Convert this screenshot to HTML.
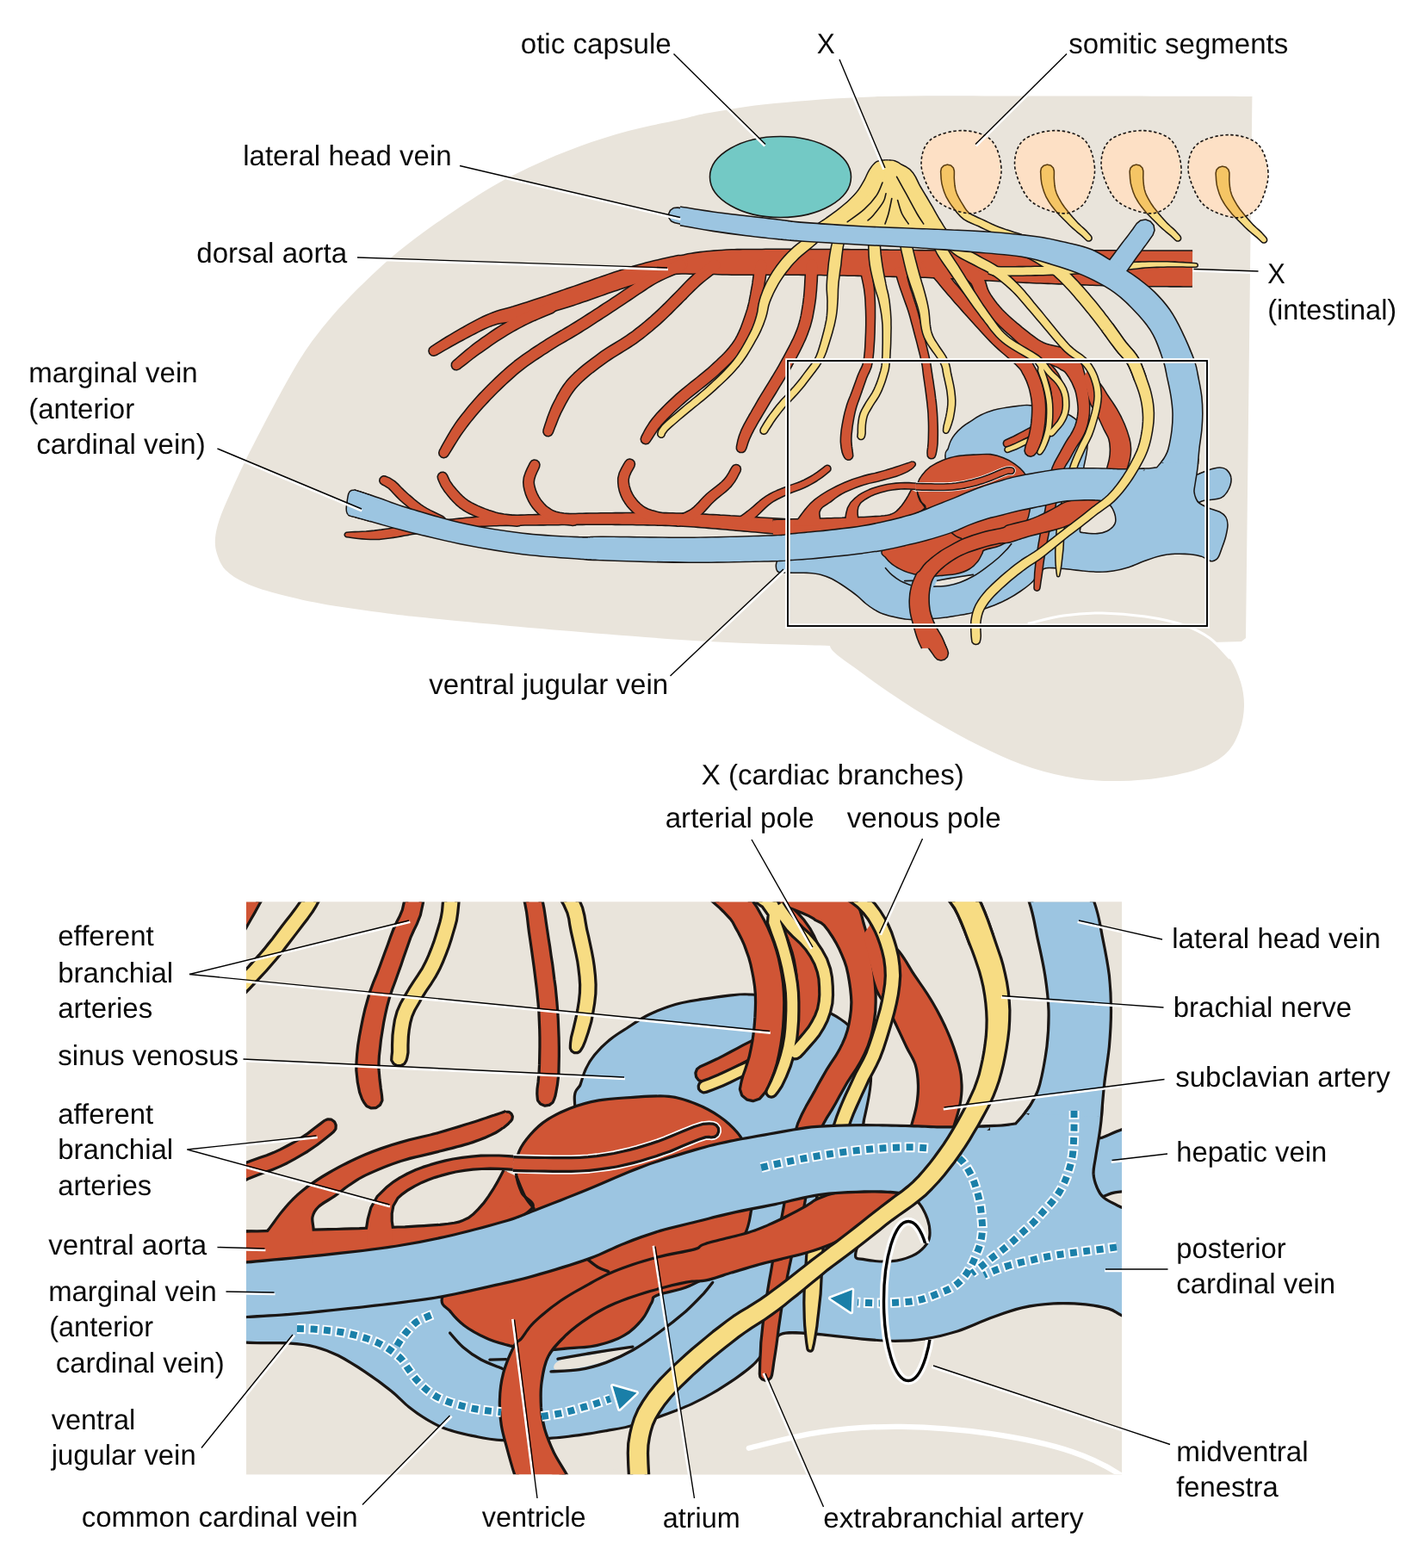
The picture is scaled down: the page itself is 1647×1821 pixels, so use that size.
<!DOCTYPE html>
<html lang="en"><head><meta charset="utf-8"><title>Branchial circulation and vagus nerve</title>
<style>
html,body{margin:0;padding:0;background:#fff}
svg{display:block}
.b{fill:#1a1614;stroke:#1a1614;stroke-linejoin:round}
.e{fill:none;stroke-linejoin:round}
.t{fill:none;stroke-linecap:round;stroke-linejoin:round}
text{font-family:"Liberation Sans",Arial,Helvetica,sans-serif;font-size:33px;fill:#0a0a0a;text-rendering:geometricPrecision}
</style></head><body>
<svg width="1647" height="1821" viewBox="0 0 1647 1821">
<defs>
<clipPath id="cb"><rect x="286" y="1047.4" width="1017" height="664.8"/></clipPath>
<g id="fig">
<path d="M1454.4 112C1412 111.9 1271.7 111.5 1200 111.5C1128.3 111.5 1074 110.6 1024 112C974 113.4 933.3 116.8 900 120C866.7 123.2 842.5 127.8 824 131C805.5 134.2 804.7 135.5 789 139C773.3 142.5 749.3 146.8 730 152C710.7 157.2 691.3 163.3 673 170C654.7 176.7 636.7 184.3 620 192C603.3 199.7 589.7 206.3 573 216C556.3 225.7 536.7 238.7 520 250C503.3 261.3 486.3 273.7 473 284C459.7 294.3 451 302 440 312C429 322 417 333.7 407 344C397 354.3 388.3 364 380 374C371.7 384 364.5 393 357 404C349.5 415 343.3 425.3 335 440C326.7 454.7 315.3 476.2 307 492C298.7 507.8 291.7 521.3 285 535C278.3 548.7 272 562.7 267 574C262 585.3 257.8 594.5 255 603C252.2 611.5 250.5 618.3 250 625C249.5 631.7 250 636.8 252 643C254 649.2 256.5 656.3 262 662C267.5 667.7 275.3 672.5 285 677C294.7 681.5 305.3 685 320 689C334.7 693 353 697.3 373 701C393 704.7 418.8 708.2 440 711C461.2 713.8 465 714.5 500 718C535 721.5 596 727.5 650 732C704 736.5 771.7 742 824 745C876.3 748 940.7 749.2 964 750L1200 752L1442 745L1447 741Z" fill="#e9e4db"/><path d="M1195 724C1217.5 720.2 1220.8 717 1235 715C1249.2 713 1264.2 711.8 1280 712C1295.8 712.2 1314.2 713.7 1330 716C1345.8 718.3 1362.5 721.8 1375 726C1387.5 730.2 1396.2 734.7 1405 741C1413.8 747.3 1422 755.5 1428 764C1434 772.5 1438.2 782.7 1441 792C1443.8 801.3 1445.2 810.7 1445 820C1444.8 829.3 1443.3 839 1440 848C1436.7 857 1432.5 866.7 1425 874C1417.5 881.3 1407.7 887.2 1395 892C1382.3 896.8 1364.8 900.5 1349 903C1333.2 905.5 1316.5 906.8 1300 907C1283.5 907.2 1266.8 906.5 1250 904C1233.2 901.5 1215.7 897.3 1199 892C1182.3 886.7 1166.5 879.7 1150 872C1133.5 864.3 1116.8 855.5 1100 846C1083.2 836.5 1065.8 826 1049 815C1032.2 804 1013.2 790.8 999 780C984.8 769.2 963.8 756.7 964 750C964.2 743.3 977.3 742 1000 740C1022.7 738 1067.5 740.7 1100 738C1132.5 735.3 1172.5 727.8 1195 724Z" fill="#e9e4db"/><path d="M1195 724C1201.7 722.5 1220.8 717 1235 715C1249.2 713 1264.2 711.8 1280 712C1295.8 712.2 1314.2 713.7 1330 716C1345.8 718.3 1362.5 721.8 1375 726C1387.5 730.2 1396.2 734.7 1405 741C1413.8 747.3 1424.2 760.2 1428 764" fill="none" stroke="#fff" stroke-width="3" stroke-linecap="round"/>
<defs><path id="p1" d="M1093.4 199.2L1093.6 202.5L1093.9 207.6L1094.6 212.9L1095.9 217.9L1097.5 223L1099.7 228.2L1101.9 232.1L1104.3 235.9L1106.9 239.5L1109.4 242.7L1112.4 246.7L1115.8 250.6L1120.1 254.2L1124.2 256.6L1128.5 258.6L1132.8 260.4L1136.9 262.1L1140.8 264L1144.8 265.9L1148.8 267.8L1153.1 269.7L1157.5 271.4L1162 273.1L1166.6 274.7L1171.3 276.3L1175.6 277.6L1180.2 279L1184.8 280.4L1188.7 281.5L1191.4 282.3L1193.4 282.3L1195.1 281.4L1196.1 279.8L1196.1 277.8L1195.2 276.1L1193.6 275.1L1190.8 274.3L1186.9 273.2L1182.4 271.8L1177.8 270.4L1173.7 269.1L1169 267.6L1164.5 266L1160.2 264.4L1155.9 262.7L1151.9 261L1148 259.1L1144.1 257.2L1140.1 255.3L1135.8 253.4L1131.7 251.5L1127.9 249.7L1124.9 247.8L1122 244.8L1119.7 241.4L1117.2 237.3L1115.2 234L1113.2 230.5L1111.4 227L1110.1 223.8L1108.9 219.6L1108.2 215.3L1107.8 211.1L1107.5 206.7L1107.6 202.1L1107.6 198.8L1106.6 195.3L1103.9 192.7L1100.3 191.9L1096.8 192.9L1094.2 195.6Z"/><path id="p2" d="M1209.4 199.2L1209.6 202.5L1209.9 207.6L1210.6 212.9L1211.9 217.9L1213.5 223L1215.7 228.2L1217.9 232.1L1220.3 235.9L1222.9 239.5L1225.5 242.8L1228.7 246.7L1232.1 250.2L1235.5 253.7L1239.3 257.5L1243.2 261.4L1247.1 265L1250.8 268.2L1254.2 271L1257 273.3L1260.3 276.4L1262.4 278.5L1263.6 279.3L1265.1 279.3L1266.5 278.6L1267.3 277.4L1267.3 275.9L1266.6 274.5L1264.6 272.2L1261.4 268.7L1258.5 266L1255.2 263.1L1251.9 260L1248.5 256.3L1244.9 252.3L1241.5 248.3L1238.5 244.6L1235.7 241L1233.1 237.2L1231.2 234L1229.2 230.5L1227.4 227L1226.1 223.8L1224.9 219.6L1224.2 215.3L1223.8 211.1L1223.5 206.7L1223.6 202.1L1223.6 198.8L1222.6 195.3L1219.9 192.7L1216.3 191.9L1212.8 192.9L1210.2 195.6Z"/><path id="p3" d="M1312.9 199.2L1313.1 202.5L1313.4 207.6L1314.1 212.9L1315.4 217.9L1317 223L1319.2 228.2L1321.4 232.1L1323.8 235.9L1326.4 239.5L1329 242.8L1332.2 246.7L1335.6 250.2L1339 253.7L1342.8 257.5L1346.7 261.4L1350.6 265L1354.3 268.2L1357.7 271L1360.5 273.3L1363.8 276.4L1365.9 278.5L1367.1 279.3L1368.6 279.3L1370 278.6L1370.8 277.4L1370.8 275.9L1370.1 274.5L1368.1 272.2L1364.9 268.7L1362 266L1358.7 263.1L1355.4 260L1352 256.3L1348.4 252.3L1345 248.3L1342 244.6L1339.2 241L1336.6 237.2L1334.7 234L1332.7 230.5L1330.9 227L1329.6 223.8L1328.4 219.6L1327.7 215.3L1327.3 211.1L1327 206.7L1327.1 202.1L1327.1 198.8L1326.1 195.3L1323.4 192.7L1319.8 191.9L1316.3 192.9L1313.7 195.6Z"/><path id="p4" d="M1412.9 201.2L1413.1 204.5L1413.4 209.6L1414.1 214.9L1415.4 219.9L1417 225L1419.2 230.2L1421.4 234.1L1423.8 237.9L1426.4 241.5L1429 244.8L1432.2 248.7L1435.6 252.2L1439 255.7L1442.8 259.5L1446.7 263.4L1450.6 267L1454.3 270.2L1457.7 273L1460.5 275.3L1463.8 278.4L1465.9 280.5L1467.1 281.3L1468.6 281.3L1470 280.6L1470.8 279.4L1470.8 277.9L1470.1 276.5L1468.1 274.2L1464.9 270.7L1462 268L1458.7 265.1L1455.4 262L1452 258.3L1448.4 254.3L1445 250.3L1442 246.6L1439.2 243L1436.6 239.2L1434.7 236L1432.7 232.5L1430.9 229L1429.6 225.8L1428.4 221.6L1427.7 217.3L1427.3 213.1L1427 208.7L1427.1 204.1L1427.1 200.8L1426.1 197.3L1423.4 194.7L1419.8 193.9L1416.3 194.9L1413.7 197.6Z"/></defs>
<path d="M1093.4 199.2L1093.6 202.5L1093.9 207.6L1094.6 212.9L1095.9 217.9L1097.5 223L1099.7 228.2L1101.9 232.1L1104.3 235.9L1106.9 239.5L1109.4 242.7L1112.4 246.7L1115.8 250.6L1120.1 254.2L1124.2 256.6L1128.5 258.6L1132.8 260.4L1136.9 262.1L1140.8 264L1144.8 265.9L1148.8 267.8L1153.1 269.7L1157.5 271.4L1162 273.1L1166.6 274.7L1171.3 276.3L1175.6 277.6L1180.2 279L1184.8 280.4L1188.7 281.5L1191.4 282.3L1193.4 282.3L1195.1 281.4L1196.1 279.8L1196.1 277.8L1195.2 276.1L1193.6 275.1L1190.8 274.3L1186.9 273.2L1182.4 271.8L1177.8 270.4L1173.7 269.1L1169 267.6L1164.5 266L1160.2 264.4L1155.9 262.7L1151.9 261L1148 259.1L1144.1 257.2L1140.1 255.3L1135.8 253.4L1131.7 251.5L1127.9 249.7L1124.9 247.8L1122 244.8L1119.7 241.4L1117.2 237.3L1115.2 234L1113.2 230.5L1111.4 227L1110.1 223.8L1108.9 219.6L1108.2 215.3L1107.8 211.1L1107.5 206.7L1107.6 202.1L1107.6 198.8L1106.6 195.3L1103.9 192.7L1100.3 191.9L1096.8 192.9L1094.2 195.6Z" class="e" stroke="#1a1614" stroke-width="3.1"/>
<path d="M1209.4 199.2L1209.6 202.5L1209.9 207.6L1210.6 212.9L1211.9 217.9L1213.5 223L1215.7 228.2L1217.9 232.1L1220.3 235.9L1222.9 239.5L1225.5 242.8L1228.7 246.7L1232.1 250.2L1235.5 253.7L1239.3 257.5L1243.2 261.4L1247.1 265L1250.8 268.2L1254.2 271L1257 273.3L1260.3 276.4L1262.4 278.5L1263.6 279.3L1265.1 279.3L1266.5 278.6L1267.3 277.4L1267.3 275.9L1266.6 274.5L1264.6 272.2L1261.4 268.7L1258.5 266L1255.2 263.1L1251.9 260L1248.5 256.3L1244.9 252.3L1241.5 248.3L1238.5 244.6L1235.7 241L1233.1 237.2L1231.2 234L1229.2 230.5L1227.4 227L1226.1 223.8L1224.9 219.6L1224.2 215.3L1223.8 211.1L1223.5 206.7L1223.6 202.1L1223.6 198.8L1222.6 195.3L1219.9 192.7L1216.3 191.9L1212.8 192.9L1210.2 195.6Z" class="e" stroke="#1a1614" stroke-width="3.1"/>
<path d="M1312.9 199.2L1313.1 202.5L1313.4 207.6L1314.1 212.9L1315.4 217.9L1317 223L1319.2 228.2L1321.4 232.1L1323.8 235.9L1326.4 239.5L1329 242.8L1332.2 246.7L1335.6 250.2L1339 253.7L1342.8 257.5L1346.7 261.4L1350.6 265L1354.3 268.2L1357.7 271L1360.5 273.3L1363.8 276.4L1365.9 278.5L1367.1 279.3L1368.6 279.3L1370 278.6L1370.8 277.4L1370.8 275.9L1370.1 274.5L1368.1 272.2L1364.9 268.7L1362 266L1358.7 263.1L1355.4 260L1352 256.3L1348.4 252.3L1345 248.3L1342 244.6L1339.2 241L1336.6 237.2L1334.7 234L1332.7 230.5L1330.9 227L1329.6 223.8L1328.4 219.6L1327.7 215.3L1327.3 211.1L1327 206.7L1327.1 202.1L1327.1 198.8L1326.1 195.3L1323.4 192.7L1319.8 191.9L1316.3 192.9L1313.7 195.6Z" class="e" stroke="#1a1614" stroke-width="3.1"/>
<path d="M1412.9 201.2L1413.1 204.5L1413.4 209.6L1414.1 214.9L1415.4 219.9L1417 225L1419.2 230.2L1421.4 234.1L1423.8 237.9L1426.4 241.5L1429 244.8L1432.2 248.7L1435.6 252.2L1439 255.7L1442.8 259.5L1446.7 263.4L1450.6 267L1454.3 270.2L1457.7 273L1460.5 275.3L1463.8 278.4L1465.9 280.5L1467.1 281.3L1468.6 281.3L1470 280.6L1470.8 279.4L1470.8 277.9L1470.1 276.5L1468.1 274.2L1464.9 270.7L1462 268L1458.7 265.1L1455.4 262L1452 258.3L1448.4 254.3L1445 250.3L1442 246.6L1439.2 243L1436.6 239.2L1434.7 236L1432.7 232.5L1430.9 229L1429.6 225.8L1428.4 221.6L1427.7 217.3L1427.3 213.1L1427 208.7L1427.1 204.1L1427.1 200.8L1426.1 197.3L1423.4 194.7L1419.8 193.9L1416.3 194.9L1413.7 197.6Z" class="e" stroke="#1a1614" stroke-width="3.1"/>
<use href="#p1" fill="#f7dc83"/>
<use href="#p2" fill="#f7dc83"/>
<use href="#p3" fill="#f7dc83"/>
<use href="#p4" fill="#f7dc83"/>
<clipPath id="cs"><path d="M1163 195C1162.2 184.1 1158.4 169.5 1150.8 162.3C1143.2 155.1 1128.9 151.6 1117.2 151.6C1105.5 151.6 1088.7 155.8 1080.8 162.3C1072.9 168.8 1070 180.3 1070 190.4C1070 200.5 1076.3 214.9 1080.8 223C1085.2 231.1 1089.4 234.8 1096.7 238.9C1104 243 1116.9 247.2 1124.7 247.8C1132.5 248.4 1138.3 245.9 1143.4 242.6C1148.5 239.2 1152.2 235.6 1155.5 227.7C1158.8 219.8 1163.8 205.9 1163 195ZM1271.5 195C1270.7 184.1 1266.9 169.5 1259.3 162.3C1251.7 155.1 1237.4 151.6 1225.7 151.6C1214 151.6 1197.2 155.8 1189.3 162.3C1181.4 168.8 1178.5 180.3 1178.5 190.4C1178.5 200.5 1184.8 214.9 1189.3 223C1193.8 231.1 1197.9 234.8 1205.2 238.9C1212.5 243 1225.4 247.2 1233.2 247.8C1241 248.4 1246.8 245.9 1251.9 242.6C1257 239.2 1260.7 235.6 1264 227.7C1267.3 219.8 1272.3 205.9 1271.5 195ZM1372 195C1371.2 184.1 1367.4 169.5 1359.8 162.3C1352.2 155.1 1337.9 151.6 1326.2 151.6C1314.5 151.6 1297.7 155.8 1289.8 162.3C1281.9 168.8 1279 180.3 1279 190.4C1279 200.5 1285.3 214.9 1289.8 223C1294.2 231.1 1298.4 234.8 1305.7 238.9C1313 243 1325.9 247.2 1333.7 247.8C1341.5 248.4 1347.3 245.9 1352.4 242.6C1357.5 239.2 1361.2 235.6 1364.5 227.7C1367.8 219.8 1372.8 205.9 1372 195ZM1473 200C1472.2 189.1 1468.4 174.5 1460.8 167.3C1453.2 160.1 1438.9 156.6 1427.2 156.6C1415.5 156.6 1398.7 160.8 1390.8 167.3C1382.9 173.8 1380 185.3 1380 195.4C1380 205.5 1386.3 219.9 1390.8 228C1395.2 236.1 1399.4 239.8 1406.7 243.9C1414 248 1426.9 252.2 1434.7 252.8C1442.5 253.4 1448.3 250.9 1453.4 247.6C1458.5 244.2 1462.2 240.6 1465.5 232.7C1468.8 224.8 1473.8 210.9 1473 200Z"/></clipPath><path d="M1163 195C1162.2 184.1 1158.4 169.5 1150.8 162.3C1143.2 155.1 1128.9 151.6 1117.2 151.6C1105.5 151.6 1088.7 155.8 1080.8 162.3C1072.9 168.8 1070 180.3 1070 190.4C1070 200.5 1076.3 214.9 1080.8 223C1085.2 231.1 1089.4 234.8 1096.7 238.9C1104 243 1116.9 247.2 1124.7 247.8C1132.5 248.4 1138.3 245.9 1143.4 242.6C1148.5 239.2 1152.2 235.6 1155.5 227.7C1158.8 219.8 1163.8 205.9 1163 195ZM1271.5 195C1270.7 184.1 1266.9 169.5 1259.3 162.3C1251.7 155.1 1237.4 151.6 1225.7 151.6C1214 151.6 1197.2 155.8 1189.3 162.3C1181.4 168.8 1178.5 180.3 1178.5 190.4C1178.5 200.5 1184.8 214.9 1189.3 223C1193.8 231.1 1197.9 234.8 1205.2 238.9C1212.5 243 1225.4 247.2 1233.2 247.8C1241 248.4 1246.8 245.9 1251.9 242.6C1257 239.2 1260.7 235.6 1264 227.7C1267.3 219.8 1272.3 205.9 1271.5 195ZM1372 195C1371.2 184.1 1367.4 169.5 1359.8 162.3C1352.2 155.1 1337.9 151.6 1326.2 151.6C1314.5 151.6 1297.7 155.8 1289.8 162.3C1281.9 168.8 1279 180.3 1279 190.4C1279 200.5 1285.3 214.9 1289.8 223C1294.2 231.1 1298.4 234.8 1305.7 238.9C1313 243 1325.9 247.2 1333.7 247.8C1341.5 248.4 1347.3 245.9 1352.4 242.6C1357.5 239.2 1361.2 235.6 1364.5 227.7C1367.8 219.8 1372.8 205.9 1372 195ZM1473 200C1472.2 189.1 1468.4 174.5 1460.8 167.3C1453.2 160.1 1438.9 156.6 1427.2 156.6C1415.5 156.6 1398.7 160.8 1390.8 167.3C1382.9 173.8 1380 185.3 1380 195.4C1380 205.5 1386.3 219.9 1390.8 228C1395.2 236.1 1399.4 239.8 1406.7 243.9C1414 248 1426.9 252.2 1434.7 252.8C1442.5 253.4 1448.3 250.9 1453.4 247.6C1458.5 244.2 1462.2 240.6 1465.5 232.7C1468.8 224.8 1473.8 210.9 1473 200Z" fill="#fde0c5"/><g clip-path="url(#cs)"><defs><path id="p5" d="M1093.4 199.2L1093.6 202.5L1093.9 207.6L1094.6 212.9L1095.9 217.9L1097.5 223L1099.7 228.2L1101.9 232.1L1104.3 235.9L1106.9 239.5L1109.4 242.7L1112.4 246.7L1115.8 250.6L1120.1 254.2L1124.2 256.6L1128.5 258.6L1132.8 260.4L1136.9 262.1L1140.8 264L1144.8 265.9L1148.8 267.8L1153.1 269.7L1157.5 271.4L1162 273.1L1166.6 274.7L1171.3 276.3L1175.6 277.6L1180.2 279L1184.8 280.4L1188.7 281.5L1191.4 282.3L1193.4 282.3L1195.1 281.4L1196.1 279.8L1196.1 277.8L1195.2 276.1L1193.6 275.1L1190.8 274.3L1186.9 273.2L1182.4 271.8L1177.8 270.4L1173.7 269.1L1169 267.6L1164.5 266L1160.2 264.4L1155.9 262.7L1151.9 261L1148 259.1L1144.1 257.2L1140.1 255.3L1135.8 253.4L1131.7 251.5L1127.9 249.7L1124.9 247.8L1122 244.8L1119.7 241.4L1117.2 237.3L1115.2 234L1113.2 230.5L1111.4 227L1110.1 223.8L1108.9 219.6L1108.2 215.3L1107.8 211.1L1107.5 206.7L1107.6 202.1L1107.6 198.8L1106.6 195.3L1103.9 192.7L1100.3 191.9L1096.8 192.9L1094.2 195.6Z"/><path id="p6" d="M1209.4 199.2L1209.6 202.5L1209.9 207.6L1210.6 212.9L1211.9 217.9L1213.5 223L1215.7 228.2L1217.9 232.1L1220.3 235.9L1222.9 239.5L1225.5 242.8L1228.7 246.7L1232.1 250.2L1235.5 253.7L1239.3 257.5L1243.2 261.4L1247.1 265L1250.8 268.2L1254.2 271L1257 273.3L1260.3 276.4L1262.4 278.5L1263.6 279.3L1265.1 279.3L1266.5 278.6L1267.3 277.4L1267.3 275.9L1266.6 274.5L1264.6 272.2L1261.4 268.7L1258.5 266L1255.2 263.1L1251.9 260L1248.5 256.3L1244.9 252.3L1241.5 248.3L1238.5 244.6L1235.7 241L1233.1 237.2L1231.2 234L1229.2 230.5L1227.4 227L1226.1 223.8L1224.9 219.6L1224.2 215.3L1223.8 211.1L1223.5 206.7L1223.6 202.1L1223.6 198.8L1222.6 195.3L1219.9 192.7L1216.3 191.9L1212.8 192.9L1210.2 195.6Z"/><path id="p7" d="M1312.9 199.2L1313.1 202.5L1313.4 207.6L1314.1 212.9L1315.4 217.9L1317 223L1319.2 228.2L1321.4 232.1L1323.8 235.9L1326.4 239.5L1329 242.8L1332.2 246.7L1335.6 250.2L1339 253.7L1342.8 257.5L1346.7 261.4L1350.6 265L1354.3 268.2L1357.7 271L1360.5 273.3L1363.8 276.4L1365.9 278.5L1367.1 279.3L1368.6 279.3L1370 278.6L1370.8 277.4L1370.8 275.9L1370.1 274.5L1368.1 272.2L1364.9 268.7L1362 266L1358.7 263.1L1355.4 260L1352 256.3L1348.4 252.3L1345 248.3L1342 244.6L1339.2 241L1336.6 237.2L1334.7 234L1332.7 230.5L1330.9 227L1329.6 223.8L1328.4 219.6L1327.7 215.3L1327.3 211.1L1327 206.7L1327.1 202.1L1327.1 198.8L1326.1 195.3L1323.4 192.7L1319.8 191.9L1316.3 192.9L1313.7 195.6Z"/><path id="p8" d="M1412.9 201.2L1413.1 204.5L1413.4 209.6L1414.1 214.9L1415.4 219.9L1417 225L1419.2 230.2L1421.4 234.1L1423.8 237.9L1426.4 241.5L1429 244.8L1432.2 248.7L1435.6 252.2L1439 255.7L1442.8 259.5L1446.7 263.4L1450.6 267L1454.3 270.2L1457.7 273L1460.5 275.3L1463.8 278.4L1465.9 280.5L1467.1 281.3L1468.6 281.3L1470 280.6L1470.8 279.4L1470.8 277.9L1470.1 276.5L1468.1 274.2L1464.9 270.7L1462 268L1458.7 265.1L1455.4 262L1452 258.3L1448.4 254.3L1445 250.3L1442 246.6L1439.2 243L1436.6 239.2L1434.7 236L1432.7 232.5L1430.9 229L1429.6 225.8L1428.4 221.6L1427.7 217.3L1427.3 213.1L1427 208.7L1427.1 204.1L1427.1 200.8L1426.1 197.3L1423.4 194.7L1419.8 193.9L1416.3 194.9L1413.7 197.6Z"/></defs>
<path d="M1093.4 199.2L1093.6 202.5L1093.9 207.6L1094.6 212.9L1095.9 217.9L1097.5 223L1099.7 228.2L1101.9 232.1L1104.3 235.9L1106.9 239.5L1109.4 242.7L1112.4 246.7L1115.8 250.6L1120.1 254.2L1124.2 256.6L1128.5 258.6L1132.8 260.4L1136.9 262.1L1140.8 264L1144.8 265.9L1148.8 267.8L1153.1 269.7L1157.5 271.4L1162 273.1L1166.6 274.7L1171.3 276.3L1175.6 277.6L1180.2 279L1184.8 280.4L1188.7 281.5L1191.4 282.3L1193.4 282.3L1195.1 281.4L1196.1 279.8L1196.1 277.8L1195.2 276.1L1193.6 275.1L1190.8 274.3L1186.9 273.2L1182.4 271.8L1177.8 270.4L1173.7 269.1L1169 267.6L1164.5 266L1160.2 264.4L1155.9 262.7L1151.9 261L1148 259.1L1144.1 257.2L1140.1 255.3L1135.8 253.4L1131.7 251.5L1127.9 249.7L1124.9 247.8L1122 244.8L1119.7 241.4L1117.2 237.3L1115.2 234L1113.2 230.5L1111.4 227L1110.1 223.8L1108.9 219.6L1108.2 215.3L1107.8 211.1L1107.5 206.7L1107.6 202.1L1107.6 198.8L1106.6 195.3L1103.9 192.7L1100.3 191.9L1096.8 192.9L1094.2 195.6Z" class="e" stroke="#5a3d12" stroke-width="3.1"/>
<path d="M1209.4 199.2L1209.6 202.5L1209.9 207.6L1210.6 212.9L1211.9 217.9L1213.5 223L1215.7 228.2L1217.9 232.1L1220.3 235.9L1222.9 239.5L1225.5 242.8L1228.7 246.7L1232.1 250.2L1235.5 253.7L1239.3 257.5L1243.2 261.4L1247.1 265L1250.8 268.2L1254.2 271L1257 273.3L1260.3 276.4L1262.4 278.5L1263.6 279.3L1265.1 279.3L1266.5 278.6L1267.3 277.4L1267.3 275.9L1266.6 274.5L1264.6 272.2L1261.4 268.7L1258.5 266L1255.2 263.1L1251.9 260L1248.5 256.3L1244.9 252.3L1241.5 248.3L1238.5 244.6L1235.7 241L1233.1 237.2L1231.2 234L1229.2 230.5L1227.4 227L1226.1 223.8L1224.9 219.6L1224.2 215.3L1223.8 211.1L1223.5 206.7L1223.6 202.1L1223.6 198.8L1222.6 195.3L1219.9 192.7L1216.3 191.9L1212.8 192.9L1210.2 195.6Z" class="e" stroke="#5a3d12" stroke-width="3.1"/>
<path d="M1312.9 199.2L1313.1 202.5L1313.4 207.6L1314.1 212.9L1315.4 217.9L1317 223L1319.2 228.2L1321.4 232.1L1323.8 235.9L1326.4 239.5L1329 242.8L1332.2 246.7L1335.6 250.2L1339 253.7L1342.8 257.5L1346.7 261.4L1350.6 265L1354.3 268.2L1357.7 271L1360.5 273.3L1363.8 276.4L1365.9 278.5L1367.1 279.3L1368.6 279.3L1370 278.6L1370.8 277.4L1370.8 275.9L1370.1 274.5L1368.1 272.2L1364.9 268.7L1362 266L1358.7 263.1L1355.4 260L1352 256.3L1348.4 252.3L1345 248.3L1342 244.6L1339.2 241L1336.6 237.2L1334.7 234L1332.7 230.5L1330.9 227L1329.6 223.8L1328.4 219.6L1327.7 215.3L1327.3 211.1L1327 206.7L1327.1 202.1L1327.1 198.8L1326.1 195.3L1323.4 192.7L1319.8 191.9L1316.3 192.9L1313.7 195.6Z" class="e" stroke="#5a3d12" stroke-width="3.1"/>
<path d="M1412.9 201.2L1413.1 204.5L1413.4 209.6L1414.1 214.9L1415.4 219.9L1417 225L1419.2 230.2L1421.4 234.1L1423.8 237.9L1426.4 241.5L1429 244.8L1432.2 248.7L1435.6 252.2L1439 255.7L1442.8 259.5L1446.7 263.4L1450.6 267L1454.3 270.2L1457.7 273L1460.5 275.3L1463.8 278.4L1465.9 280.5L1467.1 281.3L1468.6 281.3L1470 280.6L1470.8 279.4L1470.8 277.9L1470.1 276.5L1468.1 274.2L1464.9 270.7L1462 268L1458.7 265.1L1455.4 262L1452 258.3L1448.4 254.3L1445 250.3L1442 246.6L1439.2 243L1436.6 239.2L1434.7 236L1432.7 232.5L1430.9 229L1429.6 225.8L1428.4 221.6L1427.7 217.3L1427.3 213.1L1427 208.7L1427.1 204.1L1427.1 200.8L1426.1 197.3L1423.4 194.7L1419.8 193.9L1416.3 194.9L1413.7 197.6Z" class="e" stroke="#5a3d12" stroke-width="3.1"/>
<use href="#p5" fill="#f5c565"/>
<use href="#p6" fill="#f5c565"/>
<use href="#p7" fill="#f5c565"/>
<use href="#p8" fill="#f5c565"/></g><path d="M1163 195C1162.2 184.1 1158.4 169.5 1150.8 162.3C1143.2 155.1 1128.9 151.6 1117.2 151.6C1105.5 151.6 1088.7 155.8 1080.8 162.3C1072.9 168.8 1070 180.3 1070 190.4C1070 200.5 1076.3 214.9 1080.8 223C1085.2 231.1 1089.4 234.8 1096.7 238.9C1104 243 1116.9 247.2 1124.7 247.8C1132.5 248.4 1138.3 245.9 1143.4 242.6C1148.5 239.2 1152.2 235.6 1155.5 227.7C1158.8 219.8 1163.8 205.9 1163 195ZM1271.5 195C1270.7 184.1 1266.9 169.5 1259.3 162.3C1251.7 155.1 1237.4 151.6 1225.7 151.6C1214 151.6 1197.2 155.8 1189.3 162.3C1181.4 168.8 1178.5 180.3 1178.5 190.4C1178.5 200.5 1184.8 214.9 1189.3 223C1193.8 231.1 1197.9 234.8 1205.2 238.9C1212.5 243 1225.4 247.2 1233.2 247.8C1241 248.4 1246.8 245.9 1251.9 242.6C1257 239.2 1260.7 235.6 1264 227.7C1267.3 219.8 1272.3 205.9 1271.5 195ZM1372 195C1371.2 184.1 1367.4 169.5 1359.8 162.3C1352.2 155.1 1337.9 151.6 1326.2 151.6C1314.5 151.6 1297.7 155.8 1289.8 162.3C1281.9 168.8 1279 180.3 1279 190.4C1279 200.5 1285.3 214.9 1289.8 223C1294.2 231.1 1298.4 234.8 1305.7 238.9C1313 243 1325.9 247.2 1333.7 247.8C1341.5 248.4 1347.3 245.9 1352.4 242.6C1357.5 239.2 1361.2 235.6 1364.5 227.7C1367.8 219.8 1372.8 205.9 1372 195ZM1473 200C1472.2 189.1 1468.4 174.5 1460.8 167.3C1453.2 160.1 1438.9 156.6 1427.2 156.6C1415.5 156.6 1398.7 160.8 1390.8 167.3C1382.9 173.8 1380 185.3 1380 195.4C1380 205.5 1386.3 219.9 1390.8 228C1395.2 236.1 1399.4 239.8 1406.7 243.9C1414 248 1426.9 252.2 1434.7 252.8C1442.5 253.4 1448.3 250.9 1453.4 247.6C1458.5 244.2 1462.2 240.6 1465.5 232.7C1468.8 224.8 1473.8 210.9 1473 200Z" fill="none" stroke="#1a1614" stroke-width="1.6" stroke-dasharray="3.4 2.6"/>
<ellipse cx="906.5" cy="205.5" rx="82" ry="47" fill="#73c9c5" stroke="#1a1614" stroke-width="1.6"/>
<defs><path id="p50" d="M1383.1 554.9C1384.6 549.3 1388.4 552.8 1392 551.4C1395.5 550 1400.2 547.7 1404.3 546.4C1408.4 545.1 1413.1 543.8 1416.4 543.7C1419.7 543.6 1421.9 544.2 1424 546C1426.1 547.9 1428.6 551.4 1429.1 554.7C1429.7 558 1428.8 562.2 1427.4 565.7C1426 569.2 1423.2 573.4 1420.8 575.5C1418.4 577.7 1416.6 578 1413 578.8C1409.3 579.6 1402.3 579.8 1398.8 580.5C1395.3 581.1 1394.6 582.1 1392 582.8C1389.4 583.4 1384.6 589.3 1383.1 584.7C1381.6 580 1381.6 560.4 1383.1 554.9Z"/></defs>
<use href="#p50" class="b" stroke-width="3.1"/>
<use href="#p50" fill="#9cc5e1"/>
<defs><path id="p51" d="M903.5 651C903.2 652.1 901.9 655.2 902.1 657.3C902.2 659.4 902.2 662.4 904.4 663.5C906.7 664.7 911.5 664 915.3 664.2C919 664.4 922.9 664.4 927 664.5C931.1 664.6 935.4 664.3 939.8 664.7C944.3 665 949.3 665.5 953.7 666.7C958.2 667.9 961.9 669.3 966.6 671.6C971.2 674 976.5 677.3 981.4 680.6C986.4 683.9 992.2 688.2 996.3 691.5C1000.4 694.8 1002.8 697.8 1006.1 700.4C1009.4 703.1 1012.8 705.4 1016.1 707.4C1019.4 709.3 1021.9 710.8 1026 712.3C1030.1 713.8 1035.6 715.2 1040.9 716.3C1046.1 717.4 1050.7 718.6 1057.7 718.8C1064.7 719.1 1075.6 718.3 1082.7 717.8C1089.9 717.4 1095.2 716.6 1100.6 715.9C1106.1 715.2 1110.5 714.4 1115.5 713.5C1120.4 712.6 1123.8 712.4 1130.3 710.5C1136.9 708.6 1148.4 704.5 1155 702C1161.6 699.4 1164.9 697.8 1169.9 695.1C1174.8 692.5 1180.3 689.1 1184.7 686.1C1189.2 683.1 1193.7 679.7 1196.5 677.2C1199.4 674.7 1199.9 673.5 1201.8 671.2C1203.7 668.9 1205.8 665.6 1208 663.5C1210.3 661.5 1210.8 659.6 1215.4 659C1220.1 658.3 1228.8 659.3 1235.8 659.8C1242.7 660.4 1250.5 661.6 1257.3 662.2C1264 662.8 1270.4 663.4 1276.3 663.4C1282.3 663.4 1287.3 663.1 1293.1 662.2C1298.9 661.3 1305 659.9 1311 658C1316.9 656.1 1322.9 653 1328.9 650.8C1334.9 648.6 1340.8 646.3 1346.8 644.9C1352.8 643.5 1358.7 642.8 1364.7 642.5C1370.7 642.2 1377.5 642.5 1382.6 643C1387.8 643.5 1392.3 644.4 1395.7 645.4C1399.1 646.5 1400.9 648.2 1402.9 649.1C1405 650 1406.2 651.4 1408 651C1409.9 650.7 1412.4 649.5 1414.2 647C1415.9 644.5 1417.1 640 1418.6 636C1420.1 632 1421.9 627.2 1423 622.8C1424.1 618.4 1425.2 613.2 1425.2 609.6C1425.2 605.9 1424.5 603.2 1423 600.8C1421.5 598.4 1419.3 596.8 1416.4 595.2C1413.5 593.7 1408.3 592.6 1405.4 591.5C1402.5 590.4 1401 589.7 1398.8 588.5C1396.6 587.4 1393.9 586.2 1392.2 584.7C1390.5 583.2 1389.5 581.7 1388.5 579.4C1387.5 577.1 1386.4 573.9 1386.2 570.8C1386.1 567.8 1387 564.4 1387.5 560.9C1388 557.5 1388.8 553.4 1389.3 550.1C1389.8 546.7 1390.2 543.9 1390.5 541.1C1390.8 538.3 1390.9 534.5 1391 533.2L1352.4 533.2C1351.7 534.2 1349.3 537.4 1347.9 539.1C1346.5 540.8 1344.6 542.8 1344 543.6L1344 543.6C1342.7 543.7 1339.5 544.3 1336.6 544.5C1333.7 544.8 1330.1 544.7 1326.5 545C1322.9 545.3 1316.9 546 1315 546.2L1305.4 554.9C1297.4 556.1 1273.4 559.7 1257.4 562.1C1241.5 564.5 1223.2 566.1 1209.5 569.3C1195.8 572.5 1193 575.7 1175.4 581.3C1157.8 586.9 1126.5 596.5 1104 602.9C1081.4 609.4 1061.5 615 1040.2 619.8C1018.8 624.6 996.8 629 975.9 631.8C955 634.6 927.1 634.6 915 636.6C902.9 638.6 905.4 642.6 903.5 643.8ZM1253.6 616.4C1253.6 619.6 1256.1 618.8 1259.6 619.5C1263.1 620.2 1270 620.8 1274.5 620.4C1278.9 620.1 1283.1 618.8 1286.2 617.4C1289.4 616 1291.7 614 1293.4 612.1C1295.1 610.1 1296.2 608.3 1296.5 605.6C1296.8 602.9 1296.4 599.1 1295.2 595.7C1294 592.4 1292 588.1 1289.3 585.6C1286.6 583.2 1281.9 580.3 1279 580.8C1276.1 581.3 1275 585.2 1271.8 588.5C1268.6 591.8 1262.9 595.9 1259.8 600.5C1256.8 605.2 1253.6 613.2 1253.6 616.4Z"/><path id="p52" d="M1098.7 529.9C1098.3 523.5 1100.9 524.1 1101.9 521.2C1102.9 518.3 1103.6 515.3 1104.9 512.6C1106.2 509.8 1107.6 507.5 1109.7 504.9C1111.9 502.2 1114.9 499.2 1117.9 496.7C1120.9 494.2 1124.1 492.3 1127.7 490C1131.3 487.6 1135 484.9 1139.5 482.7C1143.9 480.6 1149.4 478.4 1154.3 477C1159.3 475.5 1164.2 474.9 1169.2 474.1C1174.2 473.3 1179.6 472.5 1184.1 472C1188.5 471.6 1190.2 471.1 1196.1 471.5C1201.9 471.9 1211.2 472.5 1219.1 474.6C1227 476.6 1237.1 479.9 1243.5 483.7C1249.9 487.6 1254.3 492.2 1257.4 497.7C1260.6 503.1 1262.1 509.3 1262.2 516.4C1262.4 523.5 1260 533.2 1258.4 540.4C1256.8 547.7 1260.8 552.5 1252.6 559.7C1244.5 566.9 1224.7 577.3 1209.5 583.7C1194.3 590.1 1175.9 597.3 1161.5 598.1C1147.1 598.9 1132.7 594.9 1123.2 588.5C1113.6 582.1 1108 569.4 1104 559.7C1099.9 549.9 1099 536.3 1098.7 529.9Z"/></defs>
<use href="#p51" class="b" stroke-width="3.1" fill-rule="evenodd"/>
<use href="#p52" class="b" stroke-width="3.1"/>
<use href="#p51" fill="#9cc5e1" fill-rule="evenodd"/>
<use href="#p52" fill="#9cc5e1"/>
<path d="M1089.6 675.1C1092.6 673.7 1098.8 673.3 1105.4 672.2C1112 671.1 1127.7 667.8 1129.4 668.3C1131.1 668.8 1120.3 673.5 1115.5 675.3C1110.7 677.1 1105.3 678.3 1100.6 679.1C1095.9 679.9 1089 680.8 1087.2 680.1C1085.3 679.4 1086.5 676.4 1089.6 675.1Z" fill="#e9e4db"/><defs></defs>
<path d="M1028.5 659.7C1029.7 661 1033 665.2 1035.9 667.7C1038.7 670.1 1042.2 672.6 1045.8 674.6C1049.4 676.6 1055.7 678.7 1057.7 679.6" class="t" stroke="#1a1614" stroke-width="1.6"/>
<path d="M1050.7 674.6L1059.7 674.4" class="t" stroke="#1a1614" stroke-width="1.6"/>
<path d="M1084.8 681.2C1087.4 681 1095.5 681 1100.6 680.2C1105.7 679.4 1110.5 678 1115.5 676.2C1120.4 674.4 1125.4 672.1 1130.3 669.3C1135.3 666.5 1140.2 663 1145.1 659.3C1150.1 655.7 1155.9 651.1 1160 647.5C1164.1 643.8 1167.4 640.2 1169.9 637.6C1172.3 634.9 1174 632.5 1174.8 631.5" class="t" stroke="#1a1614" stroke-width="1.6"/>
<path d="M1088.6 674.2C1091.4 673.7 1098.5 672.4 1105.4 671.2C1112.4 670.1 1126.2 668 1130.3 667.4" class="t" stroke="#1a1614" stroke-width="1.6"/>
<defs><path id="p24" d="M403 623L405.4 623.3L408.4 623.8L412 624.2L416.1 624.7L420.6 625.1L425.3 625.4L430.3 625.7L435.4 625.8L440.4 625.7L444.3 625.3L448.4 624.8L452.5 624.2L456.9 623.6L461.2 622.9L465.7 622.1L470.1 621.3L474.5 620.6L478.7 619.8L482.9 619.1L486.9 618.5L490.7 617.9L495.1 617.3L499.3 616.7L503.3 616.1L507.2 615.5L511.1 615L514.8 614.5L518.6 614.1L522.5 613.6L526.4 613.2L530.5 612.7L534.5 612.4L538.5 612L542.3 611.7L546.2 611.4L550.2 611.1L554.2 610.9L558.5 610.6L563.1 610.4L567.9 610.2L573.2 610L576.7 609.9L580.4 609.8L584.2 609.7L588.2 609.6L592.3 609.6L596.5 609.5L600.8 609.4L605.1 609.4L609.5 609.3L613.9 609.3L618.4 609.2L622.8 609.2L627.2 609.1L631.6 609.1L635.9 609L640.1 609L644.3 609L648.4 608.9L652.5 608.8L656.5 608.8L660.6 608.7L664.6 608.7L668.6 608.6L672.7 608.6L676.7 608.6L680.9 608.5L685 608.5L689.3 608.5L693.6 608.5L697.9 608.5L702.4 608.5L707 608.5L710.8 608.5L714.6 608.6L718.6 608.6L722.6 608.7L726.7 608.7L730.8 608.8L735 608.8L739.2 608.9L743.4 609L747.7 609L751.9 609.1L756.2 609.2L760.4 609.3L764.6 609.4L768.8 609.5L772.9 609.6L777 609.8L781 609.9L784.9 610.1L788.8 610.2L793.2 610.5L797.6 610.7L801.9 611L806.2 611.3L810.5 611.6L814.7 611.9L818.9 612.2L823 612.6L827.1 612.9L831.2 613.3L835.3 613.6L839.3 614L843.4 614.3L847.4 614.7L851.4 615L855.4 615.4L859.5 615.7L863.8 616.1L868.3 616.5L872.9 616.9L877.6 617.3L882.3 617.7L887 618.2L891.7 618.6L896.3 619L900.7 619.4L905 619.8L909 620.2L912.8 620.6L916.2 620.9L919.3 621.2L922.1 621.5L924.3 621.7L925.7 604.3L923.4 604.2L920.7 604L917.6 603.8L914.1 603.6L910.4 603.4L906.3 603.1L902 602.8L897.6 602.6L893 602.3L888.3 602L883.6 601.7L878.8 601.4L874.1 601.1L869.4 600.8L864.9 600.5L860.5 600.3L856.5 600L852.5 599.8L848.5 599.6L844.5 599.3L840.4 599.1L836.4 598.9L832.3 598.6L828.1 598.4L824 598.2L819.8 597.9L815.6 597.7L811.3 597.5L807 597.3L802.6 597.2L798.2 597L793.8 596.9L789.2 596.8L785.3 596.7L781.4 596.6L777.3 596.5L773.2 596.4L769.1 596.4L764.8 596.4L760.6 596.3L756.4 596.3L752.1 596.3L747.8 596.3L743.5 596.3L739.3 596.3L735.1 596.3L730.9 596.3L726.7 596.3L722.6 596.4L718.6 596.4L714.6 596.4L710.8 596.5L707 596.5L702.4 596.5L697.9 596.6L693.5 596.7L689.1 596.7L684.9 596.8L680.7 596.9L676.6 597L672.5 597.1L668.4 597.2L664.4 597.3L660.3 597.4L656.3 597.5L652.2 597.7L648.2 597.8L644.1 597.9L639.9 598L635.7 598.1L631.4 598.2L627 598.3L622.6 598.4L618.2 598.5L613.7 598.6L609.3 598.8L604.9 598.9L600.5 599L596.3 599.1L592 599.2L587.9 599.4L583.9 599.5L580.1 599.7L576.3 599.8L572.8 600L567.5 600.3L562.6 600.5L558 600.8L553.6 601.1L549.5 601.4L545.4 601.7L541.5 602.1L537.6 602.5L533.6 602.9L529.5 603.3L525.4 603.7L521.4 604.1L517.5 604.5L513.7 604.9L509.8 605.4L505.9 605.8L502 606.3L497.9 606.9L493.7 607.4L489.3 608.1L485.4 608.7L481.3 609.4L477 610.1L472.7 610.9L468.4 611.7L464 612.5L459.6 613.3L455.3 614L451.1 614.7L447 615.3L443.2 615.9L439.6 616.3L434.9 616.9L430.1 617.4L425.3 617.8L420.7 618L416.3 618.2L412.2 618.4L408.6 618.5L405.5 618.7L403 619L402 619.3L401.3 620L401 621L401.3 622L402 622.7Z"/><path id="p25" d="M444.2 562.1L447.4 563.7L452.2 566.8L454.6 569.2L457.8 572.7L461.5 576.6L465.6 580.7L468.7 583.4L471.9 586.1L475.3 589L478.8 591.8L482.5 594.6L486.3 597.2L490.4 599.7L495 602.2L499.5 604.5L503.7 606.5L507.3 608.2L509.8 609.5L512.3 610L514.8 609.2L516.5 607.2L517 604.7L516.2 602.2L514.2 600.5L511.7 599.2L508.1 597.5L504 595.5L499.6 593.3L495.4 591L491.7 588.8L488.3 586.5L485 583.9L481.6 581.3L478.4 578.5L475.2 575.8L472.4 573.3L468.5 569.7L464.8 566L461.4 562.4L457.8 559.2L451.9 555.6L447.8 553.9L445.5 553.5L443.4 554.4L441.9 556.2L441.5 558.5L442.4 560.6Z"/><path id="p26" d="M509.4 556L510.7 559.2L513 564.2L516.7 570L519 572.9L521.3 575.8L524 579L527 582.2L530.3 585.5L534 588.7L538 591.6L541.9 593.9L546 596.1L550.4 598.1L555 600.1L559.5 601.9L564 603.5L568.4 605L572.5 606.3L578 607.7L583.6 608.7L588.9 609.3L593.7 609.8L597.6 610.2L600.4 610.5L603.2 610L605.4 608.3L606.5 605.6L606 602.8L604.3 600.6L601.6 599.5L598.7 599.2L594.7 598.9L590.2 598.4L585.3 597.8L580.3 596.9L575.5 595.7L571.8 594.5L567.7 593.2L563.4 591.6L559.2 589.9L554.9 588.1L550.9 586.2L547.2 584.3L544 582.4L540.7 580.1L537.6 577.5L534.7 574.7L532 571.8L529.5 569L527.2 566.2L525.3 564L521.9 559.1L520 555L518.6 552L517 550L514.6 549L512 549.4L510 551L509 553.4Z"/><path id="p27" d="M616.2 537.9L615 540.4L613.1 544.2L611 548.9L609.2 554.3L608.5 559.9L608.9 564.6L609.8 569.1L611.1 573.6L612.9 578.1L614.9 582.3L617.2 586.2L619.8 589.8L622.8 593.2L626 596.4L629.6 599.3L633.4 602L637.6 604.2L642.5 606L647.9 607.3L653.3 608.2L658.3 608.8L662.4 609.3L665.2 609.7L668.1 609.3L670.5 607.5L671.7 604.8L671.3 601.9L669.5 599.5L666.8 598.3L663.8 597.9L659.7 597.4L655 596.8L650.2 596L645.8 595L642.4 593.8L639.4 592.1L636.5 590.1L633.7 587.9L631.2 585.3L628.8 582.6L626.8 579.8L624.9 576.8L623.2 573.4L621.7 569.9L620.6 566.3L619.8 562.9L619.5 560.1L619.9 556.7L621.1 552.7L622.8 548.7L624.6 544.9L625.8 542.1L626.2 539.5L625.2 536.9L623.1 535.2L620.5 534.8L617.9 535.8Z"/><path id="p28" d="M726.9 536.5L725.2 539.3L722.7 543.7L720 549.3L718.5 555.3L718.5 560.3L719 565.2L720.1 570.2L721.8 575.1L723.9 579.7L726.3 583.5L728.9 587.2L732 590.7L735.3 594.1L739 597.2L743.1 600L747.9 602.3L753.2 604.2L758.6 605.7L763.6 606.9L767.7 607.8L770.6 608.6L773.5 608.5L776.1 607L777.6 604.4L777.5 601.5L776 598.9L773.4 597.4L770.4 596.7L766.2 595.7L761.5 594.6L756.7 593.2L752.3 591.7L748.9 590L746 588L743.1 585.6L740.4 582.9L738 580L735.8 577.1L734.1 574.3L732.3 570.7L731 567.1L730 563.3L729.5 559.6L729.5 556.7L730.3 552.9L732.2 548.6L734.5 544.6L736.1 541.5L736.7 538.9L736 536.3L734 534.4L731.4 533.8L728.8 534.5Z"/><path id="p29" d="M850.8 542.7L849.2 545.6L847 549.5L844.4 553.8L841.2 557.7L838.8 560.1L835.7 562.7L832.3 565.4L828.7 568.2L825 571.1L821.4 574.1L818.1 577.3L815 580.6L812 583.9L809.1 586.8L806.4 589.4L803.8 591.5L800.3 593.7L796.3 595.7L792.2 597.4L788.6 598.8L785.9 599.9L783.6 601.7L782.5 604.3L782.9 607.1L784.7 609.4L787.3 610.5L790.1 610.1L792.6 609L796.4 607.6L800.8 605.7L805.6 603.3L810.2 600.5L813.7 597.6L816.9 594.4L819.9 591.1L822.8 587.9L825.7 584.7L828.6 581.9L831.7 579.1L835.1 576.3L838.7 573.4L842.3 570.5L845.6 567.5L848.8 564.3L852.5 559.4L855.5 554.4L857.7 550.1L859.2 547.3L859.7 544.9L859.1 542.5L857.3 540.8L854.9 540.3L852.5 540.9Z"/><path id="p30" d="M959 541.8L956.9 543.4L953.6 545.9L949.9 548.8L945 552.1L941.9 553.9L938.2 555.9L934.4 557.9L930.5 559.7L926.7 561.2L922.7 562.6L918.4 564.1L913.6 566L910.2 567.3L906.5 568.8L902.6 570.3L898.6 572.1L894.6 574.2L890.6 576.5L886.7 579.2L882.8 582.3L879.1 585.5L875.5 588.7L872 591.6L868.9 594.1L865.1 596.9L861.2 599.7L857.6 602.2L854.4 604.3L852.2 605.9L850.5 607.8L850 610.4L850.9 612.8L852.8 614.5L855.4 615L857.8 614.1L860.1 612.6L863.2 610.5L867 607.9L871 605L875.1 601.9L878.5 598.9L881.9 595.7L885.3 592.3L888.7 589.1L892.1 586.1L895.4 583.5L898.7 581.3L902.3 579.3L905.9 577.5L909.5 575.8L913.1 574.2L916.4 572.6L920.9 570.8L925.1 569.3L929.2 567.8L933.3 566.1L937.5 564.1L941.5 561.9L945.2 559.8L948.6 557.8L953.8 554.2L957.7 551.2L961 548.6L963.1 546.8L964.1 545.5L964.2 543.8L963.6 542.3L962.2 541.3L960.5 541.1Z"/></defs>
<path d="M925.7 604.3L923.4 604.2L920.7 604L917.6 603.8L914.1 603.6L910.4 603.4L906.3 603.1L902 602.8L897.6 602.6L893 602.3L888.3 602L883.6 601.7L878.8 601.4L874.1 601.1L869.4 600.8L864.9 600.5L860.5 600.3L856.5 600L852.5 599.8L848.5 599.6L844.5 599.3L840.4 599.1L836.4 598.9L832.3 598.6L828.1 598.4L824 598.2L819.8 597.9L815.6 597.7L811.3 597.5L807 597.3L802.6 597.2L798.2 597L793.8 596.9L789.2 596.8L785.3 596.7L781.4 596.6L777.3 596.5L773.2 596.4L769.1 596.4L764.8 596.4L760.6 596.3L756.4 596.3L752.1 596.3L747.8 596.3L743.5 596.3L739.3 596.3L735.1 596.3L730.9 596.3L726.7 596.3L722.6 596.4L718.6 596.4L714.6 596.4L710.8 596.5L707 596.5L702.4 596.5L697.9 596.6L693.5 596.7L689.1 596.7L684.9 596.8L680.7 596.9L676.6 597L672.5 597.1L668.4 597.2L664.4 597.3L660.3 597.4L656.3 597.5L652.2 597.7L648.2 597.8L644.1 597.9L639.9 598L635.7 598.1L631.4 598.2L627 598.3L622.6 598.4L618.2 598.5L613.7 598.6L609.3 598.8L604.9 598.9L600.5 599L596.3 599.1L592 599.2L587.9 599.4L583.9 599.5L580.1 599.7L576.3 599.8L572.8 600L567.5 600.3L562.6 600.5L558 600.8L553.6 601.1L549.5 601.4L545.4 601.7L541.5 602.1L537.6 602.5L533.6 602.9L529.5 603.3L525.4 603.7L521.4 604.1L517.5 604.5L513.7 604.9L509.8 605.4L505.9 605.8L502 606.3L497.9 606.9L493.7 607.4L489.3 608.1L485.4 608.7L481.3 609.4L477 610.1L472.7 610.9L468.4 611.7L464 612.5L459.6 613.3L455.3 614L451.1 614.7L447 615.3L443.2 615.9L439.6 616.3L434.9 616.9L430.1 617.4L425.3 617.8L420.7 618L416.3 618.2L412.2 618.4L408.6 618.5L405.5 618.7L403 619L402 619.3L401.3 620L401 621L401.3 622L402 622.7L403 623L405.4 623.3L408.4 623.8L412 624.2L416.1 624.7L420.6 625.1L425.3 625.4L430.3 625.7L435.4 625.8L440.4 625.7L444.3 625.3L448.4 624.8L452.5 624.2L456.9 623.6L461.2 622.9L465.7 622.1L470.1 621.3L474.5 620.6L478.7 619.8L482.9 619.1L486.9 618.5L490.7 617.9L495.1 617.3L499.3 616.7L503.3 616.1L507.2 615.5L511.1 615L514.8 614.5L518.6 614.1L522.5 613.6L526.4 613.2L530.5 612.7L534.5 612.4L538.5 612L542.3 611.7L546.2 611.4L550.2 611.1L554.2 610.9L558.5 610.6L563.1 610.4L567.9 610.2L573.2 610L576.7 609.9L580.4 609.8L584.2 609.7L588.2 609.6L592.3 609.6L596.5 609.5L600.8 609.4L605.1 609.4L609.5 609.3L613.9 609.3L618.4 609.2L622.8 609.2L627.2 609.1L631.6 609.1L635.9 609L640.1 609L644.3 609L648.4 608.9L652.5 608.8L656.5 608.8L660.6 608.7L664.6 608.7L668.6 608.6L672.7 608.6L676.7 608.6L680.9 608.5L685 608.5L689.3 608.5L693.6 608.5L697.9 608.5L702.4 608.5L707 608.5L710.8 608.5L714.6 608.6L718.6 608.6L722.6 608.7L726.7 608.7L730.8 608.8L735 608.8L739.2 608.9L743.4 609L747.7 609L751.9 609.1L756.2 609.2L760.4 609.3L764.6 609.4L768.8 609.5L772.9 609.6L777 609.8L781 609.9L784.9 610.1L788.8 610.2L793.2 610.5L797.6 610.7L801.9 611L806.2 611.3L810.5 611.6L814.7 611.9L818.9 612.2L823 612.6L827.1 612.9L831.2 613.3L835.3 613.6L839.3 614L843.4 614.3L847.4 614.7L851.4 615L855.4 615.4L859.5 615.7L863.8 616.1L868.3 616.5L872.9 616.9L877.6 617.3L882.3 617.7L887 618.2L891.7 618.6L896.3 619L900.7 619.4L905 619.8L909 620.2L912.8 620.6L916.2 620.9L919.3 621.2L922.1 621.5L924.3 621.7" class="e" stroke="#1a1614" stroke-width="3.1"/>
<path d="M444.2 562.1L447.4 563.7L452.2 566.8L454.6 569.2L457.8 572.7L461.5 576.6L465.6 580.7L468.7 583.4L471.9 586.1L475.3 589L478.8 591.8L482.5 594.6L486.3 597.2L490.4 599.7L495 602.2L499.5 604.5L503.7 606.5L507.3 608.2L509.8 609.5L512.3 610L514.8 609.2L516.5 607.2L517 604.7L516.2 602.2L514.2 600.5L511.7 599.2L508.1 597.5L504 595.5L499.6 593.3L495.4 591L491.7 588.8L488.3 586.5L485 583.9L481.6 581.3L478.4 578.5L475.2 575.8L472.4 573.3L468.5 569.7L464.8 566L461.4 562.4L457.8 559.2L451.9 555.6L447.8 553.9L445.5 553.5L443.4 554.4L441.9 556.2L441.5 558.5L442.4 560.6Z" class="e" stroke="#1a1614" stroke-width="3.1"/>
<path d="M509.4 556L510.7 559.2L513 564.2L516.7 570L519 572.9L521.3 575.8L524 579L527 582.2L530.3 585.5L534 588.7L538 591.6L541.9 593.9L546 596.1L550.4 598.1L555 600.1L559.5 601.9L564 603.5L568.4 605L572.5 606.3L578 607.7L583.6 608.7L588.9 609.3L593.7 609.8L597.6 610.2L600.4 610.5L603.2 610L605.4 608.3L606.5 605.6L606 602.8L604.3 600.6L601.6 599.5L598.7 599.2L594.7 598.9L590.2 598.4L585.3 597.8L580.3 596.9L575.5 595.7L571.8 594.5L567.7 593.2L563.4 591.6L559.2 589.9L554.9 588.1L550.9 586.2L547.2 584.3L544 582.4L540.7 580.1L537.6 577.5L534.7 574.7L532 571.8L529.5 569L527.2 566.2L525.3 564L521.9 559.1L520 555L518.6 552L517 550L514.6 549L512 549.4L510 551L509 553.4Z" class="e" stroke="#1a1614" stroke-width="3.1"/>
<path d="M616.2 537.9L615 540.4L613.1 544.2L611 548.9L609.2 554.3L608.5 559.9L608.9 564.6L609.8 569.1L611.1 573.6L612.9 578.1L614.9 582.3L617.2 586.2L619.8 589.8L622.8 593.2L626 596.4L629.6 599.3L633.4 602L637.6 604.2L642.5 606L647.9 607.3L653.3 608.2L658.3 608.8L662.4 609.3L665.2 609.7L668.1 609.3L670.5 607.5L671.7 604.8L671.3 601.9L669.5 599.5L666.8 598.3L663.8 597.9L659.7 597.4L655 596.8L650.2 596L645.8 595L642.4 593.8L639.4 592.1L636.5 590.1L633.7 587.9L631.2 585.3L628.8 582.6L626.8 579.8L624.9 576.8L623.2 573.4L621.7 569.9L620.6 566.3L619.8 562.9L619.5 560.1L619.9 556.7L621.1 552.7L622.8 548.7L624.6 544.9L625.8 542.1L626.2 539.5L625.2 536.9L623.1 535.2L620.5 534.8L617.9 535.8Z" class="e" stroke="#1a1614" stroke-width="3.1"/>
<path d="M726.9 536.5L725.2 539.3L722.7 543.7L720 549.3L718.5 555.3L718.5 560.3L719 565.2L720.1 570.2L721.8 575.1L723.9 579.7L726.3 583.5L728.9 587.2L732 590.7L735.3 594.1L739 597.2L743.1 600L747.9 602.3L753.2 604.2L758.6 605.7L763.6 606.9L767.7 607.8L770.6 608.6L773.5 608.5L776.1 607L777.6 604.4L777.5 601.5L776 598.9L773.4 597.4L770.4 596.7L766.2 595.7L761.5 594.6L756.7 593.2L752.3 591.7L748.9 590L746 588L743.1 585.6L740.4 582.9L738 580L735.8 577.1L734.1 574.3L732.3 570.7L731 567.1L730 563.3L729.5 559.6L729.5 556.7L730.3 552.9L732.2 548.6L734.5 544.6L736.1 541.5L736.7 538.9L736 536.3L734 534.4L731.4 533.8L728.8 534.5Z" class="e" stroke="#1a1614" stroke-width="3.1"/>
<path d="M850.8 542.7L849.2 545.6L847 549.5L844.4 553.8L841.2 557.7L838.8 560.1L835.7 562.7L832.3 565.4L828.7 568.2L825 571.1L821.4 574.1L818.1 577.3L815 580.6L812 583.9L809.1 586.8L806.4 589.4L803.8 591.5L800.3 593.7L796.3 595.7L792.2 597.4L788.6 598.8L785.9 599.9L783.6 601.7L782.5 604.3L782.9 607.1L784.7 609.4L787.3 610.5L790.1 610.1L792.6 609L796.4 607.6L800.8 605.7L805.6 603.3L810.2 600.5L813.7 597.6L816.9 594.4L819.9 591.1L822.8 587.9L825.7 584.7L828.6 581.9L831.7 579.1L835.1 576.3L838.7 573.4L842.3 570.5L845.6 567.5L848.8 564.3L852.5 559.4L855.5 554.4L857.7 550.1L859.2 547.3L859.7 544.9L859.1 542.5L857.3 540.8L854.9 540.3L852.5 540.9Z" class="e" stroke="#1a1614" stroke-width="3.1"/>
<path d="M959 541.8L956.9 543.4L953.6 545.9L949.9 548.8L945 552.1L941.9 553.9L938.2 555.9L934.4 557.9L930.5 559.7L926.7 561.2L922.7 562.6L918.4 564.1L913.6 566L910.2 567.3L906.5 568.8L902.6 570.3L898.6 572.1L894.6 574.2L890.6 576.5L886.7 579.2L882.8 582.3L879.1 585.5L875.5 588.7L872 591.6L868.9 594.1L865.1 596.9L861.2 599.7L857.6 602.2L854.4 604.3L852.2 605.9L850.5 607.8L850 610.4L850.9 612.8L852.8 614.5L855.4 615L857.8 614.1L860.1 612.6L863.2 610.5L867 607.9L871 605L875.1 601.9L878.5 598.9L881.9 595.7L885.3 592.3L888.7 589.1L892.1 586.1L895.4 583.5L898.7 581.3L902.3 579.3L905.9 577.5L909.5 575.8L913.1 574.2L916.4 572.6L920.9 570.8L925.1 569.3L929.2 567.8L933.3 566.1L937.5 564.1L941.5 561.9L945.2 559.8L948.6 557.8L953.8 554.2L957.7 551.2L961 548.6L963.1 546.8L964.1 545.5L964.2 543.8L963.6 542.3L962.2 541.3L960.5 541.1Z" class="e" stroke="#1a1614" stroke-width="3.1"/>
<use href="#p24" fill="#d05535"/>
<use href="#p25" fill="#d05535"/>
<use href="#p26" fill="#d05535"/>
<use href="#p27" fill="#d05535"/>
<use href="#p28" fill="#d05535"/>
<use href="#p29" fill="#d05535"/>
<use href="#p30" fill="#d05535"/>
<defs><path id="p57" d="M898 621.8L900.2 621.8L903.2 621.7L907.9 621.5L915.2 621.3L918.2 621.3L921.6 621.2L925.4 621.1L929.5 621L933.8 620.9L938.3 620.8L943 620.7L947.7 620.5L952.4 620.4L957 620.3L961.5 620.2L965.9 620L970 619.9L974.3 619.8L978.6 619.6L983 619.5L987.4 619.3L991.8 619.2L996 619.1L1000.2 618.9L1004.2 618.7L1008.1 618.6L1011.7 618.4L1015.1 618.2L1018.3 618L1024.5 617.5L1029.6 617L1034.1 616.3L1038.3 615.4L1042.9 613.8L1048.9 610.2L1053.7 605.9L1057.4 601.6L1060.9 597L1063.9 592.1L1066.5 587.5L1068.9 582.8L1070.9 578.3L1072.1 575.2L1059.1 569.1L1057.6 572L1055.5 576L1053.2 579.9L1050.7 583.7L1048 587.5L1045 590.9L1042 593.9L1039.2 596.1L1035.5 597.8L1033.6 598.5L1031 599L1027.6 599.5L1023 600L1017 600.4L1014 600.6L1010.8 600.8L1007.2 601L1003.5 601.2L999.5 601.3L995.4 601.5L991.2 601.6L986.9 601.8L982.5 601.9L978.1 602.1L973.7 602.2L969.4 602.3L965.3 602.5L961 602.6L956.5 602.7L951.9 602.8L947.2 603L942.5 603.1L937.9 603.2L933.4 603.3L929.1 603.4L925 603.5L921.2 603.6L917.8 603.7L914.8 603.8L907.4 604L902.7 604.1L899.7 604.2L897.5 604.3Z"/><path id="p58" d="M921.7 610.6C922.8 609.3 925.4 605.9 927.9 602.6C930.5 599.3 933.7 594.3 936.9 590.7C940 587 942.7 584.1 946.8 580.8C950.9 577.5 955.8 574.1 961.6 570.8C967.4 567.5 974.8 563.7 981.4 560.9C988 558.1 994.6 555.9 1001.2 554C1007.8 552 1014.4 550.8 1021 549C1027.6 547.2 1035.4 544.7 1040.9 543C1046.3 541.3 1050.4 539.8 1053.6 538.8C1056.8 537.7 1058.8 537 1059.8 536.6L1060.8 541.9C1059.6 542.8 1056.9 545.4 1053.6 547.2C1050.3 548.9 1046.3 550.7 1040.9 552.5C1035.4 554.3 1027.6 556.2 1021 557.9C1014.4 559.7 1007.8 560.7 1001.2 562.9C994.6 565 986.4 568.5 981.4 570.8C976.5 573.1 974.5 574.8 971.5 576.8C968.6 578.8 966.4 580.8 963.6 582.8C960.8 584.7 956.8 586.7 954.7 588.7C952.6 590.7 951.7 592.5 951.2 594.7C950.7 596.8 951.5 598.9 951.7 601.6C951.9 604.3 952.3 609.1 952.4 610.6Z"/><path id="p59" d="M1057.6 544.7L1059.7 542.9L1061.7 541L1062.4 540.1L1062.6 538.9L1062.1 537.8L1061.2 537.1L1060 537L1058.9 537.4L1056.7 539L1054.4 540.5Z"/><path id="p60" d="M1051.2 600.5C1053.6 597.9 1062.7 588.9 1065.6 584.7C1068.5 580.4 1068 576.7 1068.5 575.1L1077.6 576.5C1078.8 578.1 1083.6 583.3 1084.8 586.1C1086 588.9 1084.8 592.1 1084.8 593.3Z"/><path id="p61" d="M996.5 611.5L996.2 607.4L996.1 602.1L995.4 597.3L995.4 592.9L996.2 588.5L998.9 583.8L1001.3 581.7L1004.6 579.3L1008.4 577.1L1012.4 575L1015.8 573.6L1019.6 572.2L1023.6 571L1027.6 569.9L1031.5 569L1036.3 568.2L1041.2 567.6L1046.1 567.3L1050.8 567.1L1055.6 567.2L1060.6 567.5L1065.1 567.8L1068.3 568.1L1068.7 562.3L1065.6 562.1L1061 561.7L1055.8 561.4L1050.7 561.4L1045.8 561.5L1040.7 561.9L1035.5 562.5L1030.4 563.3L1026.2 564.2L1022 565.3L1017.8 566.5L1013.7 567.8L1009.8 569.3L1005.4 571.3L1001.1 573.6L997.2 576.1L993.7 578.9L988.6 584L985.2 590L983.5 596.2L982.6 601.9L982.3 607.4L982.1 611.7Z"/></defs>
<path d="M898 621.8L900.2 621.8L903.2 621.7L907.9 621.5L915.2 621.3L918.2 621.3L921.6 621.2L925.4 621.1L929.5 621L933.8 620.9L938.3 620.8L943 620.7L947.7 620.5L952.4 620.4L957 620.3L961.5 620.2L965.9 620L970 619.9L974.3 619.8L978.6 619.6L983 619.5L987.4 619.3L991.8 619.2L996 619.1L1000.2 618.9L1004.2 618.7L1008.1 618.6L1011.7 618.4L1015.1 618.2L1018.3 618L1024.5 617.5L1029.6 617L1034.1 616.3L1038.3 615.4L1042.9 613.8L1048.9 610.2L1053.7 605.9L1057.4 601.6L1060.9 597L1063.9 592.1L1066.5 587.5L1068.9 582.8L1070.9 578.3L1072.1 575.2M897.5 604.3L899.7 604.2L902.7 604.1L907.4 604L914.8 603.8L917.8 603.7L921.2 603.6L925 603.5L929.1 603.4L933.4 603.3L937.9 603.2L942.5 603.1L947.2 603L951.9 602.8L956.5 602.7L961 602.6L965.3 602.5L969.4 602.3L973.7 602.2L978.1 602.1L982.5 601.9L986.9 601.8L991.2 601.6L995.4 601.5L999.5 601.3L1003.5 601.2L1007.2 601L1010.8 600.8L1014 600.6L1017 600.4L1023 600L1027.6 599.5L1031 599L1033.6 598.5L1035.5 597.8L1039.2 596.1L1042 593.9L1045 590.9L1048 587.5L1050.7 583.7L1053.2 579.9L1055.5 576L1057.6 572L1059.1 569.1" class="e" stroke="#1a1614" stroke-width="3.1"/>
<path d="M921.7 610.6C922.8 609.3 925.4 605.9 927.9 602.6C930.5 599.3 933.7 594.3 936.9 590.7C940 587 942.7 584.1 946.8 580.8C950.9 577.5 955.8 574.1 961.6 570.8C967.4 567.5 974.8 563.7 981.4 560.9C988 558.1 994.6 555.9 1001.2 554C1007.8 552 1014.4 550.8 1021 549C1027.6 547.2 1035.4 544.7 1040.9 543C1046.3 541.3 1050.4 539.8 1053.6 538.8C1056.8 537.7 1058.8 537 1059.8 536.6M952.4 610.6C952.3 609.1 951.9 604.3 951.7 601.6C951.5 598.9 950.7 596.8 951.2 594.7C951.7 592.5 952.6 590.7 954.7 588.7C956.8 586.7 960.8 584.7 963.6 582.8C966.4 580.8 968.6 578.8 971.5 576.8C974.5 574.8 976.5 573.1 981.4 570.8C986.4 568.5 994.6 565 1001.2 562.9C1007.8 560.7 1014.4 559.7 1021 557.9C1027.6 556.2 1035.4 554.3 1040.9 552.5C1046.3 550.7 1050.3 548.9 1053.6 547.2C1056.9 545.4 1059.6 542.8 1060.8 541.9" class="e" stroke="#1a1614" stroke-width="3.1"/>
<path d="M1057.6 544.7L1059.7 542.9L1061.7 541L1062.4 540.1L1062.6 538.9L1062.1 537.8L1061.2 537.1L1060 537L1058.9 537.4L1056.7 539L1054.4 540.5" class="e" stroke="#1a1614" stroke-width="3.1"/>
<path d="M996.5 611.5L996.2 607.4L996.1 602.1L995.4 597.3L995.4 592.9L996.2 588.5L998.9 583.8L1001.3 581.7L1004.6 579.3L1008.4 577.1L1012.4 575L1015.8 573.6L1019.6 572.2L1023.6 571L1027.6 569.9L1031.5 569L1036.3 568.2L1041.2 567.6L1046.1 567.3L1050.8 567.1L1055.6 567.2L1060.6 567.5L1065.1 567.8L1068.3 568.1M982.1 611.7L982.3 607.4L982.6 601.9L983.5 596.2L985.2 590L988.6 584L993.7 578.9L997.2 576.1L1001.1 573.6L1005.4 571.3L1009.8 569.3L1013.7 567.8L1017.8 566.5L1022 565.3L1026.2 564.2L1030.4 563.3L1035.5 562.5L1040.7 561.9L1045.8 561.5L1050.7 561.4L1055.8 561.4L1061 561.7L1065.6 562.1L1068.7 562.3" class="e" stroke="#1a1614" stroke-width="3.1"/>
<use href="#p57" fill="#d05535"/>
<use href="#p58" fill="#d05535"/>
<use href="#p59" fill="#d05535"/>
<use href="#p60" fill="#d05535"/>
<use href="#p61" fill="#d05535"/>
<defs><path id="p62" d="M1067 560.6C1068 557.4 1069.5 554.9 1071.8 552C1074.2 549 1077 545.7 1080.9 542.8C1084.9 540 1090.2 537.2 1095.3 535.2C1100.5 533.1 1105.8 531.6 1111.6 530.6C1117.5 529.5 1124.1 529.3 1130.6 528.9C1137 528.5 1144.6 527.8 1150.4 528.4C1156.2 529 1160.6 530.6 1165.2 532.5C1169.8 534.3 1174.3 536.7 1178.1 539.4C1181.9 542 1185.5 545.3 1188 548.3C1190.5 551.3 1191.8 553.8 1193.2 557.3C1194.5 560.8 1195.5 565.3 1196.1 569.3C1196.6 573.3 1196.6 577.7 1196.5 581.3C1196.5 584.9 1196.3 587.1 1195.6 590.9C1194.8 594.8 1194.6 599.3 1192.1 604.3C1189.6 609.4 1185.8 616.5 1180.7 621.2C1175.6 625.9 1167.8 629.9 1161.5 632.8C1155.3 635.6 1146.9 636.4 1143.3 638C1139.7 639.6 1141.5 640.1 1140.2 642.4C1138.8 644.6 1137.6 648.4 1135.1 651.4C1132.7 654.4 1129.4 657.9 1125.3 660.3C1121.2 662.8 1115.4 664.7 1110.4 665.8C1105.5 667 1100.3 666.9 1095.6 667.4C1090.9 667.8 1087.2 668.4 1082.4 668.3C1077.5 668.2 1070.2 667.1 1066.6 666.7C1062.9 666.3 1063.6 666.5 1060.7 665.7C1057.7 664.9 1052.7 663.6 1048.8 661.7C1044.8 659.9 1040.1 657.3 1036.8 654.8C1033.5 652.3 1030.9 649.3 1029 646.8C1027 644.4 1023.7 644 1025 639.9C1026.3 635.8 1031.7 628.2 1036.8 622.2C1042 616.2 1049.6 609.3 1056 603.9C1062.4 598.5 1073 593.8 1075.2 590C1077.4 586.2 1070.7 584.2 1069.2 581.1C1067.7 577.9 1066.6 574.6 1066.2 571.2C1065.9 567.8 1066.1 563.8 1067 560.6Z"/></defs>
<use href="#p62" class="b" stroke-width="3.1"/>
<use href="#p62" fill="#d05535"/>
<path d="M1065.6 572.5C1066.4 574.4 1068.8 580.8 1070.4 583.7C1072 586.6 1074.4 589 1075.2 590.1" class="t" stroke="#1a1614" stroke-width="1.6"/>
<path d="M1105.6 619C1106.5 619.6 1109.3 622.1 1111.2 623.1C1113 624.2 1115.8 625 1116.8 625.4" class="t" stroke="#1a1614" stroke-width="1.6"/>
<defs><path id="p65" d="M1063.6 568.2L1066.7 568.3L1071.1 568.4L1076.1 568.5L1081.3 568.6L1086 568.7L1091.2 568.7L1096.1 568.7L1101.1 568.5L1106.1 568.2L1111.1 567.6L1116.2 566.9L1121.2 566.1L1126.2 565L1130.3 564L1134.5 562.9L1138.7 561.6L1142.7 560.4L1146.4 559.1L1150.7 557.6L1154.6 555.9L1158.2 554.4L1161.4 553.1L1166.9 550.9L1170.8 549.6L1172.9 549.5L1174 549.7L1175.6 549.5L1176.8 548.6L1177.4 547.1L1177.3 545.6L1176.3 544.3L1174.9 543.7L1172.9 543.5L1169.5 543.8L1164.8 545.3L1159.2 547.5L1155.9 548.9L1152.3 550.4L1148.5 552L1144.4 553.5L1140.8 554.7L1136.9 555.9L1132.9 557.1L1128.8 558.2L1124.9 559.1L1120 560.2L1115.2 561L1110.4 561.7L1105.6 562.2L1100.8 562.5L1096.1 562.7L1091.2 562.7L1086 562.7L1081.4 562.6L1076.3 562.5L1071.2 562.4L1066.8 562.3L1063.8 562.2Z"/></defs>
<path d="M1063.6 568.2L1066.7 568.3L1071.1 568.4L1076.1 568.5L1081.3 568.6L1086 568.7L1091.2 568.7L1096.1 568.7L1101.1 568.5L1106.1 568.2L1111.1 567.6L1116.2 566.9L1121.2 566.1L1126.2 565L1130.3 564L1134.5 562.9L1138.7 561.6L1142.7 560.4L1146.4 559.1L1150.7 557.6L1154.6 555.9L1158.2 554.4L1161.4 553.1L1166.9 550.9L1170.8 549.6L1172.9 549.5L1174 549.7L1175.6 549.5L1176.8 548.6L1177.4 547.1L1177.3 545.6L1176.3 544.3L1174.9 543.7L1172.9 543.5L1169.5 543.8L1164.8 545.3L1159.2 547.5L1155.9 548.9L1152.3 550.4L1148.5 552L1144.4 553.5L1140.8 554.7L1136.9 555.9L1132.9 557.1L1128.8 558.2L1124.9 559.1L1120 560.2L1115.2 561L1110.4 561.7L1105.6 562.2L1100.8 562.5L1096.1 562.7L1091.2 562.7L1086 562.7L1081.4 562.6L1076.3 562.5L1071.2 562.4L1066.8 562.3L1063.8 562.2" class="e" stroke="#fff" stroke-width="4.7"/>
<path d="M1063.6 568.2L1066.7 568.3L1071.1 568.4L1076.1 568.5L1081.3 568.6L1086 568.7L1091.2 568.7L1096.1 568.7L1101.1 568.5L1106.1 568.2L1111.1 567.6L1116.2 566.9L1121.2 566.1L1126.2 565L1130.3 564L1134.5 562.9L1138.7 561.6L1142.7 560.4L1146.4 559.1L1150.7 557.6L1154.6 555.9L1158.2 554.4L1161.4 553.1L1166.9 550.9L1170.8 549.6L1172.9 549.5L1174 549.7L1175.6 549.5L1176.8 548.6L1177.4 547.1L1177.3 545.6L1176.3 544.3L1174.9 543.7L1172.9 543.5L1169.5 543.8L1164.8 545.3L1159.2 547.5L1155.9 548.9L1152.3 550.4L1148.5 552L1144.4 553.5L1140.8 554.7L1136.9 555.9L1132.9 557.1L1128.8 558.2L1124.9 559.1L1120 560.2L1115.2 561L1110.4 561.7L1105.6 562.2L1100.8 562.5L1096.1 562.7L1091.2 562.7L1086 562.7L1081.4 562.6L1076.3 562.5L1071.2 562.4L1066.8 562.3L1063.8 562.2" class="e" stroke="#1a1614" stroke-width="3.1"/>
<use href="#p65" fill="#d05535"/>
<defs><path id="p22" d="M1203 494L1200.4 495.4L1196.6 497.4L1192.3 499.6L1188.8 501.5L1184.8 503.6L1180.9 505.7L1177.6 507.4L1172 510L1168.2 511.7L1166.8 512.8L1166.1 514.6L1166.4 516.4L1167.5 517.9L1169.3 518.5L1171.1 518.3L1175 516.6L1180.7 513.9L1184.3 512.1L1188.2 510L1192.1 507.9L1195.7 506L1199.9 503.7L1203.7 501.7L1206.4 500.4Z"/></defs>
<path d="M1203 494L1200.4 495.4L1196.6 497.4L1192.3 499.6L1188.8 501.5L1184.8 503.6L1180.9 505.7L1177.6 507.4L1172 510L1168.2 511.7L1166.8 512.8L1166.1 514.6L1166.4 516.4L1167.5 517.9L1169.3 518.5L1171.1 518.3L1175 516.6L1180.7 513.9L1184.3 512.1L1188.2 510L1192.1 507.9L1195.7 506L1199.9 503.7L1203.7 501.7L1206.4 500.4" class="e" stroke="#1a1614" stroke-width="3.1"/>
<use href="#p22" fill="#d05535"/>
<defs><path id="p23" d="M1198.9 506.9L1195.2 508.5L1190 510.7L1186.1 512.6L1181.9 514.6L1178.2 516.3L1173 518.4L1169.3 519.8L1168.2 520.6L1167.7 521.8L1167.8 523.1L1168.6 524.1L1169.7 524.7L1171 524.5L1174.8 523.1L1180.2 521L1184.1 519.2L1188.3 517.1L1192.1 515.3L1197.2 513.1L1200.9 511.5Z"/></defs>
<path d="M1198.9 506.9L1195.2 508.5L1190 510.7L1186.1 512.6L1181.9 514.6L1178.2 516.3L1173 518.4L1169.3 519.8L1168.2 520.6L1167.7 521.8L1167.8 523.1L1168.6 524.1L1169.7 524.7L1171 524.5L1174.8 523.1L1180.2 521L1184.1 519.2L1188.3 517.1L1192.1 515.3L1197.2 513.1L1200.9 511.5" class="e" stroke="#1a1614" stroke-width="3.1"/>
<use href="#p23" fill="#f7dc83"/>
<defs><path id="p9" d="M760.9 317.9L763.3 318.1L766.4 318.1L770 318.1L774 317.9L778.3 317.7L782.8 317.6L787.4 317.4L792.1 317.3L796.7 317.3L801.1 317.4L804.6 317.4L808.1 317.3L811.4 317.4L814.7 317.4L818.2 317.5L821.7 317.6L825.5 317.7L829.6 317.8L834 318L838.9 318.2L844.3 318.3L850.2 318.5L853.2 318.5L856.4 318.4L859.6 318.4L863 318.4L866.5 318.4L870.1 318.4L873.7 318.4L877.5 318.4L881.3 318.4L885.2 318.4L889.2 318.4L893.3 318.4L897.4 318.4L901.5 318.4L905.8 318.4L910 318.4L914.4 318.5L918.7 318.5L923.1 318.5L927.5 318.5L932 318.6L936.4 318.6L940.9 318.7L945.4 318.7L949.9 318.7L953.5 318.8L957.2 318.9L961 318.9L964.7 319L968.6 319.1L972.4 319.1L976.3 319.2L980.3 319.3L984.3 319.4L988.3 319.5L992.3 319.5L996.3 319.6L1000.4 319.7L1004.5 319.8L1008.6 319.9L1012.8 320L1016.9 320.1L1021 320.2L1025.2 320.3L1029.4 320.4L1033.5 320.5L1037.7 320.6L1041.8 320.7L1046 320.8L1050.1 320.9L1054.3 321L1058.4 321.1L1062.5 321.2L1066.6 321.3L1070.7 321.4L1074.7 321.5L1078.7 321.7L1082.8 321.9L1086.9 322.1L1091 322.3L1095.1 322.5L1099.2 322.7L1103.3 322.9L1107.5 323.1L1111.7 323.3L1115.8 323.6L1120 323.8L1124.1 324L1128.3 324.2L1132.4 324.4L1136.6 324.6L1140.7 324.9L1144.8 325.1L1148.9 325.3L1153 325.5L1157.1 325.7L1161.1 325.9L1165.1 326.2L1169.1 326.4L1173 326.6L1176.9 326.8L1180.8 327L1184.7 327.2L1188.5 327.4L1192.2 327.6L1195.9 327.8L1199.6 328L1204.1 328.2L1208.5 328.3L1212.8 328.5L1217.2 328.6L1221.4 328.8L1225.6 328.9L1229.8 329.1L1234 329.2L1238 329.4L1242.1 329.5L1246.1 329.7L1250.1 329.8L1254.1 330L1258 330.1L1261.9 330.3L1265.8 330.4L1269.6 330.5L1273.4 330.7L1277.2 330.8L1281 330.9L1284.8 331L1288.5 331.2L1292.3 331.3L1296 331.4L1299.7 331.5L1304.2 331.6L1308.8 331.6L1313.5 331.7L1318.2 331.7L1323 331.8L1327.7 331.8L1332.5 331.9L1337.2 331.9L1341.8 332L1346.4 332L1350.9 332L1355.2 332L1359.4 332.1L1363.5 332.1L1367.3 332.1L1370.9 332.1L1374.3 332.2L1377.4 332.2L1380.2 332.2L1382.7 332.2L1384.9 332.2L1385.1 291.8L1382.9 291.8L1380.4 291.8L1377.5 291.8L1374.4 291.8L1371 291.8L1367.4 291.8L1363.6 291.8L1359.6 291.8L1355.4 291.8L1351 291.8L1346.6 291.7L1342 291.7L1337.4 291.7L1332.7 291.7L1328 291.7L1323.3 291.7L1318.5 291.6L1313.9 291.6L1309.2 291.6L1304.7 291.5L1300.3 291.5L1296.6 291.5L1292.9 291.5L1289.2 291.5L1285.4 291.5L1281.7 291.5L1277.9 291.5L1274.2 291.5L1270.4 291.5L1266.5 291.5L1262.7 291.5L1258.8 291.4L1254.9 291.4L1250.9 291.4L1246.9 291.4L1242.9 291.3L1238.9 291.3L1234.8 291.3L1230.7 291.3L1226.5 291.2L1222.3 291.2L1218 291.2L1213.7 291.1L1209.3 291.1L1204.9 291L1200.4 291L1196.8 291L1193.1 291.1L1189.3 291.1L1185.5 291.1L1181.7 291.1L1177.8 291.1L1173.9 291.2L1170 291.2L1166 291.2L1162 291.2L1157.9 291.2L1153.9 291.2L1149.8 291.2L1145.7 291.2L1141.6 291.3L1137.4 291.3L1133.3 291.3L1129.1 291.3L1124.9 291.3L1120.8 291.3L1116.6 291.3L1112.4 291.3L1108.3 291.3L1104.1 291.3L1099.9 291.4L1095.8 291.4L1091.7 291.4L1087.5 291.4L1083.4 291.4L1079.4 291.5L1075.3 291.5L1071.3 291.4L1067.2 291.4L1063.1 291.3L1059 291.3L1054.9 291.2L1050.7 291.2L1046.6 291.1L1042.4 291.1L1038.2 291L1034.1 291L1029.9 290.9L1025.7 290.9L1021.6 290.8L1017.4 290.8L1013.3 290.7L1009.1 290.7L1005 290.6L1000.9 290.6L996.8 290.5L992.7 290.5L988.7 290.5L984.7 290.4L980.7 290.4L976.7 290.4L972.8 290.4L968.9 290.3L965.1 290.3L961.3 290.3L957.5 290.3L953.8 290.3L950.1 290.3L945.6 290.2L941.1 290.2L936.6 290.2L932.1 290.2L927.7 290.1L923.2 290.1L918.8 290.1L914.5 290.1L910.1 290.1L905.8 290.1L901.6 290.1L897.4 290.1L893.3 290.1L889.2 290.1L885.2 290.2L881.2 290.2L877.4 290.2L873.6 290.2L869.9 290.3L866.3 290.3L862.8 290.3L859.4 290.4L856.1 290.4L852.9 290.5L849.8 290.5L843.9 290.8L838.4 291.2L833.5 291.5L828.9 291.9L824.7 292.2L820.8 292.6L817 293L813.4 293.4L809.8 293.9L806.3 294.4L802.7 295L798.9 295.6L794.2 296.7L789.4 297.9L784.6 299.2L779.9 300.6L775.5 302L771.3 303.4L767.5 304.7L764.1 306L761.3 307.1L759.1 308.1Z"/><path id="p10" d="M506.3 411.8L508.7 410.5L511.8 408.7L515.5 406.5L519.6 404.2L524 401.6L528.6 399.1L533 396.6L537.4 394.3L540.8 392.5L544.3 390.6L547.9 388.7L551.6 386.8L555.2 384.9L558.9 383.1L562.5 381.3L566.2 379.7L569.7 378.2L573.2 376.9L576.9 375.8L580.5 375L584.1 374.4L587.7 373.9L591.5 373.4L595.6 372.8L599.9 372.2L604.7 371.3L609.8 370.2L613.2 369.3L616.8 368.3L620.5 367.3L624.3 366.3L628.3 365.2L632.3 364L636.3 362.8L640.5 361.6L644.6 360.4L648.7 359.2L652.9 357.9L657 356.7L661.1 355.5L665.1 354.3L669.1 352.9L673.1 351.5L677.2 350.1L681.4 348.7L685.5 347.2L689.7 345.8L693.8 344.3L697.9 342.9L701.8 341.5L705.7 340.1L709.5 338.8L713.1 337.5L716.6 336.4L719.9 335.3L724.6 333.7L729 332.2L733.1 330.9L737 329.7L740.6 328.5L744.3 327.4L747.9 326.3L751.6 325.3L755.5 324.2L759.7 323L764.2 321.8L768.9 320.6L773.6 319.4L778.2 318.2L782.5 317.2L786.3 316.2L789.6 315.4L792.1 314.8L796.2 312.5L798.6 308.6L798.8 303.9L796.5 299.8L792.6 297.4L787.9 297.2L785.4 297.8L782.2 298.5L778.3 299.3L773.9 300.3L769.3 301.3L764.4 302.5L759.6 303.6L754.9 304.7L750.5 305.8L746.5 306.9L742.6 308L738.9 309L735.1 310.1L731.3 311.2L727.3 312.4L723.1 313.7L718.6 315.2L713.7 316.7L710.3 317.9L706.8 319.1L703.1 320.4L699.3 321.7L695.3 323.1L691.3 324.5L687.3 325.9L683.2 327.4L679.1 328.8L675 330.3L670.9 331.7L666.8 333.1L662.8 334.4L658.9 335.7L655.1 337.1L651.1 338.5L647.1 339.9L643 341.3L639 342.7L634.9 344.1L630.9 345.4L626.9 346.7L623 348L619.2 349.3L615.5 350.5L611.9 351.7L608.4 352.8L605.2 353.8L600.6 355.3L596.4 356.6L592.4 357.7L588.6 358.7L584.8 359.7L580.9 360.8L577 362L573 363.4L568.8 365.1L565 366.7L561.1 368.5L557.3 370.3L553.4 372.3L549.7 374.3L545.9 376.3L542.3 378.3L538.7 380.4L535.2 382.3L531.8 384.3L527.5 386.8L523 389.5L518.5 392.2L514.1 394.9L510 397.5L506.4 399.8L503.4 401.7L501.1 403.2L499.3 405.1L498.7 407.6L499.4 410.1L501.3 411.9L503.8 412.5Z"/><path id="p11" d="M533.2 427.9L535.3 426.3L538 424.2L541.3 421.7L544.9 418.9L548.7 415.9L552.5 413L556.3 410.3L559.7 407.9L563.2 405.4L566.8 402.9L570.5 400.3L574.2 397.8L577.9 395.3L581.6 392.9L585.2 390.7L588.7 388.5L592.1 386.5L595.5 384.5L598.9 382.6L602.3 380.7L605.7 378.9L609.1 377.1L612.6 375.4L616.4 373.6L620.5 371.7L624.8 369.9L629.1 368.1L633.2 366.3L636.9 364.8L640 363.5L642.3 362.5L644.8 360.6L646 357.7L645.5 354.7L643.6 352.2L640.7 351L637.7 351.5L635.4 352.5L632.3 353.7L628.6 355.3L624.4 357L620.1 358.9L615.6 360.8L611.3 362.7L607.4 364.6L603.7 366.4L600.1 368.3L596.6 370.2L593 372.1L589.5 374.1L586 376.2L582.4 378.3L578.8 380.5L575.1 382.9L571.4 385.4L567.6 388L563.8 390.7L560 393.3L556.4 396L552.8 398.6L549.5 401.1L545.7 404.1L541.8 407.3L538 410.4L534.5 413.4L531.4 416.1L528.8 418.4L526.8 420.1L525.3 422.2L525.1 424.8L526.1 427.2L528.2 428.7L530.8 428.9Z"/><path id="p12" d="M519.8 528.5L521.1 526.4L522.8 523.7L524.7 520.6L526.8 517.1L529.1 513.4L531.6 509.5L534.1 505.6L536.7 501.9L539.3 498.4L541.6 495.2L544 492.1L546.5 488.9L549.1 485.7L551.7 482.5L554.5 479.2L557.3 476L560.2 472.7L563.3 469.4L566.4 466.1L569 463.3L571.8 460.4L574.7 457.5L577.7 454.5L580.7 451.6L583.8 448.6L586.9 445.7L590 442.8L593.1 440L596.2 437.3L599.2 434.6L602.2 432.1L605.4 429.5L608.6 427L611.9 424.6L615.1 422.3L618.4 420L621.6 417.8L624.9 415.6L628.2 413.5L631.4 411.3L634.8 409.2L638.1 407L641.6 404.7L645.2 402.5L648.8 400.3L652.4 398.2L656.1 396.1L659.7 393.9L663.4 391.8L667.1 389.6L670.8 387.4L674.5 385.1L678.2 382.8L682 380.4L685.8 377.9L689.6 375.5L693.3 373L697.1 370.6L700.7 368.2L704.3 365.9L707.7 363.7L711 361.5L714.9 359L718.5 356.5L722 354.2L725.4 351.9L728.7 349.7L731.9 347.6L735.1 345.4L738.3 343.3L742 340.8L745.6 338.4L749.1 336.1L752.5 333.8L755.9 331.6L759.4 329.5L763 327.5L766.6 325.6L770.6 323.7L774.9 321.7L779.2 319.8L783.3 318L787.1 316.4L790.3 315L792.7 313.9L795.3 311.8L796.5 308.6L795.9 305.3L793.8 302.7L790.6 301.5L787.3 302.1L785 303.2L781.9 304.6L778.1 306.3L773.9 308.2L769.5 310.2L765.1 312.3L760.9 314.4L757 316.5L753 318.9L749.2 321.2L745.7 323.6L742.2 326L738.7 328.4L735.3 330.9L731.7 333.3L728.4 335.5L725.2 337.6L722 339.8L718.7 342L715.4 344.2L711.9 346.5L708.3 349L704.4 351.5L701.1 353.6L697.7 355.9L694.2 358.2L690.5 360.6L686.8 363L683 365.4L679.3 367.8L675.5 370.2L671.8 372.6L668.1 374.9L664.5 377.1L660.9 379.3L657.3 381.4L653.7 383.6L650 385.7L646.3 387.9L642.7 390L639 392.3L635.2 394.6L631.5 397L628.2 399.1L624.9 401.3L621.6 403.4L618.2 405.6L614.9 407.9L611.5 410.2L608.2 412.5L604.8 415L601.4 417.5L598 420.1L594.6 422.9L591.5 425.5L588.3 428.2L585.1 431.1L581.9 434L578.7 436.9L575.5 439.9L572.3 443L569.2 446L566.2 449L563.3 452L560.4 455L557.6 457.9L554.5 461.3L551.4 464.8L548.4 468.2L545.5 471.6L542.7 475L540 478.4L537.3 481.7L534.8 485L532.3 488.3L529.9 491.6L527.3 495.5L524.7 499.6L522.2 503.7L519.9 507.8L517.6 511.7L515.6 515.3L513.8 518.6L512.4 521.3L511.2 523.3L510.5 525.8L511.1 528.3L512.9 530.2L515.4 530.9L517.9 530.3Z"/><path id="p13" d="M641.3 502.7L642.3 500.2L643.6 496.8L645.2 492.8L646.9 488.5L648.7 484L650.7 479.6L652.8 475.5L654.6 472.1L656.4 468.5L658.4 464.9L660.4 461.5L662.6 458L664.9 454.6L667.4 451.3L670.3 448L672.7 445.4L675.5 442.7L678.4 440L681.6 437.3L684.8 434.6L688.2 431.9L691.7 429.3L695.2 426.6L698.7 424L702.1 421.5L705.6 419L709.1 416.6L712.8 414.3L716.5 411.9L720.3 409.6L724.1 407.2L727.8 404.9L731.5 402.6L735.1 400.3L738.5 397.9L742.4 395L746.2 392.2L749.8 389.4L753.2 386.6L756.6 383.9L759.8 381.1L763.1 378.3L766.3 375.5L769.5 372.6L772.6 369.7L775.7 366.7L778.7 363.8L781.6 360.8L784.5 357.9L787.4 355.1L790.2 352.3L793.5 349L796.8 345.8L799.9 342.5L803 339.4L806.1 336.3L809.2 333.4L812.2 330.6L815.4 327.8L819 324.9L822.6 322L826.1 319.3L829.3 316.8L832 314.7L834.1 313.1L836.1 310.4L836.4 307L835.1 303.9L832.4 301.9L829 301.6L825.9 302.9L824 304.5L821.3 306.7L818.1 309.2L814.6 312.1L810.9 315.2L807.2 318.3L803.8 321.4L800.6 324.4L797.4 327.6L794.3 330.8L791.2 334L788.1 337.3L784.9 340.5L781.8 343.7L778.9 346.6L776 349.5L773.2 352.4L770.3 355.2L767.3 358.1L764.4 360.9L761.4 363.7L758.3 366.5L755.2 369.3L752 372L748.9 374.6L745.7 377.3L742.3 380L738.9 382.6L735.3 385.4L731.5 388.1L728.4 390.3L725 392.5L721.5 394.8L717.8 397L714 399.4L710.2 401.7L706.3 404.1L702.5 406.6L698.7 409.1L695.1 411.7L691.5 414.4L688 417L684.4 419.7L680.8 422.5L677.3 425.3L673.8 428.2L670.5 431.1L667.3 434L664.2 437L661.3 440L658.1 443.8L655.2 447.7L652.6 451.6L650.3 455.5L648.1 459.3L646.2 463.1L644.3 466.8L642.4 470.5L640.4 475L638.5 479.8L636.7 484.6L635.2 489.2L633.8 493.3L632.7 496.8L631.9 499.3L631.7 501.8L632.8 504.2L634.9 505.7L637.4 505.9L639.8 504.8Z"/><path id="p14" d="M754.3 512.5L756 510L758.2 506.4L760.8 502.4L763.8 498L767.5 493.6L769.6 491.2L772.1 488.5L774.7 485.8L777.5 482.9L780.5 480L783.6 477L786.9 473.9L790.4 470.7L794 467.5L796.8 465L799.9 462.4L803.1 459.8L806.6 457L810.1 454.2L813.7 451.4L817.3 448.5L820.8 445.7L824.4 442.8L827.8 440L831 437.2L834.1 434.4L837.4 431.3L840.7 428.3L843.8 425.3L846.9 422.3L849.9 419.3L852.7 416.3L855.5 413.2L858.1 410L860.6 406.7L863 403.3L865.5 399.3L867.7 395.2L869.7 391L871.5 386.8L873.2 382.6L874.7 378.5L876.1 374.5L877.4 370.6L878.7 366.9L880.2 362.1L881.5 357.5L882.7 353L883.6 348.6L884.5 344.4L885.3 340.2L886.1 336.1L887.1 331L888 325.7L888.8 320.5L889.4 315.7L890 311.8L890.4 308.9L890 305.5L888 302.9L884.9 301.6L881.5 302L878.9 304L877.6 307.1L877.2 310L876.7 314L876.1 318.7L875.4 323.8L874.7 329L873.9 333.9L873.1 337.9L872.4 342L871.6 346.1L870.8 350.3L869.8 354.5L868.7 358.7L867.3 363.1L866.1 366.8L864.8 370.6L863.4 374.5L862 378.3L860.5 382.2L858.8 386L857 389.7L855.1 393.3L853 396.7L850.9 399.7L848.7 402.5L846.4 405.4L843.9 408.2L841.3 411L838.5 413.8L835.5 416.6L832.5 419.5L829.3 422.5L825.9 425.6L823.1 428.2L820 430.8L816.7 433.5L813.3 436.3L809.8 439.1L806.2 442L802.6 444.8L799.1 447.6L795.6 450.4L792.2 453.2L789 455.9L786 458.5L782.3 461.9L778.8 465.2L775.4 468.4L772.2 471.6L769.2 474.7L766.3 477.7L763.5 480.6L761 483.5L758.5 486.4L754.8 491.5L751.6 496.5L749 501.1L747.1 504.8L745.7 507.5L745 509.9L745.6 512.5L747.5 514.3L749.9 515L752.5 514.4Z"/><path id="p15" d="M865.8 521.3L866.8 518.4L868 514.5L869.7 509.9L872.3 504.3L873.6 501.8L875.1 498.8L876.9 495.7L878.8 492.3L880.8 488.8L883 485.1L885.3 481.3L887.7 477.2L890.2 473L892 470L893.9 466.8L895.9 463.5L898 460.1L900.2 456.6L902.4 453L904.6 449.3L906.8 445.7L909.1 442L911.2 438.4L913.3 434.8L915.3 431.3L917.2 427.9L919.4 424.1L921.5 420.2L923.6 416.5L925.6 412.7L927.6 409L929.5 405.3L931.3 401.6L933 397.9L934.7 394.3L936.2 390.7L937.6 387.1L939.3 382.3L940.8 377.7L942 373.3L943.1 368.9L943.9 364.5L944.7 360.1L945.5 355.6L946.2 350.8L946.8 346.6L947.2 341.9L947.7 337.1L948 332.1L948.4 327.2L948.6 322.4L948.9 318.1L949.1 314.2L949.3 310.9L949.5 308.4L948.8 305.1L946.6 302.6L943.4 301.5L940.1 302.2L937.6 304.4L936.5 307.6L936.4 310.2L936.2 313.5L936.1 317.4L935.9 321.8L935.6 326.4L935.4 331.3L935.1 336.1L934.7 340.8L934.3 345.2L933.8 349.2L933.2 353.8L932.5 358.1L931.8 362.3L931.1 366.3L930.2 370.3L929.1 374.4L927.9 378.5L926.4 382.9L925.1 386.2L923.7 389.5L922.2 392.9L920.5 396.3L918.8 399.8L916.9 403.4L915 407L913 410.7L911 414.5L908.9 418.3L906.8 422.1L904.9 425.4L903 428.8L900.9 432.2L898.8 435.8L896.6 439.4L894.4 443L892.1 446.7L889.9 450.3L887.8 453.8L885.6 457.3L883.6 460.6L881.6 463.9L879.8 467L877.4 471.2L875 475.3L872.8 479.2L870.6 482.9L868.6 486.6L866.7 490L864.9 493.3L863.3 496.5L861.7 499.7L859.3 506L857.7 511.5L856.8 515.8L856.2 518.7L856.2 521.3L857.4 523.5L859.7 524.8L862.3 524.8L864.5 523.6Z"/><path id="p16" d="M999.1 311.1L999.7 313.7L1000.6 317.3L1001.5 321.4L1002.5 326L1003.5 330.8L1004.4 335.7L1005 340.5L1005.4 344.2L1005.7 348L1005.9 352L1006.1 356.1L1006.3 360.3L1006.4 364.5L1006.5 368.8L1006.5 373.1L1006.5 377.4L1006.4 381.5L1006.3 385.7L1006.1 390.2L1005.9 394.7L1005.7 399.1L1005.5 403.5L1005.2 407.6L1004.8 411.5L1004.4 415.1L1004 418L1002.7 423.7L1001.2 427.3L999.4 430.8L997.5 435.1L996 439.1L994.6 443.1L993.1 447.1L991.7 450.9L990.4 454.5L988.4 459.8L986.4 464.6L984.6 469.5L983.2 474.4L981.9 479.1L980.8 483.9L979.8 488.9L978.8 494.2L978 499.2L977.5 503.9L977.2 508.4L977.1 513L977.8 519.6L978.9 525.1L980.2 528.6L981.2 530.5L982.6 532.4L984.7 533.4L987.1 533.2L989 531.8L990 529.7L989.8 527.3L989.6 525.8L989.2 523.1L988.6 518.2L988.1 512.4L988.1 508.8L988.3 504.8L988.8 500.5L989.3 495.8L990.1 490.8L990.9 485.9L991.8 481.4L992.8 477L994 472.5L995.5 467.9L997.3 463.1L999.2 457.7L1000.5 454.1L1001.8 450.2L1003.2 446.2L1004.6 442.2L1005.9 438.5L1007.6 434.7L1009.4 431L1011.3 426.2L1012.7 419.7L1013.2 416.1L1013.6 412.4L1014 408.4L1014.3 404.1L1014.6 399.6L1014.9 395.1L1015.1 390.5L1015.3 386L1015.4 381.7L1015.5 377.6L1015.6 373.2L1015.7 368.8L1015.7 364.4L1015.7 360.1L1015.7 355.8L1015.6 351.6L1015.4 347.5L1015.2 343.5L1015 339.5L1014.6 334.4L1013.9 329.2L1013.2 324.1L1012.5 319.3L1011.8 315.1L1011.2 311.5L1010.9 308.9Z"/><path id="p17" d="M1039.2 311.4L1039.9 313.9L1040.9 317.3L1042.2 321.6L1043.6 326.4L1045.2 331.4L1046.5 335.3L1048 339.4L1049.5 343.7L1051.1 348.2L1052.7 352.6L1054.3 357L1055.7 361.3L1057 365.5L1058.2 369.8L1059.3 374L1060.5 378.3L1061.6 382.6L1062.7 386.8L1063.8 391.1L1065 395.4L1066.1 399.7L1067.2 404.1L1068.3 408.4L1069.3 412.5L1070.2 416.3L1071 419.6L1071.9 424.4L1072.4 428.1L1072.8 431.7L1073.3 435.8L1074 440.5L1074.7 445.4L1075.4 450.4L1076.1 455.5L1076.6 459.5L1077.1 463.5L1077.6 467.5L1078 471.5L1078.4 475.4L1078.8 480.3L1079 485.2L1079.2 490L1079.3 494.8L1079.3 499.9L1079.2 505.2L1079.1 510.1L1078.9 514.1L1078.4 519.7L1077.9 523.4L1077.8 526.1L1077.9 527.4L1078.1 529.5L1079.4 531.2L1081.4 532L1083.5 531.7L1085.2 530.4L1086 528.4L1086.4 527.2L1086.9 524.8L1087.6 520.9L1088.3 514.8L1088.4 510.4L1088.5 505.3L1088.5 499.9L1088.4 494.7L1088.2 489.7L1088 484.7L1087.7 479.7L1087.3 474.7L1086.9 470.6L1086.5 466.5L1085.9 462.4L1085.4 458.3L1084.9 454.3L1084.1 449.2L1083.4 444.1L1082.6 439.2L1081.9 434.5L1081.3 430.6L1080.8 427L1080.2 423L1079.2 418L1078.4 414.4L1077.5 410.5L1076.5 406.4L1075.5 402L1074.4 397.6L1073.3 393.2L1072.2 388.9L1071.1 384.7L1070.1 380.4L1069 376.1L1067.9 371.8L1066.7 367.4L1065.6 363.1L1064.3 358.7L1063 354.2L1061.5 349.7L1060 345.1L1058.6 340.6L1057.1 336.3L1055.9 332.2L1054.8 328.6L1053.6 323.7L1052.6 319L1051.9 314.8L1051.3 311.3L1050.8 308.6Z"/><path id="p18" d="M1070.6 304.4L1072.3 306.4L1074.4 309L1076.9 312.1L1079.8 315.6L1082.9 319.3L1086.1 323.2L1089.4 327.1L1092.6 331L1095.7 334.7L1098.7 338.2L1101.4 341.4L1104.2 344.6L1106.9 347.8L1109.6 350.9L1112.4 354L1115.1 357.1L1117.8 360.1L1120.5 363.2L1123.3 366.2L1126 369.2L1128.7 372.3L1131.4 375.3L1134.1 378.3L1136.9 381.3L1139.6 384.3L1142.3 387.3L1145.1 390.3L1147.9 393.2L1150.7 396.1L1153.5 398.9L1156.8 402.1L1160.3 405.3L1163.8 408.4L1167.4 411.4L1170.8 414.4L1174 417.1L1176.9 419.7L1179.5 422L1181.4 423.9L1185.2 427.9L1186.6 429.8L1188.2 432.9L1190 436.1L1191.7 439.5L1193.3 443.1L1194.6 446.7L1195.8 450.2L1196.8 453.9L1197.6 457.7L1198.3 461.3L1199 465.9L1199.4 470.4L1199.5 475.1L1199.4 479L1199.2 483.3L1198.9 487.5L1198.5 491.5L1197.8 496.5L1196.9 501.2L1196 505.4L1194.8 509.4L1193.6 513.2L1192.5 516.2L1191.7 519L1191.4 520.4L1190.8 523.5L1191.8 526.6L1194.3 528.7L1197.4 529.4L1200.5 528.3L1202.6 525.9L1203.8 524.4L1205.4 521.4L1206.8 518.1L1208.4 513.9L1209.9 509.1L1211 504.1L1212 498.8L1212.8 493.3L1213.3 488.8L1213.6 484.2L1213.8 479.5L1213.9 475L1213.7 469.5L1213.3 464.3L1212.5 459L1211.7 454.8L1210.8 450.5L1209.6 446.2L1208.2 441.9L1206.6 437.7L1204.8 433.5L1202.8 429.5L1200.8 425.9L1198.8 422.3L1196.2 418.6L1191.7 413.8L1189.2 411.4L1186.4 408.9L1183.3 406.3L1180 403.5L1176.6 400.7L1173.1 397.7L1169.7 394.7L1166.4 391.8L1163.3 388.9L1160.6 386.2L1157.8 383.5L1155.1 380.7L1152.4 377.9L1149.7 375L1147 372.1L1144.2 369.1L1141.5 366.1L1138.7 363.2L1136 360.2L1133.3 357.2L1130.6 354.2L1127.9 351.2L1125.2 348.1L1122.5 345.1L1119.8 342L1117.1 338.9L1114.4 335.8L1111.7 332.6L1108.9 329.4L1106.1 326L1103.1 322.3L1099.9 318.5L1096.7 314.5L1093.5 310.6L1090.5 306.9L1087.7 303.4L1085.2 300.3L1083.1 297.6L1081.4 295.6Z"/><path id="p19" d="M1211.4 429L1213.1 431.9L1215.4 435.8L1217.4 440L1218.6 443.3L1219.9 447.2L1220.9 451.2L1221.6 455.2L1222.2 459.4L1222.6 463.9L1222.6 468.3L1222.5 472.5L1222.2 476.5L1221.6 480.6L1220.8 484.5L1220.1 487.4L1218.1 493.1L1216.5 497.1L1223.6 502.1L1227.2 498.5L1231.5 492.5L1233.2 488.2L1234.7 483.7L1235.9 478.8L1236.8 473.7L1237 468.5L1236.9 463.2L1236.5 457.8L1235.7 452.6L1234.3 447.5L1232.6 442.8L1230.6 438.3L1228.4 434.2L1225 429.4L1221.5 425.5L1219 423.1Z"/><path id="p20" d="M1115 318.3L1118 320.4L1122 323.4L1125.9 326.6L1128.6 329.3L1130 331.9L1131.3 335.6L1133.1 340.7L1135.8 346.2L1138.3 350.1L1140.8 353.9L1143.6 357.7L1146.6 361.7L1149.8 365.6L1153.2 369.4L1155.9 372.4L1158.8 375.3L1161.7 378.2L1164.7 381.1L1167.8 384L1170.9 386.8L1174.1 389.6L1177.1 392.3L1180 395L1182.9 397.8L1185.9 400.7L1189 403.6L1192.3 406.4L1195.7 409.2L1199.3 411.9L1203.3 414.5L1207.7 417.1L1212.3 419.3L1216.9 421.2L1221.4 423L1225.5 424.7L1228.9 426.2L1231.5 427.7L1232.5 428.5L1235.6 430L1237.5 431.5L1239.7 434.3L1242.3 438.2L1244.2 441.4L1245.9 444.6L1247.4 448L1248.9 451.6L1250.1 455.2L1251 459.2L1251.7 463.2L1252.3 467.4L1252.7 471.4L1252.9 475L1252.7 479.3L1252.2 483.4L1251.5 487.3L1250.7 490.8L1249.4 494.8L1247.9 498.3L1246.1 501.9L1244 505.5L1241.5 509.2L1238.9 513.3L1236.6 517.3L1234.4 521.2L1232.1 525.5L1230 529.2L1227.6 533.4L1225.2 538L1223 543L1221.5 548L1220.4 553L1219.6 558.1L1218.7 563.5L1218.1 567.6L1217.5 571.9L1216.9 576.4L1216.4 580.7L1215.9 584.9L1215.3 588.6L1214.4 593.5L1213.5 597.9L1212.5 602.2L1211.5 606.8L1210.6 611.6L1209.7 616.4L1208.8 621.2L1208 626L1207.1 630.9L1206.3 635.8L1205.5 640.7L1204.7 645.6L1204.1 650.6L1203.5 655.5L1203 660.4L1202.5 665.1L1202.3 670L1202 675L1201.9 679.4L1201.8 682.5L1202 683.9L1202.9 684.9L1204.2 685.4L1205.6 685.1L1206.6 684.3L1207.1 683L1207.6 680L1208.2 675.6L1209 670.6L1209.7 665.8L1210.3 661.2L1210.9 656.4L1211.6 651.6L1212.3 646.8L1213.1 642L1214 637.1L1214.9 632.3L1215.8 627.5L1216.8 622.7L1217.8 618L1218.9 613.3L1219.9 608.7L1221.1 604.4L1222.3 600.1L1223.5 595.5L1224.7 590.4L1225.5 586.4L1226.2 582.2L1226.9 577.8L1227.6 573.4L1228.3 569.2L1229.1 565.4L1230.2 560.2L1231.2 555.4L1232.4 551.1L1233.8 547.1L1235.6 543.1L1237.8 539.1L1240.3 535.2L1242.5 531.4L1244.9 527L1247 523.2L1249.1 519.5L1251.5 515.8L1254.1 511.9L1256.6 507.7L1258.8 503.4L1260.7 499L1262.3 494L1263.3 489.7L1264.1 485.1L1264.7 480.2L1264.9 475.1L1264.9 470.7L1264.6 466.2L1264.2 461.6L1263.6 457L1262.8 452.6L1262.3 448.2L1261.5 443.8L1260.6 439.5L1259.4 435.2L1258.2 431.2L1257 426.5L1255.4 421.1L1252 414.8L1246.5 409.1L1241.4 406.6L1236.8 405.1L1232.2 404L1227.6 402.9L1223.1 401.9L1218.9 400.9L1215.2 399.9L1211.9 398.7L1208.8 397.1L1205.7 395.2L1202.6 393.1L1199.5 390.8L1196.4 388.5L1193.3 386L1190.1 383.4L1186.9 380.9L1183.8 378.3L1180.6 375.7L1177.6 373.1L1174.5 370.4L1171.6 367.8L1168.7 365.1L1166.1 362.5L1163.6 360L1160.5 356.5L1157.5 352.9L1154.8 349.4L1152.3 345.9L1150 342.5L1148.2 339.6L1146.3 335.4L1145.1 331.2L1143.6 326.2L1140.8 320.7L1136.5 315.6L1131.8 311.4L1127.7 308L1125 305.7Z"/><path id="p21" d="M1258.9 437.1C1259.4 439.5 1260.9 446.3 1262.2 451.5C1263.6 456.7 1265.1 463.8 1267 468.3C1269 472.9 1272.2 476.1 1273.8 478.9C1275.4 481.7 1275 481.4 1276.6 484.9C1278.3 488.4 1281.6 495.7 1283.6 499.8C1285.6 503.9 1287.4 506.1 1288.5 509.7C1289.6 513.2 1290 517.3 1290.1 521.2C1290.2 525.1 1289.9 528.8 1289.1 533.2C1288.3 537.6 1285.9 545.2 1285.3 547.7L1307.3 547.7C1308 545.2 1310.7 537.6 1311.6 533.2C1312.6 528.8 1312.9 525.1 1312.8 521.2C1312.7 517.3 1312.4 514.4 1311.2 509.7C1309.9 504.9 1307.9 498.6 1305.4 492.8C1303 487.1 1299.6 480.5 1296.4 475.1C1293.3 469.6 1289.6 464.8 1286.5 460.2C1283.4 455.5 1282 452.1 1278.1 447.2C1274.2 442.3 1265.7 433.6 1263.2 430.8Z"/></defs>
<path d="M760.9 317.9L763.3 318.1L766.4 318.1L770 318.1L774 317.9L778.3 317.7L782.8 317.6L787.4 317.4L792.1 317.3L796.7 317.3L801.1 317.4L804.6 317.4L808.1 317.3L811.4 317.4L814.7 317.4L818.2 317.5L821.7 317.6L825.5 317.7L829.6 317.8L834 318L838.9 318.2L844.3 318.3L850.2 318.5L853.2 318.5L856.4 318.4L859.6 318.4L863 318.4L866.5 318.4L870.1 318.4L873.7 318.4L877.5 318.4L881.3 318.4L885.2 318.4L889.2 318.4L893.3 318.4L897.4 318.4L901.5 318.4L905.8 318.4L910 318.4L914.4 318.5L918.7 318.5L923.1 318.5L927.5 318.5L932 318.6L936.4 318.6L940.9 318.7L945.4 318.7L949.9 318.7L953.5 318.8L957.2 318.9L961 318.9L964.7 319L968.6 319.1L972.4 319.1L976.3 319.2L980.3 319.3L984.3 319.4L988.3 319.5L992.3 319.5L996.3 319.6L1000.4 319.7L1004.5 319.8L1008.6 319.9L1012.8 320L1016.9 320.1L1021 320.2L1025.2 320.3L1029.4 320.4L1033.5 320.5L1037.7 320.6L1041.8 320.7L1046 320.8L1050.1 320.9L1054.3 321L1058.4 321.1L1062.5 321.2L1066.6 321.3L1070.7 321.4L1074.7 321.5L1078.7 321.7L1082.8 321.9L1086.9 322.1L1091 322.3L1095.1 322.5L1099.2 322.7L1103.3 322.9L1107.5 323.1L1111.7 323.3L1115.8 323.6L1120 323.8L1124.1 324L1128.3 324.2L1132.4 324.4L1136.6 324.6L1140.7 324.9L1144.8 325.1L1148.9 325.3L1153 325.5L1157.1 325.7L1161.1 325.9L1165.1 326.2L1169.1 326.4L1173 326.6L1176.9 326.8L1180.8 327L1184.7 327.2L1188.5 327.4L1192.2 327.6L1195.9 327.8L1199.6 328L1204.1 328.2L1208.5 328.3L1212.8 328.5L1217.2 328.6L1221.4 328.8L1225.6 328.9L1229.8 329.1L1234 329.2L1238 329.4L1242.1 329.5L1246.1 329.7L1250.1 329.8L1254.1 330L1258 330.1L1261.9 330.3L1265.8 330.4L1269.6 330.5L1273.4 330.7L1277.2 330.8L1281 330.9L1284.8 331L1288.5 331.2L1292.3 331.3L1296 331.4L1299.7 331.5L1304.2 331.6L1308.8 331.6L1313.5 331.7L1318.2 331.7L1323 331.8L1327.7 331.8L1332.5 331.9L1337.2 331.9L1341.8 332L1346.4 332L1350.9 332L1355.2 332L1359.4 332.1L1363.5 332.1L1367.3 332.1L1370.9 332.1L1374.3 332.2L1377.4 332.2L1380.2 332.2L1382.7 332.2L1384.9 332.2M759.1 308.1L761.3 307.1L764.1 306L767.5 304.7L771.3 303.4L775.5 302L779.9 300.6L784.6 299.2L789.4 297.9L794.2 296.7L798.9 295.6L802.7 295L806.3 294.4L809.8 293.9L813.4 293.4L817 293L820.8 292.6L824.7 292.2L828.9 291.9L833.5 291.5L838.4 291.2L843.9 290.8L849.8 290.5L852.9 290.5L856.1 290.4L859.4 290.4L862.8 290.3L866.3 290.3L869.9 290.3L873.6 290.2L877.4 290.2L881.2 290.2L885.2 290.2L889.2 290.1L893.3 290.1L897.4 290.1L901.6 290.1L905.8 290.1L910.1 290.1L914.5 290.1L918.8 290.1L923.2 290.1L927.7 290.1L932.1 290.2L936.6 290.2L941.1 290.2L945.6 290.2L950.1 290.3L953.8 290.3L957.5 290.3L961.3 290.3L965.1 290.3L968.9 290.3L972.8 290.4L976.7 290.4L980.7 290.4L984.7 290.4L988.7 290.5L992.7 290.5L996.8 290.5L1000.9 290.6L1005 290.6L1009.1 290.7L1013.3 290.7L1017.4 290.8L1021.6 290.8L1025.7 290.9L1029.9 290.9L1034.1 291L1038.2 291L1042.4 291.1L1046.6 291.1L1050.7 291.2L1054.9 291.2L1059 291.3L1063.1 291.3L1067.2 291.4L1071.3 291.4L1075.3 291.5L1079.4 291.5L1083.4 291.4L1087.5 291.4L1091.7 291.4L1095.8 291.4L1099.9 291.4L1104.1 291.3L1108.3 291.3L1112.4 291.3L1116.6 291.3L1120.8 291.3L1124.9 291.3L1129.1 291.3L1133.3 291.3L1137.4 291.3L1141.6 291.3L1145.7 291.2L1149.8 291.2L1153.9 291.2L1157.9 291.2L1162 291.2L1166 291.2L1170 291.2L1173.9 291.2L1177.8 291.1L1181.7 291.1L1185.5 291.1L1189.3 291.1L1193.1 291.1L1196.8 291L1200.4 291L1204.9 291L1209.3 291.1L1213.7 291.1L1218 291.2L1222.3 291.2L1226.5 291.2L1230.7 291.3L1234.8 291.3L1238.9 291.3L1242.9 291.3L1246.9 291.4L1250.9 291.4L1254.9 291.4L1258.8 291.4L1262.7 291.5L1266.5 291.5L1270.4 291.5L1274.2 291.5L1277.9 291.5L1281.7 291.5L1285.4 291.5L1289.2 291.5L1292.9 291.5L1296.6 291.5L1300.3 291.5L1304.7 291.5L1309.2 291.6L1313.9 291.6L1318.5 291.6L1323.3 291.7L1328 291.7L1332.7 291.7L1337.4 291.7L1342 291.7L1346.6 291.7L1351 291.8L1355.4 291.8L1359.6 291.8L1363.6 291.8L1367.4 291.8L1371 291.8L1374.4 291.8L1377.5 291.8L1380.4 291.8L1382.9 291.8L1385.1 291.8" class="e" stroke="#1a1614" stroke-width="3.1"/>
<path d="M506.3 411.8L508.7 410.5L511.8 408.7L515.5 406.5L519.6 404.2L524 401.6L528.6 399.1L533 396.6L537.4 394.3L540.8 392.5L544.3 390.6L547.9 388.7L551.6 386.8L555.2 384.9L558.9 383.1L562.5 381.3L566.2 379.7L569.7 378.2L573.2 376.9L576.9 375.8L580.5 375L584.1 374.4L587.7 373.9L591.5 373.4L595.6 372.8L599.9 372.2L604.7 371.3L609.8 370.2L613.2 369.3L616.8 368.3L620.5 367.3L624.3 366.3L628.3 365.2L632.3 364L636.3 362.8L640.5 361.6L644.6 360.4L648.7 359.2L652.9 357.9L657 356.7L661.1 355.5L665.1 354.3L669.1 352.9L673.1 351.5L677.2 350.1L681.4 348.7L685.5 347.2L689.7 345.8L693.8 344.3L697.9 342.9L701.8 341.5L705.7 340.1L709.5 338.8L713.1 337.5L716.6 336.4L719.9 335.3L724.6 333.7L729 332.2L733.1 330.9L737 329.7L740.6 328.5L744.3 327.4L747.9 326.3L751.6 325.3L755.5 324.2L759.7 323L764.2 321.8L768.9 320.6L773.6 319.4L778.2 318.2L782.5 317.2L786.3 316.2L789.6 315.4L792.1 314.8L796.2 312.5L798.6 308.6L798.8 303.9L796.5 299.8L792.6 297.4L787.9 297.2L785.4 297.8L782.2 298.5L778.3 299.3L773.9 300.3L769.3 301.3L764.4 302.5L759.6 303.6L754.9 304.7L750.5 305.8L746.5 306.9L742.6 308L738.9 309L735.1 310.1L731.3 311.2L727.3 312.4L723.1 313.7L718.6 315.2L713.7 316.7L710.3 317.9L706.8 319.1L703.1 320.4L699.3 321.7L695.3 323.1L691.3 324.5L687.3 325.9L683.2 327.4L679.1 328.8L675 330.3L670.9 331.7L666.8 333.1L662.8 334.4L658.9 335.7L655.1 337.1L651.1 338.5L647.1 339.9L643 341.3L639 342.7L634.9 344.1L630.9 345.4L626.9 346.7L623 348L619.2 349.3L615.5 350.5L611.9 351.7L608.4 352.8L605.2 353.8L600.6 355.3L596.4 356.6L592.4 357.7L588.6 358.7L584.8 359.7L580.9 360.8L577 362L573 363.4L568.8 365.1L565 366.7L561.1 368.5L557.3 370.3L553.4 372.3L549.7 374.3L545.9 376.3L542.3 378.3L538.7 380.4L535.2 382.3L531.8 384.3L527.5 386.8L523 389.5L518.5 392.2L514.1 394.9L510 397.5L506.4 399.8L503.4 401.7L501.1 403.2L499.3 405.1L498.7 407.6L499.4 410.1L501.3 411.9L503.8 412.5Z" class="e" stroke="#1a1614" stroke-width="3.1"/>
<path d="M533.2 427.9L535.3 426.3L538 424.2L541.3 421.7L544.9 418.9L548.7 415.9L552.5 413L556.3 410.3L559.7 407.9L563.2 405.4L566.8 402.9L570.5 400.3L574.2 397.8L577.9 395.3L581.6 392.9L585.2 390.7L588.7 388.5L592.1 386.5L595.5 384.5L598.9 382.6L602.3 380.7L605.7 378.9L609.1 377.1L612.6 375.4L616.4 373.6L620.5 371.7L624.8 369.9L629.1 368.1L633.2 366.3L636.9 364.8L640 363.5L642.3 362.5L644.8 360.6L646 357.7L645.5 354.7L643.6 352.2L640.7 351L637.7 351.5L635.4 352.5L632.3 353.7L628.6 355.3L624.4 357L620.1 358.9L615.6 360.8L611.3 362.7L607.4 364.6L603.7 366.4L600.1 368.3L596.6 370.2L593 372.1L589.5 374.1L586 376.2L582.4 378.3L578.8 380.5L575.1 382.9L571.4 385.4L567.6 388L563.8 390.7L560 393.3L556.4 396L552.8 398.6L549.5 401.1L545.7 404.1L541.8 407.3L538 410.4L534.5 413.4L531.4 416.1L528.8 418.4L526.8 420.1L525.3 422.2L525.1 424.8L526.1 427.2L528.2 428.7L530.8 428.9Z" class="e" stroke="#1a1614" stroke-width="3.1"/>
<path d="M519.8 528.5L521.1 526.4L522.8 523.7L524.7 520.6L526.8 517.1L529.1 513.4L531.6 509.5L534.1 505.6L536.7 501.9L539.3 498.4L541.6 495.2L544 492.1L546.5 488.9L549.1 485.7L551.7 482.5L554.5 479.2L557.3 476L560.2 472.7L563.3 469.4L566.4 466.1L569 463.3L571.8 460.4L574.7 457.5L577.7 454.5L580.7 451.6L583.8 448.6L586.9 445.7L590 442.8L593.1 440L596.2 437.3L599.2 434.6L602.2 432.1L605.4 429.5L608.6 427L611.9 424.6L615.1 422.3L618.4 420L621.6 417.8L624.9 415.6L628.2 413.5L631.4 411.3L634.8 409.2L638.1 407L641.6 404.7L645.2 402.5L648.8 400.3L652.4 398.2L656.1 396.1L659.7 393.9L663.4 391.8L667.1 389.6L670.8 387.4L674.5 385.1L678.2 382.8L682 380.4L685.8 377.9L689.6 375.5L693.3 373L697.1 370.6L700.7 368.2L704.3 365.9L707.7 363.7L711 361.5L714.9 359L718.5 356.5L722 354.2L725.4 351.9L728.7 349.7L731.9 347.6L735.1 345.4L738.3 343.3L742 340.8L745.6 338.4L749.1 336.1L752.5 333.8L755.9 331.6L759.4 329.5L763 327.5L766.6 325.6L770.6 323.7L774.9 321.7L779.2 319.8L783.3 318L787.1 316.4L790.3 315L792.7 313.9L795.3 311.8L796.5 308.6L795.9 305.3L793.8 302.7L790.6 301.5L787.3 302.1L785 303.2L781.9 304.6L778.1 306.3L773.9 308.2L769.5 310.2L765.1 312.3L760.9 314.4L757 316.5L753 318.9L749.2 321.2L745.7 323.6L742.2 326L738.7 328.4L735.3 330.9L731.7 333.3L728.4 335.5L725.2 337.6L722 339.8L718.7 342L715.4 344.2L711.9 346.5L708.3 349L704.4 351.5L701.1 353.6L697.7 355.9L694.2 358.2L690.5 360.6L686.8 363L683 365.4L679.3 367.8L675.5 370.2L671.8 372.6L668.1 374.9L664.5 377.1L660.9 379.3L657.3 381.4L653.7 383.6L650 385.7L646.3 387.9L642.7 390L639 392.3L635.2 394.6L631.5 397L628.2 399.1L624.9 401.3L621.6 403.4L618.2 405.6L614.9 407.9L611.5 410.2L608.2 412.5L604.8 415L601.4 417.5L598 420.1L594.6 422.9L591.5 425.5L588.3 428.2L585.1 431.1L581.9 434L578.7 436.9L575.5 439.9L572.3 443L569.2 446L566.2 449L563.3 452L560.4 455L557.6 457.9L554.5 461.3L551.4 464.8L548.4 468.2L545.5 471.6L542.7 475L540 478.4L537.3 481.7L534.8 485L532.3 488.3L529.9 491.6L527.3 495.5L524.7 499.6L522.2 503.7L519.9 507.8L517.6 511.7L515.6 515.3L513.8 518.6L512.4 521.3L511.2 523.3L510.5 525.8L511.1 528.3L512.9 530.2L515.4 530.9L517.9 530.3Z" class="e" stroke="#1a1614" stroke-width="3.1"/>
<path d="M641.3 502.7L642.3 500.2L643.6 496.8L645.2 492.8L646.9 488.5L648.7 484L650.7 479.6L652.8 475.5L654.6 472.1L656.4 468.5L658.4 464.9L660.4 461.5L662.6 458L664.9 454.6L667.4 451.3L670.3 448L672.7 445.4L675.5 442.7L678.4 440L681.6 437.3L684.8 434.6L688.2 431.9L691.7 429.3L695.2 426.6L698.7 424L702.1 421.5L705.6 419L709.1 416.6L712.8 414.3L716.5 411.9L720.3 409.6L724.1 407.2L727.8 404.9L731.5 402.6L735.1 400.3L738.5 397.9L742.4 395L746.2 392.2L749.8 389.4L753.2 386.6L756.6 383.9L759.8 381.1L763.1 378.3L766.3 375.5L769.5 372.6L772.6 369.7L775.7 366.7L778.7 363.8L781.6 360.8L784.5 357.9L787.4 355.1L790.2 352.3L793.5 349L796.8 345.8L799.9 342.5L803 339.4L806.1 336.3L809.2 333.4L812.2 330.6L815.4 327.8L819 324.9L822.6 322L826.1 319.3L829.3 316.8L832 314.7L834.1 313.1L836.1 310.4L836.4 307L835.1 303.9L832.4 301.9L829 301.6L825.9 302.9L824 304.5L821.3 306.7L818.1 309.2L814.6 312.1L810.9 315.2L807.2 318.3L803.8 321.4L800.6 324.4L797.4 327.6L794.3 330.8L791.2 334L788.1 337.3L784.9 340.5L781.8 343.7L778.9 346.6L776 349.5L773.2 352.4L770.3 355.2L767.3 358.1L764.4 360.9L761.4 363.7L758.3 366.5L755.2 369.3L752 372L748.9 374.6L745.7 377.3L742.3 380L738.9 382.6L735.3 385.4L731.5 388.1L728.4 390.3L725 392.5L721.5 394.8L717.8 397L714 399.4L710.2 401.7L706.3 404.1L702.5 406.6L698.7 409.1L695.1 411.7L691.5 414.4L688 417L684.4 419.7L680.8 422.5L677.3 425.3L673.8 428.2L670.5 431.1L667.3 434L664.2 437L661.3 440L658.1 443.8L655.2 447.7L652.6 451.6L650.3 455.5L648.1 459.3L646.2 463.1L644.3 466.8L642.4 470.5L640.4 475L638.5 479.8L636.7 484.6L635.2 489.2L633.8 493.3L632.7 496.8L631.9 499.3L631.7 501.8L632.8 504.2L634.9 505.7L637.4 505.9L639.8 504.8Z" class="e" stroke="#1a1614" stroke-width="3.1"/>
<path d="M754.3 512.5L756 510L758.2 506.4L760.8 502.4L763.8 498L767.5 493.6L769.6 491.2L772.1 488.5L774.7 485.8L777.5 482.9L780.5 480L783.6 477L786.9 473.9L790.4 470.7L794 467.5L796.8 465L799.9 462.4L803.1 459.8L806.6 457L810.1 454.2L813.7 451.4L817.3 448.5L820.8 445.7L824.4 442.8L827.8 440L831 437.2L834.1 434.4L837.4 431.3L840.7 428.3L843.8 425.3L846.9 422.3L849.9 419.3L852.7 416.3L855.5 413.2L858.1 410L860.6 406.7L863 403.3L865.5 399.3L867.7 395.2L869.7 391L871.5 386.8L873.2 382.6L874.7 378.5L876.1 374.5L877.4 370.6L878.7 366.9L880.2 362.1L881.5 357.5L882.7 353L883.6 348.6L884.5 344.4L885.3 340.2L886.1 336.1L887.1 331L888 325.7L888.8 320.5L889.4 315.7L890 311.8L890.4 308.9L890 305.5L888 302.9L884.9 301.6L881.5 302L878.9 304L877.6 307.1L877.2 310L876.7 314L876.1 318.7L875.4 323.8L874.7 329L873.9 333.9L873.1 337.9L872.4 342L871.6 346.1L870.8 350.3L869.8 354.5L868.7 358.7L867.3 363.1L866.1 366.8L864.8 370.6L863.4 374.5L862 378.3L860.5 382.2L858.8 386L857 389.7L855.1 393.3L853 396.7L850.9 399.7L848.7 402.5L846.4 405.4L843.9 408.2L841.3 411L838.5 413.8L835.5 416.6L832.5 419.5L829.3 422.5L825.9 425.6L823.1 428.2L820 430.8L816.7 433.5L813.3 436.3L809.8 439.1L806.2 442L802.6 444.8L799.1 447.6L795.6 450.4L792.2 453.2L789 455.9L786 458.5L782.3 461.9L778.8 465.2L775.4 468.4L772.2 471.6L769.2 474.7L766.3 477.7L763.5 480.6L761 483.5L758.5 486.4L754.8 491.5L751.6 496.5L749 501.1L747.1 504.8L745.7 507.5L745 509.9L745.6 512.5L747.5 514.3L749.9 515L752.5 514.4Z" class="e" stroke="#1a1614" stroke-width="3.1"/>
<path d="M865.8 521.3L866.8 518.4L868 514.5L869.7 509.9L872.3 504.3L873.6 501.8L875.1 498.8L876.9 495.7L878.8 492.3L880.8 488.8L883 485.1L885.3 481.3L887.7 477.2L890.2 473L892 470L893.9 466.8L895.9 463.5L898 460.1L900.2 456.6L902.4 453L904.6 449.3L906.8 445.7L909.1 442L911.2 438.4L913.3 434.8L915.3 431.3L917.2 427.9L919.4 424.1L921.5 420.2L923.6 416.5L925.6 412.7L927.6 409L929.5 405.3L931.3 401.6L933 397.9L934.7 394.3L936.2 390.7L937.6 387.1L939.3 382.3L940.8 377.7L942 373.3L943.1 368.9L943.9 364.5L944.7 360.1L945.5 355.6L946.2 350.8L946.8 346.6L947.2 341.9L947.7 337.1L948 332.1L948.4 327.2L948.6 322.4L948.9 318.1L949.1 314.2L949.3 310.9L949.5 308.4L948.8 305.1L946.6 302.6L943.4 301.5L940.1 302.2L937.6 304.4L936.5 307.6L936.4 310.2L936.2 313.5L936.1 317.4L935.9 321.8L935.6 326.4L935.4 331.3L935.1 336.1L934.7 340.8L934.3 345.2L933.8 349.2L933.2 353.8L932.5 358.1L931.8 362.3L931.1 366.3L930.2 370.3L929.1 374.4L927.9 378.5L926.4 382.9L925.1 386.2L923.7 389.5L922.2 392.9L920.5 396.3L918.8 399.8L916.9 403.4L915 407L913 410.7L911 414.5L908.9 418.3L906.8 422.1L904.9 425.4L903 428.8L900.9 432.2L898.8 435.8L896.6 439.4L894.4 443L892.1 446.7L889.9 450.3L887.8 453.8L885.6 457.3L883.6 460.6L881.6 463.9L879.8 467L877.4 471.2L875 475.3L872.8 479.2L870.6 482.9L868.6 486.6L866.7 490L864.9 493.3L863.3 496.5L861.7 499.7L859.3 506L857.7 511.5L856.8 515.8L856.2 518.7L856.2 521.3L857.4 523.5L859.7 524.8L862.3 524.8L864.5 523.6Z" class="e" stroke="#1a1614" stroke-width="3.1"/>
<path d="M999.1 311.1L999.7 313.7L1000.6 317.3L1001.5 321.4L1002.5 326L1003.5 330.8L1004.4 335.7L1005 340.5L1005.4 344.2L1005.7 348L1005.9 352L1006.1 356.1L1006.3 360.3L1006.4 364.5L1006.5 368.8L1006.5 373.1L1006.5 377.4L1006.4 381.5L1006.3 385.7L1006.1 390.2L1005.9 394.7L1005.7 399.1L1005.5 403.5L1005.2 407.6L1004.8 411.5L1004.4 415.1L1004 418L1002.7 423.7L1001.2 427.3L999.4 430.8L997.5 435.1L996 439.1L994.6 443.1L993.1 447.1L991.7 450.9L990.4 454.5L988.4 459.8L986.4 464.6L984.6 469.5L983.2 474.4L981.9 479.1L980.8 483.9L979.8 488.9L978.8 494.2L978 499.2L977.5 503.9L977.2 508.4L977.1 513L977.8 519.6L978.9 525.1L980.2 528.6L981.2 530.5L982.6 532.4L984.7 533.4L987.1 533.2L989 531.8L990 529.7L989.8 527.3L989.6 525.8L989.2 523.1L988.6 518.2L988.1 512.4L988.1 508.8L988.3 504.8L988.8 500.5L989.3 495.8L990.1 490.8L990.9 485.9L991.8 481.4L992.8 477L994 472.5L995.5 467.9L997.3 463.1L999.2 457.7L1000.5 454.1L1001.8 450.2L1003.2 446.2L1004.6 442.2L1005.9 438.5L1007.6 434.7L1009.4 431L1011.3 426.2L1012.7 419.7L1013.2 416.1L1013.6 412.4L1014 408.4L1014.3 404.1L1014.6 399.6L1014.9 395.1L1015.1 390.5L1015.3 386L1015.4 381.7L1015.5 377.6L1015.6 373.2L1015.7 368.8L1015.7 364.4L1015.7 360.1L1015.7 355.8L1015.6 351.6L1015.4 347.5L1015.2 343.5L1015 339.5L1014.6 334.4L1013.9 329.2L1013.2 324.1L1012.5 319.3L1011.8 315.1L1011.2 311.5L1010.9 308.9" class="e" stroke="#1a1614" stroke-width="3.1"/>
<path d="M1039.2 311.4L1039.9 313.9L1040.9 317.3L1042.2 321.6L1043.6 326.4L1045.2 331.4L1046.5 335.3L1048 339.4L1049.5 343.7L1051.1 348.2L1052.7 352.6L1054.3 357L1055.7 361.3L1057 365.5L1058.2 369.8L1059.3 374L1060.5 378.3L1061.6 382.6L1062.7 386.8L1063.8 391.1L1065 395.4L1066.1 399.7L1067.2 404.1L1068.3 408.4L1069.3 412.5L1070.2 416.3L1071 419.6L1071.9 424.4L1072.4 428.1L1072.8 431.7L1073.3 435.8L1074 440.5L1074.7 445.4L1075.4 450.4L1076.1 455.5L1076.6 459.5L1077.1 463.5L1077.6 467.5L1078 471.5L1078.4 475.4L1078.8 480.3L1079 485.2L1079.2 490L1079.3 494.8L1079.3 499.9L1079.2 505.2L1079.1 510.1L1078.9 514.1L1078.4 519.7L1077.9 523.4L1077.8 526.1L1077.9 527.4L1078.1 529.5L1079.4 531.2L1081.4 532L1083.5 531.7L1085.2 530.4L1086 528.4L1086.4 527.2L1086.9 524.8L1087.6 520.9L1088.3 514.8L1088.4 510.4L1088.5 505.3L1088.5 499.9L1088.4 494.7L1088.2 489.7L1088 484.7L1087.7 479.7L1087.3 474.7L1086.9 470.6L1086.5 466.5L1085.9 462.4L1085.4 458.3L1084.9 454.3L1084.1 449.2L1083.4 444.1L1082.6 439.2L1081.9 434.5L1081.3 430.6L1080.8 427L1080.2 423L1079.2 418L1078.4 414.4L1077.5 410.5L1076.5 406.4L1075.5 402L1074.4 397.6L1073.3 393.2L1072.2 388.9L1071.1 384.7L1070.1 380.4L1069 376.1L1067.9 371.8L1066.7 367.4L1065.6 363.1L1064.3 358.7L1063 354.2L1061.5 349.7L1060 345.1L1058.6 340.6L1057.1 336.3L1055.9 332.2L1054.8 328.6L1053.6 323.7L1052.6 319L1051.9 314.8L1051.3 311.3L1050.8 308.6" class="e" stroke="#1a1614" stroke-width="3.1"/>
<path d="M1070.6 304.4L1072.3 306.4L1074.4 309L1076.9 312.1L1079.8 315.6L1082.9 319.3L1086.1 323.2L1089.4 327.1L1092.6 331L1095.7 334.7L1098.7 338.2L1101.4 341.4L1104.2 344.6L1106.9 347.8L1109.6 350.9L1112.4 354L1115.1 357.1L1117.8 360.1L1120.5 363.2L1123.3 366.2L1126 369.2L1128.7 372.3L1131.4 375.3L1134.1 378.3L1136.9 381.3L1139.6 384.3L1142.3 387.3L1145.1 390.3L1147.9 393.2L1150.7 396.1L1153.5 398.9L1156.8 402.1L1160.3 405.3L1163.8 408.4L1167.4 411.4L1170.8 414.4L1174 417.1L1176.9 419.7L1179.5 422L1181.4 423.9L1185.2 427.9L1186.6 429.8L1188.2 432.9L1190 436.1L1191.7 439.5L1193.3 443.1L1194.6 446.7L1195.8 450.2L1196.8 453.9L1197.6 457.7L1198.3 461.3L1199 465.9L1199.4 470.4L1199.5 475.1L1199.4 479L1199.2 483.3L1198.9 487.5L1198.5 491.5L1197.8 496.5L1196.9 501.2L1196 505.4L1194.8 509.4L1193.6 513.2L1192.5 516.2L1191.7 519L1191.4 520.4L1190.8 523.5L1191.8 526.6L1194.3 528.7L1197.4 529.4L1200.5 528.3L1202.6 525.9L1203.8 524.4L1205.4 521.4L1206.8 518.1L1208.4 513.9L1209.9 509.1L1211 504.1L1212 498.8L1212.8 493.3L1213.3 488.8L1213.6 484.2L1213.8 479.5L1213.9 475L1213.7 469.5L1213.3 464.3L1212.5 459L1211.7 454.8L1210.8 450.5L1209.6 446.2L1208.2 441.9L1206.6 437.7L1204.8 433.5L1202.8 429.5L1200.8 425.9L1198.8 422.3L1196.2 418.6L1191.7 413.8L1189.2 411.4L1186.4 408.9L1183.3 406.3L1180 403.5L1176.6 400.7L1173.1 397.7L1169.7 394.7L1166.4 391.8L1163.3 388.9L1160.6 386.2L1157.8 383.5L1155.1 380.7L1152.4 377.9L1149.7 375L1147 372.1L1144.2 369.1L1141.5 366.1L1138.7 363.2L1136 360.2L1133.3 357.2L1130.6 354.2L1127.9 351.2L1125.2 348.1L1122.5 345.1L1119.8 342L1117.1 338.9L1114.4 335.8L1111.7 332.6L1108.9 329.4L1106.1 326L1103.1 322.3L1099.9 318.5L1096.7 314.5L1093.5 310.6L1090.5 306.9L1087.7 303.4L1085.2 300.3L1083.1 297.6L1081.4 295.6" class="e" stroke="#1a1614" stroke-width="3.1"/>
<path d="M1211.4 429L1213.1 431.9L1215.4 435.8L1217.4 440L1218.6 443.3L1219.9 447.2L1220.9 451.2L1221.6 455.2L1222.2 459.4L1222.6 463.9L1222.6 468.3L1222.5 472.5L1222.2 476.5L1221.6 480.6L1220.8 484.5L1220.1 487.4L1218.1 493.1L1216.5 497.1M1219 423.1L1221.5 425.5L1225 429.4L1228.4 434.2L1230.6 438.3L1232.6 442.8L1234.3 447.5L1235.7 452.6L1236.5 457.8L1236.9 463.2L1237 468.5L1236.8 473.7L1235.9 478.8L1234.7 483.7L1233.2 488.2L1231.5 492.5L1227.2 498.5L1223.6 502.1" class="e" stroke="#1a1614" stroke-width="3.1"/>
<path d="M1115 318.3L1118 320.4L1122 323.4L1125.9 326.6L1128.6 329.3L1130 331.9L1131.3 335.6L1133.1 340.7L1135.8 346.2L1138.3 350.1L1140.8 353.9L1143.6 357.7L1146.6 361.7L1149.8 365.6L1153.2 369.4L1155.9 372.4L1158.8 375.3L1161.7 378.2L1164.7 381.1L1167.8 384L1170.9 386.8L1174.1 389.6L1177.1 392.3L1180 395L1182.9 397.8L1185.9 400.7L1189 403.6L1192.3 406.4L1195.7 409.2L1199.3 411.9L1203.3 414.5L1207.7 417.1L1212.3 419.3L1216.9 421.2L1221.4 423L1225.5 424.7L1228.9 426.2L1231.5 427.7L1232.5 428.5L1235.6 430L1237.5 431.5L1239.7 434.3L1242.3 438.2L1244.2 441.4L1245.9 444.6L1247.4 448L1248.9 451.6L1250.1 455.2L1251 459.2L1251.7 463.2L1252.3 467.4L1252.7 471.4L1252.9 475L1252.7 479.3L1252.2 483.4L1251.5 487.3L1250.7 490.8L1249.4 494.8L1247.9 498.3L1246.1 501.9L1244 505.5L1241.5 509.2L1238.9 513.3L1236.6 517.3L1234.4 521.2L1232.1 525.5L1230 529.2L1227.6 533.4L1225.2 538L1223 543L1221.5 548L1220.4 553L1219.6 558.1L1218.7 563.5L1218.1 567.6L1217.5 571.9L1216.9 576.4L1216.4 580.7L1215.9 584.9L1215.3 588.6L1214.4 593.5L1213.5 597.9L1212.5 602.2L1211.5 606.8L1210.6 611.6L1209.7 616.4L1208.8 621.2L1208 626L1207.1 630.9L1206.3 635.8L1205.5 640.7L1204.7 645.6L1204.1 650.6L1203.5 655.5L1203 660.4L1202.5 665.1L1202.3 670L1202 675L1201.9 679.4L1201.8 682.5L1202 683.9L1202.9 684.9L1204.2 685.4L1205.6 685.1L1206.6 684.3L1207.1 683L1207.6 680L1208.2 675.6L1209 670.6L1209.7 665.8L1210.3 661.2L1210.9 656.4L1211.6 651.6L1212.3 646.8L1213.1 642L1214 637.1L1214.9 632.3L1215.8 627.5L1216.8 622.7L1217.8 618L1218.9 613.3L1219.9 608.7L1221.1 604.4L1222.3 600.1L1223.5 595.5L1224.7 590.4L1225.5 586.4L1226.2 582.2L1226.9 577.8L1227.6 573.4L1228.3 569.2L1229.1 565.4L1230.2 560.2L1231.2 555.4L1232.4 551.1L1233.8 547.1L1235.6 543.1L1237.8 539.1L1240.3 535.2L1242.5 531.4L1244.9 527L1247 523.2L1249.1 519.5L1251.5 515.8L1254.1 511.9L1256.6 507.7L1258.8 503.4L1260.7 499L1262.3 494L1263.3 489.7L1264.1 485.1L1264.7 480.2L1264.9 475.1L1264.9 470.7L1264.6 466.2L1264.2 461.6L1263.6 457L1262.8 452.6L1262.3 448.2L1261.5 443.8L1260.6 439.5L1259.4 435.2L1258.2 431.2L1257 426.5L1255.4 421.1L1252 414.8L1246.5 409.1L1241.4 406.6L1236.8 405.1L1232.2 404L1227.6 402.9L1223.1 401.9L1218.9 400.9L1215.2 399.9L1211.9 398.7L1208.8 397.1L1205.7 395.2L1202.6 393.1L1199.5 390.8L1196.4 388.5L1193.3 386L1190.1 383.4L1186.9 380.9L1183.8 378.3L1180.6 375.7L1177.6 373.1L1174.5 370.4L1171.6 367.8L1168.7 365.1L1166.1 362.5L1163.6 360L1160.5 356.5L1157.5 352.9L1154.8 349.4L1152.3 345.9L1150 342.5L1148.2 339.6L1146.3 335.4L1145.1 331.2L1143.6 326.2L1140.8 320.7L1136.5 315.6L1131.8 311.4L1127.7 308L1125 305.7" class="e" stroke="#1a1614" stroke-width="3.1"/>
<path d="M1258.9 437.1C1259.4 439.5 1260.9 446.3 1262.2 451.5C1263.6 456.7 1265.1 463.8 1267 468.3C1269 472.9 1272.2 476.1 1273.8 478.9C1275.4 481.7 1275 481.4 1276.6 484.9C1278.3 488.4 1281.6 495.7 1283.6 499.8C1285.6 503.9 1287.4 506.1 1288.5 509.7C1289.6 513.2 1290 517.3 1290.1 521.2C1290.2 525.1 1289.9 528.8 1289.1 533.2C1288.3 537.6 1285.9 545.2 1285.3 547.7M1263.2 430.8C1265.7 433.6 1274.2 442.3 1278.1 447.2C1282 452.1 1283.4 455.5 1286.5 460.2C1289.6 464.8 1293.3 469.6 1296.4 475.1C1299.6 480.5 1303 487.1 1305.4 492.8C1307.9 498.6 1309.9 504.9 1311.2 509.7C1312.4 514.4 1312.7 517.3 1312.8 521.2C1312.9 525.1 1312.6 528.8 1311.6 533.2C1310.7 537.6 1308 545.2 1307.3 547.7" class="e" stroke="#1a1614" stroke-width="3.1"/>
<use href="#p9" fill="#d05535"/>
<use href="#p10" fill="#d05535"/>
<use href="#p11" fill="#d05535"/>
<use href="#p12" fill="#d05535"/>
<use href="#p13" fill="#d05535"/>
<use href="#p14" fill="#d05535"/>
<use href="#p15" fill="#d05535"/>
<use href="#p16" fill="#d05535"/>
<use href="#p17" fill="#d05535"/>
<use href="#p18" fill="#d05535"/>
<use href="#p19" fill="#d05535"/>
<use href="#p20" fill="#d05535"/>
<use href="#p21" fill="#d05535"/>
<defs><path id="p34" d="M1029 186.6C1027.2 186.9 1021.4 186.8 1018.3 188.6C1015.2 190.4 1012.8 194.1 1010.5 197.5C1008.2 200.9 1007 205.1 1004.7 209.2C1002.5 213.2 999.9 217.9 997 221.8C994.1 225.7 990.9 228.9 987.2 232.5C983.5 236.1 979.1 239.6 974.6 243.2C970.1 246.8 964.4 250.8 960 253.9C955.6 257 951.7 259.1 948 262C944.3 264.9 939.7 269.5 938 271L1093 273C1091.5 270.8 1086.6 264.2 1084 260C1081.4 255.8 1079.8 251.9 1077.6 248C1075.4 244.1 1072.9 240.5 1070.8 236.4C1068.7 232.3 1067 227.8 1065 223.7C1063 219.6 1061 215.7 1059 212C1057 208.3 1055.2 204.6 1053.3 201.4C1051.4 198.2 1049.9 194.9 1047.5 192.6C1045.1 190.3 1042.1 188.5 1039 187.5C1035.9 186.5 1030.7 186.8 1029 186.6Z"/><path id="p35" d="M1027.2 187.5L1024.3 189.6L1019.9 193L1015.2 197.7L1012.8 200.9L1010.5 204.2L1008.2 207.7L1006 211.2L1003.6 214.6L1001.3 217.8L998.7 220.9L996 224L993.2 227.1L990.4 230.2L987.5 233.1L984.7 236L981.4 239.2L978 242.3L974.7 245.3L971.3 248.2L968 251L964.7 253.6L961.4 256.1L958.1 258.6L954.8 261.2L951.5 263.8L947.6 267L943.8 270.2L940.1 273.4L936.3 276.6L933.1 279.2L929.6 281.8L926 284.5L922.4 287.5L918.9 290.7L915.5 294L912.3 297.4L909.1 301L906.1 304.7L903.2 308.4L900.5 312.3L897.8 316.2L895.4 320.3L893.1 324.3L890.9 328.3L889 332.4L887.2 336.4L885.7 340.5L884.2 344.4L883 348.5L881.8 353.4L881.1 357.9L880.5 362.2L879.4 366.7L878.3 370.5L877 374.5L875.5 378.6L873.7 383L871.2 388L869.6 391.1L867.8 394.5L865.9 398L863.9 401.6L861.7 405.2L859.4 408.9L857.1 412.6L854.6 416.1L852 419.6L849.5 422.6L846.8 425.6L844 428.6L841 431.7L838 434.7L834.9 437.7L831.7 440.7L828.6 443.6L825.5 446.4L822.5 449.2L819.2 452.2L815.8 455.1L812.4 458L808.9 460.9L805.5 463.6L802.2 466.4L798.9 469L795.7 471.6L792.6 474.2L788.8 477.4L785 480.7L781.3 483.8L777.8 486.8L774.6 489.6L771.7 492.2L769.2 494.7L765.5 500L764.6 503.2L764.6 505L765.6 506.5L767.2 507.4L769 507.4L770.5 506.4L771.4 504.8L771.7 503.5L774.8 499.3L776.7 497.5L779.4 495.1L782.5 492.4L786 489.4L789.7 486.2L793.5 483L797.4 479.8L800.4 477.3L803.5 474.7L806.8 472.1L810.2 469.4L813.6 466.6L817.1 463.7L820.6 460.8L824.1 457.8L827.5 454.8L830.6 452L833.7 449.1L836.9 446.2L840.1 443.2L843.3 440.2L846.4 437.1L849.5 434L852.5 430.8L855.3 427.6L858 424.4L860.9 420.8L863.6 417.1L866.2 413.3L868.6 409.5L870.9 405.7L873.1 402L875.1 398.5L877 395.1L878.8 392L881.5 386.8L883.7 382L885.6 377.6L887.1 373.5L888.6 369.3L890 364.3L891 359.7L891.8 355.6L893 351.5L894.3 348.1L895.8 344.5L897.4 340.9L899.2 337.3L901.1 333.7L903.1 330L905.4 326.3L907.7 322.7L910.2 319.1L912.8 315.6L915.5 312.2L918.2 308.8L921.1 305.5L924.1 302.4L927.1 299.3L930.2 296.5L933.5 293.7L936.9 291L940.3 288.2L943.7 285.4L947.6 282L951.3 278.7L954.8 275.4L958.5 272.2L961.6 269.7L964.7 267.2L968 264.6L971.4 261.9L974.8 259L978.2 256.1L981.6 253.2L985.1 250.1L988.6 246.8L992.1 243.4L995 240.5L998 237.4L1001 234.2L1003.9 230.9L1006.8 227.6L1009.5 224.2L1012.2 220.6L1014.6 216.9L1016.9 213.2L1019 209.7L1021 206.7L1022.8 204.3L1026.6 200.1L1030.2 196.8L1032.8 194.5Z"/><path id="p36" d="M1026.7 189.5L1025.3 193.2L1023.3 198.5L1021.1 204.4L1019.8 208.3L1018.6 212.4L1017.4 216.4L1016 220.1L1014.4 223.5L1012.4 226.7L1009.9 229.9L1007.2 233.1L1004.3 236.4L1001.5 239.4L998.2 243L994.9 246.2L991.5 249.5L988 253L985.1 256L982 259.2L978.9 262.4L976 265.7L973.4 268.9L970.6 273.3L968.7 277.6L967.2 282.6L966.2 286.6L965.4 291L964.6 295.6L963.9 300.4L963.2 305.2L962.8 309.3L962.4 313.8L961.9 318.3L961.5 322.8L961.2 327.1L961 331.2L961 336.5L961.3 341.1L961.6 345.3L961.8 349.8L961.7 353.8L961.7 357.9L961.5 362L961.2 366.4L960.6 371.2L959.8 375L958.9 379.3L957.8 383.9L956.6 388.5L955.4 393L954.2 397.2L953.2 400.8L951.6 405.9L950.3 409.9L948.9 413.4L947.1 417.1L945.1 420.3L942.8 423.5L940.3 426.8L937.8 430L935.4 433.1L932.8 436.6L930.3 439.9L927.9 442.9L925.6 445.8L922.7 449.2L919.9 452.3L916.9 455.7L914.2 458.5L911.4 461.5L908.4 464.6L905.5 467.9L902.7 471.3L899.8 474.9L897.2 478.4L894.8 481.6L892.1 485.4L889.8 488.9L887.9 491.9L885.6 495.7L884.2 498.3L883.7 500L884.1 501.8L885.4 503.1L887.1 503.6L888.9 503.1L890.2 501.9L891.7 499.4L894.1 495.8L896 492.8L898.1 489.5L900.7 485.8L903 482.8L905.6 479.4L908.3 475.9L911.1 472.6L913.8 469.5L916.7 466.5L919.5 463.5L922.2 460.6L925.4 457.2L928.2 454L931.2 450.5L933.7 447.5L936.1 444.3L938.6 441L941.3 437.5L943.6 434.5L946.1 431.2L948.7 427.8L951.2 424.3L953.4 420.7L955.6 416.6L957.4 412.7L959.1 408.4L960.8 403.2L962 399.5L963.3 395.3L964.7 390.8L966.1 386.1L967.3 381.4L968.5 377L969.4 372.8L970.4 367.7L971.1 362.9L971.6 358.5L971.9 354.3L972.2 350.2L972.5 345.3L972.6 340.8L972.7 336.6L973 331.8L973.3 328.1L973.8 324L974.4 319.7L974.9 315.2L975.6 310.9L976.2 306.8L976.6 302L977.1 297.3L977.7 292.8L978.2 288.8L978.8 285.4L979.8 281.2L980.7 278.5L982.6 275.1L984.4 272.6L986.9 269.7L989.8 266.5L992.7 263.4L995.6 260.4L998.9 257L1002.3 253.7L1005.8 250.3L1009.3 246.6L1012.1 243.4L1015.1 240L1018.1 236.5L1021 232.6L1023.6 228.5L1025.6 224.1L1027.2 219.6L1028.4 215.2L1029.5 211.1L1030.5 207.6L1032.4 201.7L1034.1 196.2L1035.3 192.5Z"/><path id="p37" d="M1026.5 191.4L1026.7 194.3L1027 198.3L1027.3 203L1027.6 207.8L1027.6 212.6L1027.6 216.6L1027.5 220.9L1027.3 225.3L1027 229.5L1026.6 233.4L1025.9 236.6L1024.5 240.7L1022.4 244.4L1019.9 248.4L1017.6 252.9L1015.7 257.6L1014.1 262.2L1012.8 266.7L1011.6 270.7L1010.5 275L1009.9 279.1L1009.6 284L1009.6 287.9L1009.7 292.3L1009.9 297L1010.3 301.9L1010.9 306.9L1011.6 311.2L1012.5 315.7L1013.5 320.2L1014.6 324.7L1015.6 328.9L1016.6 332.9L1018 337.9L1019.4 342.2L1020.7 346.2L1021.8 351L1022.6 354.6L1023.4 358.5L1024.1 362.6L1024.8 367L1025.3 371.8L1025.8 377.2L1025.9 380.7L1026 384.8L1026 389.2L1026 393.8L1026 398.5L1025.9 403.1L1025.8 407.5L1025.7 411.7L1025.5 415.4L1025.4 418.5L1024.9 424.2L1024.3 427.7L1023.6 430.6L1022.5 434.3L1021.4 437.9L1020.2 441.6L1018.8 445.4L1017.3 449.1L1015.8 452.5L1013.7 456.5L1011.3 460.3L1008.8 464L1006.5 467.6L1004 471.9L1001.7 475.9L999.8 480.2L998.5 484.9L997.8 489.4L997.3 493.5L997.1 498.9L997.1 502.8L996.9 504.5L996.8 505.4L996.7 507.2L997.7 508.8L999.2 509.7L1001 509.7L1002.6 508.8L1003.5 507.2L1003.9 505.8L1004.4 503.1L1004.4 499L1004.6 494.1L1005 490.4L1005.7 486.4L1006.7 482.7L1008.2 479.2L1010.3 475.6L1012.7 471.4L1014.9 468L1017.4 464.3L1020 460.2L1022.3 455.8L1024 452L1025.6 448L1027.1 444L1028.4 440.1L1029.5 436.3L1030.6 432.6L1031.5 429.2L1032.1 425.1L1032.7 419.1L1033 415.8L1033.2 412L1033.4 407.8L1033.7 403.3L1033.9 398.7L1034 393.9L1034.1 389.3L1034.2 384.8L1034.3 380.6L1034.2 376.8L1034.2 371.3L1033.9 366.2L1033.6 361.5L1033.1 357.1L1032.7 353L1032.2 349L1031.3 343.7L1030.3 339.2L1029.2 334.9L1028.2 330.1L1027.5 326.3L1026.6 322.1L1025.8 317.7L1025 313.3L1024.3 309L1023.7 305.1L1023.1 300.5L1022.5 295.9L1022.1 291.5L1021.8 287.5L1021.6 284L1021.5 279.8L1021.7 277L1022.4 273.3L1023.2 269.5L1024.4 265.4L1025.7 261.2L1027.2 257.1L1029.1 253.5L1031.5 249.7L1034.1 245L1036.1 239.4L1036.9 234.9L1037.3 230.4L1037.6 225.8L1037.6 221.1L1037.6 216.6L1037.6 212.4L1037.4 207.4L1036.9 202.2L1036.4 197.4L1035.8 193.4L1035.5 190.6Z"/><path id="p38" d="M1026.6 192L1027.1 194.7L1027.9 198.6L1028.8 203.2L1029.8 208.3L1030.8 213.3L1031.9 218.1L1032.9 222.3L1034.3 227.2L1035.7 231.7L1037 235.7L1038.3 239.4L1039.5 243.1L1041 247.5L1042.4 251.7L1043.6 255.6L1044.4 259.4L1044.9 263.2L1045.1 267.3L1045.3 271.5L1045.5 275.5L1045.8 279.6L1046.2 283.2L1047.1 288.5L1047.8 291.9L1048.7 295.8L1049.7 300L1050.7 304.5L1051.8 309L1052.9 313.5L1054 317.7L1055.4 322.3L1056.9 326.9L1058.4 331.4L1059.9 335.7L1061.3 339.8L1062.5 343.6L1064.1 348.6L1065.5 352.7L1066.8 356.9L1068.1 362L1068.8 365.3L1069.3 369.1L1069.8 373.2L1070.4 377.7L1071.2 382.3L1072.4 386.9L1074 391.6L1076 395.6L1078.4 399.7L1081 403.6L1083.8 407.5L1086.5 411.2L1088.9 414.7L1091.1 417.8L1092.6 420.4L1094.6 424.9L1095.5 428.3L1096 431.7L1096.8 435.9L1097.7 439.8L1098.6 443.9L1099.5 448.1L1100.3 452.1L1100.8 455.6L1101.4 460.8L1101.7 465.3L1101.6 469.8L1101.1 474.6L1100.3 479.6L1099.4 484.1L1098 490.1L1096.8 494.8L1096.4 497.8L1096.3 499.4L1096.3 500.6L1096.9 501.8L1098 502.5L1099.3 502.5L1100.4 501.9L1101.1 500.8L1101.9 499.4L1103.1 496.6L1104.7 491.9L1106.5 485.7L1107.4 480.9L1108.3 475.6L1108.9 470.2L1109 465.2L1108.7 460.2L1108.1 454.7L1107.5 450.8L1106.7 446.6L1105.8 442.4L1104.9 438.2L1104 434.4L1103.3 430.5L1102.7 426.8L1101.6 422.4L1099.4 417.2L1097.6 413.8L1095.4 410.3L1092.9 406.7L1090.3 402.9L1087.8 399.1L1085.4 395.4L1083.4 391.8L1082 388.4L1080.8 384.6L1080 380.6L1079.5 376.5L1079.1 372.2L1078.8 368.1L1078.4 363.9L1077.9 360L1076.9 354.5L1075.9 349.9L1074.8 345.5L1073.5 340.4L1072.4 336.4L1071.2 332.2L1069.8 327.8L1068.5 323.3L1067.2 318.8L1066 314.3L1064.9 310.3L1063.8 306L1062.6 301.6L1061.5 297.2L1060.5 293L1059.6 289.2L1058.9 286.1L1057.7 281.1L1057.1 278.1L1056.5 274.5L1056.1 270.8L1055.9 266.7L1055.5 262.1L1054.8 257.4L1053.7 252.9L1052.4 248.6L1051 244.3L1049.5 239.7L1048.2 236L1046.7 232.2L1045.3 228.4L1043.9 224.3L1042.5 219.7L1041.5 215.8L1040.3 211.2L1039.1 206.2L1038 201.3L1037 196.7L1036.1 192.8L1035.4 190Z"/><path id="p39" d="M1028.5 194.7L1030.9 196.5L1034.2 198.7L1037.9 201.4L1041.4 204.3L1044.2 207.3L1046 209.9L1047.8 213.1L1049.6 216.8L1051.4 220.6L1053.2 224.6L1055.2 228.5L1057.6 232.9L1060.1 237.2L1062.5 241.4L1064.9 245.5L1067.3 249.3L1070.1 253.7L1072.8 257.7L1075.2 261.3L1077.2 264.5L1079.2 268.7L1080.8 272.7L1082.4 277.1L1083.6 280.5L1084.7 284.2L1086.3 288.6L1088.7 293.7L1090.7 297.1L1092.9 300.5L1095.3 304.1L1097.9 307.8L1100.5 311.4L1103 315L1105.4 318.5L1107.7 321.9L1110 325.3L1112.2 328.7L1114.5 332.1L1116.9 335.6L1119.3 339.1L1121.9 342.8L1124.2 346.1L1126.6 349.5L1129.1 353L1131.6 356.5L1134.2 360.1L1136.9 363.6L1139.5 367.2L1142.2 370.6L1144.7 373.9L1147.2 377.1L1149.6 380.4L1152.1 383.7L1154.9 387L1157.9 390.4L1161.2 393.7L1165 397L1168.2 399.5L1171.8 402L1175.7 404.5L1179.8 407L1184 409.4L1188.1 411.8L1192 414.1L1195.7 416.3L1198.9 418.3L1201.6 420.2L1203 421.1L1206.5 426.1L1206.2 430.7L1208 436L1209.9 441.1L1211.5 446.1L1212.8 450.9L1214 455.8L1214.9 460.6L1215.7 465.3L1216.2 469.9L1216.4 475.1L1216.4 479.7L1216.2 484.8L1215.9 489.8L1215.4 494.4L1214.5 499.7L1213.3 504.5L1212 508.7L1210 514.5L1208.1 519.1L1206.7 522.1L1205.8 523.9L1205.4 524.9L1205.6 526L1206.4 526.9L1207.4 527.2L1208.5 527L1209.4 526.3L1210.8 524.5L1212.8 521.4L1215.1 516.6L1217.5 510.6L1218.9 506L1220.1 500.8L1221.1 495.2L1221.6 490.3L1222 485.1L1222.1 479.8L1222.1 475L1221.9 469.5L1221.4 464.6L1220.6 459.7L1219.6 454.6L1218.4 449.5L1217 444.4L1215.5 439.2L1213.8 434.1L1212.4 430L1213.2 424.3L1209.2 416.5L1206.1 413.9L1203.1 411.9L1199.7 409.7L1195.9 407.5L1192 405.2L1187.9 402.8L1183.8 400.3L1179.8 397.9L1176.1 395.5L1172.8 393.2L1170 391L1166.7 388L1163.7 384.9L1161 381.8L1158.6 378.7L1156.2 375.5L1153.9 372.2L1151.5 368.9L1149 365.4L1146.5 362L1144.1 358.5L1141.6 354.9L1139.2 351.3L1136.9 347.7L1134.6 344.1L1132.3 340.6L1130.1 337.2L1127.7 333.5L1125.5 329.9L1123.3 326.4L1121.1 323L1119 319.5L1116.8 316L1114.6 312.5L1112.3 308.8L1109.8 305.1L1107.3 301.3L1105 297.7L1102.8 294.2L1100.8 291L1099.3 288.3L1097.3 284L1096.1 280.4L1095 276.7L1093.6 272.9L1091.5 268.2L1089.4 263.8L1086.8 259.1L1084.3 255.2L1081.6 251.5L1078.9 247.8L1076.1 243.7L1073.9 240.1L1071.6 236.1L1069.2 231.9L1066.8 227.7L1064.4 223.5L1062.6 220L1060.7 216.2L1058.8 212.3L1056.8 208.3L1054.5 204.4L1051.8 200.7L1047.9 197L1043.6 193.7L1039.4 190.9L1035.9 188.8L1033.5 187.3Z"/><path id="p40" d="M1208.4 422.9L1210.4 425.8L1213.2 429.9L1216.5 434.2L1220.2 438L1224 441.5L1227.3 445.2L1230 449.2L1232.3 453.5L1233.9 458.1L1234.7 462L1235 466.4L1235.1 470.8L1234.8 474.6L1234 478.9L1232.6 482.6L1230.8 486.1L1228.8 489.4L1226.3 492.5L1224 495.2L1221 498.6L1218.8 500.9L1218.1 502.2L1218.1 503.8L1218.9 505.1L1220.3 505.9L1221.8 505.8L1223.2 505L1225.4 502.7L1228.5 499.1L1231 496.3L1233.7 492.9L1236.1 489L1238.1 485L1239.7 480.5L1240.8 475.5L1241.1 471L1241 466.1L1240.6 461.2L1239.7 456.5L1237.8 451L1235.1 446.1L1232 441.5L1228.3 437.3L1224.4 433.7L1221.1 430.3L1218.1 426.4L1215.3 422.4L1213.4 419.5Z"/><path id="p41" d="M1029.4 195.2L1031.9 196.3L1035.5 197.6L1039.6 199.2L1043.6 201L1047.2 202.9L1049.7 204.7L1051.8 207.2L1053.7 210.3L1055.4 214.1L1057.2 218.3L1059.4 222.6L1061.9 226.7L1064.3 230.7L1066.8 234.8L1069.2 238.8L1071.5 242.6L1073.5 246.3L1075.4 250L1077.4 253.7L1079.3 257.3L1081.3 260.8L1083.7 264.8L1086 268.6L1088.6 272.4L1091.7 276.4L1094.5 279.8L1097.5 283.4L1100.8 287.2L1104.5 290.9L1108.6 294.3L1112.5 297L1116.5 299.3L1120.6 301.5L1124.6 303.6L1128.6 305.6L1132.5 307.6L1136.4 309.7L1140.3 311.7L1144.1 313.6L1147.9 315.6L1151.5 317.8L1155.1 320.1L1158.2 322.3L1161.4 324.7L1164.5 327.2L1167.6 329.8L1170.7 332.5L1173.8 335.3L1176.8 338.2L1179.7 341.1L1182.6 344.2L1185.4 347.4L1188.2 350.7L1191 354L1193.9 357.4L1196.8 360.7L1199.6 364.1L1202.5 367.5L1205.4 370.9L1208.3 374.3L1211.2 377.8L1214.1 381.2L1216.9 384.6L1219.8 388L1222.7 391.4L1225.7 394.9L1228.6 398.3L1231.6 401.7L1234.5 404.8L1237.5 407.8L1241.6 411.3L1245.8 414.2L1249.8 416.8L1253.2 419.1L1256 421.3L1259.5 424.9L1262 428.2L1264.3 432L1266 435.3L1267.5 438.8L1268.8 442.5L1269.9 446.1L1271 450.8L1271.6 455.5L1271.8 460.1L1271.5 464.8L1270.8 469.5L1269.9 474.4L1268.8 479.2L1267.4 484.1L1266 489L1264.5 493.8L1262.9 498.6L1261.1 503.5L1259.4 507.1L1257.4 510.9L1255.2 515L1253 519.8L1251.4 523.2L1249.7 526.8L1248 530.7L1246.3 534.8L1244.6 539.2L1243 544L1241.9 547.9L1240.8 552.1L1239.7 556.4L1238.7 560.9L1237.7 565.4L1236.8 569.8L1235.9 574.1L1235 578.2L1234 582.5L1233 586.7L1232.1 590.8L1231.2 594.9L1230.3 598.9L1229.6 603.1L1228.9 607.3L1228.4 611.7L1227.9 616.2L1227.6 620.8L1227.3 625.3L1227 629.7L1226.8 633.7L1226.6 637.3L1226.5 642.8L1226.6 647.5L1226.7 651.6L1226.9 655.5L1227.4 660.7L1227.9 665.2L1228.4 668.3L1228.5 668.7L1228.8 668.9L1229.1 669L1229.5 669L1229.8 668.7L1229.9 668.3L1230.6 665.3L1231.4 660.8L1232.2 655.7L1232.6 651.9L1233.1 647.8L1233.6 643.2L1234.2 637.8L1234.4 634.1L1234.6 630.1L1234.8 625.8L1235 621.3L1235.3 616.8L1235.6 612.4L1236.1 608.2L1236.6 604.2L1237.3 600.2L1238 596.3L1238.8 592.3L1239.7 588.2L1240.6 584L1241.5 579.6L1242.4 575.5L1243.3 571.3L1244.3 566.8L1245.3 562.4L1246.3 558L1247.3 553.7L1248.4 549.7L1249.4 546L1250.9 541.5L1252.5 537.3L1254.2 533.4L1255.9 529.6L1257.5 526L1259.1 522.6L1261.2 518L1263.4 514L1265.4 510.1L1267.3 506.1L1269.3 500.8L1270.9 495.9L1272.4 490.9L1273.9 485.9L1275.3 480.8L1276.5 475.8L1277.5 470.7L1278.2 465.5L1278.6 460.2L1278.3 454.9L1277.6 449.6L1276.4 444.4L1275.2 440.4L1273.8 436.3L1272.1 432.4L1270.2 428.7L1267.6 424.5L1264.6 420.5L1260.6 416.4L1257.3 413.6L1253.7 411L1250 408.4L1246.2 405.5L1242.5 402.2L1240 399.6L1237.3 396.6L1234.5 393.3L1231.6 389.9L1228.8 386.4L1225.9 382.9L1223.1 379.4L1220.2 376L1217.4 372.6L1214.6 369.1L1211.8 365.6L1208.9 362.1L1206.1 358.7L1203.2 355.3L1200.4 351.9L1197.7 348.5L1194.9 345.1L1192 341.7L1189.2 338.3L1186.2 335L1183.2 331.8L1180.1 328.7L1177 325.7L1173.9 322.7L1170.7 319.9L1167.5 317.1L1164.2 314.4L1160.9 311.9L1156.9 309.2L1152.9 306.8L1149 304.6L1145.1 302.5L1141.3 300.5L1137.5 298.4L1133.6 296.2L1129.5 294.1L1125.6 292L1121.8 289.9L1118.4 287.8L1115.4 285.7L1112 282.8L1108.8 279.6L1105.8 276.2L1103 272.8L1100.3 269.6L1097.5 266L1095.2 262.6L1093.1 259L1090.7 255.2L1088.8 251.9L1086.8 248.5L1084.8 244.9L1082.8 241.2L1080.5 237.4L1078.2 233.4L1075.8 229.4L1073.3 225.3L1070.9 221.3L1068.6 217.4L1066.6 213.7L1064.7 209.7L1062.6 205.5L1059.9 201.2L1056.3 197.3L1052.2 194.5L1047.7 192.2L1043.1 190.4L1038.7 188.9L1035.1 187.7L1032.6 186.8Z"/><path id="p42" d="M1147.9 317L1149.6 317.8L1153.2 318.9L1161.8 319.5L1164.7 319.5L1167.8 319.5L1171.3 319.5L1175.1 319.5L1179.2 319.5L1183.5 319.4L1188 319.4L1192.6 319.3L1197.3 319.2L1202.1 319.1L1206.8 319L1211.6 318.9L1216.2 318.8L1220.8 318.6L1225.2 318.5L1229.2 318.3L1233.4 318.1L1237.6 317.9L1241.9 317.7L1246.2 317.5L1250.6 317.2L1254.9 317L1259.2 316.7L1263.4 316.5L1267.6 316.2L1271.7 316L1275.7 315.7L1279.6 315.4L1283.3 315.2L1286.9 315L1290.3 314.7L1295.3 314.3L1300.1 313.8L1304.5 313.3L1308.6 312.8L1312.5 312.3L1316.2 311.8L1319.8 311.4L1323.3 311L1326.7 310.6L1330.1 310.2L1334.9 310L1339.4 309.7L1343.7 309.6L1347.8 309.4L1351.8 309.4L1355.8 309.3L1360 309.2L1364.4 309.2L1369.1 309.2L1373.9 309.3L1378.6 309.4L1382.8 309.5L1386.3 309.5L1388.9 309.5L1389.7 309.3L1390.3 308.8L1390.5 308.1L1390.3 307.3L1389.8 306.7L1389.1 306.5L1386.5 306.3L1382.9 306L1378.7 305.7L1374.1 305.4L1369.3 305.2L1364.5 304.9L1360 304.8L1355.9 304.6L1351.8 304.6L1347.7 304.5L1343.6 304.5L1339.3 304.5L1334.7 304.6L1329.9 304.8L1326.3 304.8L1322.8 304.9L1319.3 305L1315.6 305.2L1311.9 305.3L1308 305.5L1303.8 305.7L1299.5 305.9L1294.8 306.1L1289.7 306.3L1286.4 306.5L1282.8 306.7L1279.1 306.9L1275.2 307.1L1271.2 307.3L1267.1 307.5L1262.9 307.8L1258.7 308L1254.4 308.2L1250.1 308.4L1245.8 308.7L1241.5 308.9L1237.2 309L1233 309.2L1228.9 309.4L1224.8 309.5L1220.5 309.6L1216 309.8L1211.3 309.9L1206.6 310L1201.9 310.1L1197.1 310.2L1192.4 310.3L1187.8 310.4L1183.4 310.4L1179.1 310.5L1175.1 310.5L1171.3 310.5L1167.8 310.5L1164.7 310.5L1162.2 310.5L1154.3 310L1152.9 309.4L1152.1 309Z"/><path id="p43" d="M1149.2 287.4L1152 288L1155.7 288.7L1160.1 289.5L1164.9 290.4L1169.9 291.4L1174.9 292.4L1179.5 293.6L1183.5 294.8L1187.7 296.3L1191.6 298L1195.4 299.7L1199.1 301.6L1202.7 303.6L1206.3 305.8L1209.8 308.1L1212.9 310.1L1215.9 312.3L1218.8 314.5L1221.7 316.9L1224.6 319.3L1227.5 322L1230.5 324.7L1233.5 327.7L1236.2 330.4L1239 333.4L1241.9 336.5L1244.8 339.7L1247.7 343.1L1250.5 346.4L1253.4 349.8L1256.1 353.1L1258.8 356.3L1261.8 359.9L1264.7 363.4L1267.5 367L1270.3 370.6L1273 374.1L1275.7 377.5L1278.2 380.9L1280.6 384.1L1283.6 388.1L1286.4 391.9L1289.1 395.6L1291.7 399.1L1294.2 402.6L1296.8 406.1L1300 409.9L1303 413.2L1305.7 416.2L1308.1 419.1L1310.1 422.1L1312.1 425.9L1314.1 430.5L1316 435.2L1317.6 439.4L1318.8 442.5L1330.4 438L1329.4 435.1L1327.9 430.8L1326 425.7L1323.8 420.4L1321.3 415.5L1318.6 411.4L1315.7 407.8L1312.8 404.5L1310 401.3L1307.2 397.9L1304.9 394.8L1302.5 391.4L1300 387.8L1297.3 384.1L1294.5 380.1L1291.4 375.9L1288.9 372.7L1286.4 369.3L1283.7 365.9L1281 362.3L1278.1 358.7L1275.2 355L1272.2 351.3L1269.2 347.7L1266.4 344.4L1263.6 341.1L1260.7 337.7L1257.7 334.3L1254.6 330.9L1251.6 327.6L1248.5 324.4L1245.5 321.2L1242.5 318.3L1239.2 315.3L1236 312.4L1232.8 309.7L1229.5 307.1L1226.3 304.7L1223 302.3L1219.6 300.1L1216.2 297.9L1212.2 295.7L1208.1 293.6L1204 291.6L1199.9 289.8L1195.6 288.2L1191.1 286.6L1186.5 285.2L1182 284L1177 282.9L1171.8 281.9L1166.6 281L1161.6 280.2L1157.2 279.6L1153.5 279L1150.8 278.6Z"/></defs>
<path d="M1029 186.6C1027.2 186.9 1021.4 186.8 1018.3 188.6C1015.2 190.4 1012.8 194.1 1010.5 197.5C1008.2 200.9 1007 205.1 1004.7 209.2C1002.5 213.2 999.9 217.9 997 221.8C994.1 225.7 990.9 228.9 987.2 232.5C983.5 236.1 979.1 239.6 974.6 243.2C970.1 246.8 964.4 250.8 960 253.9C955.6 257 951.7 259.1 948 262C944.3 264.9 939.7 269.5 938 271M1029 186.6C1030.7 186.8 1035.9 186.5 1039 187.5C1042.1 188.5 1045.1 190.3 1047.5 192.6C1049.9 194.9 1051.4 198.2 1053.3 201.4C1055.2 204.6 1057 208.3 1059 212C1061 215.7 1063 219.6 1065 223.7C1067 227.8 1068.7 232.3 1070.8 236.4C1072.9 240.5 1075.4 244.1 1077.6 248C1079.8 251.9 1081.4 255.8 1084 260C1086.6 264.2 1091.5 270.8 1093 273" class="e" stroke="#1a1614" stroke-width="3.1"/>
<path d="M1027.2 187.5L1024.3 189.6L1019.9 193L1015.2 197.7L1012.8 200.9L1010.5 204.2L1008.2 207.7L1006 211.2L1003.6 214.6L1001.3 217.8L998.7 220.9L996 224L993.2 227.1L990.4 230.2L987.5 233.1L984.7 236L981.4 239.2L978 242.3L974.7 245.3L971.3 248.2L968 251L964.7 253.6L961.4 256.1L958.1 258.6L954.8 261.2L951.5 263.8L947.6 267L943.8 270.2L940.1 273.4L936.3 276.6L933.1 279.2L929.6 281.8L926 284.5L922.4 287.5L918.9 290.7L915.5 294L912.3 297.4L909.1 301L906.1 304.7L903.2 308.4L900.5 312.3L897.8 316.2L895.4 320.3L893.1 324.3L890.9 328.3L889 332.4L887.2 336.4L885.7 340.5L884.2 344.4L883 348.5L881.8 353.4L881.1 357.9L880.5 362.2L879.4 366.7L878.3 370.5L877 374.5L875.5 378.6L873.7 383L871.2 388L869.6 391.1L867.8 394.5L865.9 398L863.9 401.6L861.7 405.2L859.4 408.9L857.1 412.6L854.6 416.1L852 419.6L849.5 422.6L846.8 425.6L844 428.6L841 431.7L838 434.7L834.9 437.7L831.7 440.7L828.6 443.6L825.5 446.4L822.5 449.2L819.2 452.2L815.8 455.1L812.4 458L808.9 460.9L805.5 463.6L802.2 466.4L798.9 469L795.7 471.6L792.6 474.2L788.8 477.4L785 480.7L781.3 483.8L777.8 486.8L774.6 489.6L771.7 492.2L769.2 494.7L765.5 500L764.6 503.2L764.6 505L765.6 506.5L767.2 507.4L769 507.4L770.5 506.4L771.4 504.8L771.7 503.5L774.8 499.3L776.7 497.5L779.4 495.1L782.5 492.4L786 489.4L789.7 486.2L793.5 483L797.4 479.8L800.4 477.3L803.5 474.7L806.8 472.1L810.2 469.4L813.6 466.6L817.1 463.7L820.6 460.8L824.1 457.8L827.5 454.8L830.6 452L833.7 449.1L836.9 446.2L840.1 443.2L843.3 440.2L846.4 437.1L849.5 434L852.5 430.8L855.3 427.6L858 424.4L860.9 420.8L863.6 417.1L866.2 413.3L868.6 409.5L870.9 405.7L873.1 402L875.1 398.5L877 395.1L878.8 392L881.5 386.8L883.7 382L885.6 377.6L887.1 373.5L888.6 369.3L890 364.3L891 359.7L891.8 355.6L893 351.5L894.3 348.1L895.8 344.5L897.4 340.9L899.2 337.3L901.1 333.7L903.1 330L905.4 326.3L907.7 322.7L910.2 319.1L912.8 315.6L915.5 312.2L918.2 308.8L921.1 305.5L924.1 302.4L927.1 299.3L930.2 296.5L933.5 293.7L936.9 291L940.3 288.2L943.7 285.4L947.6 282L951.3 278.7L954.8 275.4L958.5 272.2L961.6 269.7L964.7 267.2L968 264.6L971.4 261.9L974.8 259L978.2 256.1L981.6 253.2L985.1 250.1L988.6 246.8L992.1 243.4L995 240.5L998 237.4L1001 234.2L1003.9 230.9L1006.8 227.6L1009.5 224.2L1012.2 220.6L1014.6 216.9L1016.9 213.2L1019 209.7L1021 206.7L1022.8 204.3L1026.6 200.1L1030.2 196.8L1032.8 194.5" class="e" stroke="#1a1614" stroke-width="3.1"/>
<path d="M1026.7 189.5L1025.3 193.2L1023.3 198.5L1021.1 204.4L1019.8 208.3L1018.6 212.4L1017.4 216.4L1016 220.1L1014.4 223.5L1012.4 226.7L1009.9 229.9L1007.2 233.1L1004.3 236.4L1001.5 239.4L998.2 243L994.9 246.2L991.5 249.5L988 253L985.1 256L982 259.2L978.9 262.4L976 265.7L973.4 268.9L970.6 273.3L968.7 277.6L967.2 282.6L966.2 286.6L965.4 291L964.6 295.6L963.9 300.4L963.2 305.2L962.8 309.3L962.4 313.8L961.9 318.3L961.5 322.8L961.2 327.1L961 331.2L961 336.5L961.3 341.1L961.6 345.3L961.8 349.8L961.7 353.8L961.7 357.9L961.5 362L961.2 366.4L960.6 371.2L959.8 375L958.9 379.3L957.8 383.9L956.6 388.5L955.4 393L954.2 397.2L953.2 400.8L951.6 405.9L950.3 409.9L948.9 413.4L947.1 417.1L945.1 420.3L942.8 423.5L940.3 426.8L937.8 430L935.4 433.1L932.8 436.6L930.3 439.9L927.9 442.9L925.6 445.8L922.7 449.2L919.9 452.3L916.9 455.7L914.2 458.5L911.4 461.5L908.4 464.6L905.5 467.9L902.7 471.3L899.8 474.9L897.2 478.4L894.8 481.6L892.1 485.4L889.8 488.9L887.9 491.9L885.6 495.7L884.2 498.3L883.7 500L884.1 501.8L885.4 503.1L887.1 503.6L888.9 503.1L890.2 501.9L891.7 499.4L894.1 495.8L896 492.8L898.1 489.5L900.7 485.8L903 482.8L905.6 479.4L908.3 475.9L911.1 472.6L913.8 469.5L916.7 466.5L919.5 463.5L922.2 460.6L925.4 457.2L928.2 454L931.2 450.5L933.7 447.5L936.1 444.3L938.6 441L941.3 437.5L943.6 434.5L946.1 431.2L948.7 427.8L951.2 424.3L953.4 420.7L955.6 416.6L957.4 412.7L959.1 408.4L960.8 403.2L962 399.5L963.3 395.3L964.7 390.8L966.1 386.1L967.3 381.4L968.5 377L969.4 372.8L970.4 367.7L971.1 362.9L971.6 358.5L971.9 354.3L972.2 350.2L972.5 345.3L972.6 340.8L972.7 336.6L973 331.8L973.3 328.1L973.8 324L974.4 319.7L974.9 315.2L975.6 310.9L976.2 306.8L976.6 302L977.1 297.3L977.7 292.8L978.2 288.8L978.8 285.4L979.8 281.2L980.7 278.5L982.6 275.1L984.4 272.6L986.9 269.7L989.8 266.5L992.7 263.4L995.6 260.4L998.9 257L1002.3 253.7L1005.8 250.3L1009.3 246.6L1012.1 243.4L1015.1 240L1018.1 236.5L1021 232.6L1023.6 228.5L1025.6 224.1L1027.2 219.6L1028.4 215.2L1029.5 211.1L1030.5 207.6L1032.4 201.7L1034.1 196.2L1035.3 192.5" class="e" stroke="#1a1614" stroke-width="3.1"/>
<path d="M1026.5 191.4L1026.7 194.3L1027 198.3L1027.3 203L1027.6 207.8L1027.6 212.6L1027.6 216.6L1027.5 220.9L1027.3 225.3L1027 229.5L1026.6 233.4L1025.9 236.6L1024.5 240.7L1022.4 244.4L1019.9 248.4L1017.6 252.9L1015.7 257.6L1014.1 262.2L1012.8 266.7L1011.6 270.7L1010.5 275L1009.9 279.1L1009.6 284L1009.6 287.9L1009.7 292.3L1009.9 297L1010.3 301.9L1010.9 306.9L1011.6 311.2L1012.5 315.7L1013.5 320.2L1014.6 324.7L1015.6 328.9L1016.6 332.9L1018 337.9L1019.4 342.2L1020.7 346.2L1021.8 351L1022.6 354.6L1023.4 358.5L1024.1 362.6L1024.8 367L1025.3 371.8L1025.8 377.2L1025.9 380.7L1026 384.8L1026 389.2L1026 393.8L1026 398.5L1025.9 403.1L1025.8 407.5L1025.7 411.7L1025.5 415.4L1025.4 418.5L1024.9 424.2L1024.3 427.7L1023.6 430.6L1022.5 434.3L1021.4 437.9L1020.2 441.6L1018.8 445.4L1017.3 449.1L1015.8 452.5L1013.7 456.5L1011.3 460.3L1008.8 464L1006.5 467.6L1004 471.9L1001.7 475.9L999.8 480.2L998.5 484.9L997.8 489.4L997.3 493.5L997.1 498.9L997.1 502.8L996.9 504.5L996.8 505.4L996.7 507.2L997.7 508.8L999.2 509.7L1001 509.7L1002.6 508.8L1003.5 507.2L1003.9 505.8L1004.4 503.1L1004.4 499L1004.6 494.1L1005 490.4L1005.7 486.4L1006.7 482.7L1008.2 479.2L1010.3 475.6L1012.7 471.4L1014.9 468L1017.4 464.3L1020 460.2L1022.3 455.8L1024 452L1025.6 448L1027.1 444L1028.4 440.1L1029.5 436.3L1030.6 432.6L1031.5 429.2L1032.1 425.1L1032.7 419.1L1033 415.8L1033.2 412L1033.4 407.8L1033.7 403.3L1033.9 398.7L1034 393.9L1034.1 389.3L1034.2 384.8L1034.3 380.6L1034.2 376.8L1034.2 371.3L1033.9 366.2L1033.6 361.5L1033.1 357.1L1032.7 353L1032.2 349L1031.3 343.7L1030.3 339.2L1029.2 334.9L1028.2 330.1L1027.5 326.3L1026.6 322.1L1025.8 317.7L1025 313.3L1024.3 309L1023.7 305.1L1023.1 300.5L1022.5 295.9L1022.1 291.5L1021.8 287.5L1021.6 284L1021.5 279.8L1021.7 277L1022.4 273.3L1023.2 269.5L1024.4 265.4L1025.7 261.2L1027.2 257.1L1029.1 253.5L1031.5 249.7L1034.1 245L1036.1 239.4L1036.9 234.9L1037.3 230.4L1037.6 225.8L1037.6 221.1L1037.6 216.6L1037.6 212.4L1037.4 207.4L1036.9 202.2L1036.4 197.4L1035.8 193.4L1035.5 190.6" class="e" stroke="#1a1614" stroke-width="3.1"/>
<path d="M1026.6 192L1027.1 194.7L1027.9 198.6L1028.8 203.2L1029.8 208.3L1030.8 213.3L1031.9 218.1L1032.9 222.3L1034.3 227.2L1035.7 231.7L1037 235.7L1038.3 239.4L1039.5 243.1L1041 247.5L1042.4 251.7L1043.6 255.6L1044.4 259.4L1044.9 263.2L1045.1 267.3L1045.3 271.5L1045.5 275.5L1045.8 279.6L1046.2 283.2L1047.1 288.5L1047.8 291.9L1048.7 295.8L1049.7 300L1050.7 304.5L1051.8 309L1052.9 313.5L1054 317.7L1055.4 322.3L1056.9 326.9L1058.4 331.4L1059.9 335.7L1061.3 339.8L1062.5 343.6L1064.1 348.6L1065.5 352.7L1066.8 356.9L1068.1 362L1068.8 365.3L1069.3 369.1L1069.8 373.2L1070.4 377.7L1071.2 382.3L1072.4 386.9L1074 391.6L1076 395.6L1078.4 399.7L1081 403.6L1083.8 407.5L1086.5 411.2L1088.9 414.7L1091.1 417.8L1092.6 420.4L1094.6 424.9L1095.5 428.3L1096 431.7L1096.8 435.9L1097.7 439.8L1098.6 443.9L1099.5 448.1L1100.3 452.1L1100.8 455.6L1101.4 460.8L1101.7 465.3L1101.6 469.8L1101.1 474.6L1100.3 479.6L1099.4 484.1L1098 490.1L1096.8 494.8L1096.4 497.8L1096.3 499.4L1096.3 500.6L1096.9 501.8L1098 502.5L1099.3 502.5L1100.4 501.9L1101.1 500.8L1101.9 499.4L1103.1 496.6L1104.7 491.9L1106.5 485.7L1107.4 480.9L1108.3 475.6L1108.9 470.2L1109 465.2L1108.7 460.2L1108.1 454.7L1107.5 450.8L1106.7 446.6L1105.8 442.4L1104.9 438.2L1104 434.4L1103.3 430.5L1102.7 426.8L1101.6 422.4L1099.4 417.2L1097.6 413.8L1095.4 410.3L1092.9 406.7L1090.3 402.9L1087.8 399.1L1085.4 395.4L1083.4 391.8L1082 388.4L1080.8 384.6L1080 380.6L1079.5 376.5L1079.1 372.2L1078.8 368.1L1078.4 363.9L1077.9 360L1076.9 354.5L1075.9 349.9L1074.8 345.5L1073.5 340.4L1072.4 336.4L1071.2 332.2L1069.8 327.8L1068.5 323.3L1067.2 318.8L1066 314.3L1064.9 310.3L1063.8 306L1062.6 301.6L1061.5 297.2L1060.5 293L1059.6 289.2L1058.9 286.1L1057.7 281.1L1057.1 278.1L1056.5 274.5L1056.1 270.8L1055.9 266.7L1055.5 262.1L1054.8 257.4L1053.7 252.9L1052.4 248.6L1051 244.3L1049.5 239.7L1048.2 236L1046.7 232.2L1045.3 228.4L1043.9 224.3L1042.5 219.7L1041.5 215.8L1040.3 211.2L1039.1 206.2L1038 201.3L1037 196.7L1036.1 192.8L1035.4 190" class="e" stroke="#1a1614" stroke-width="3.1"/>
<path d="M1028.5 194.7L1030.9 196.5L1034.2 198.7L1037.9 201.4L1041.4 204.3L1044.2 207.3L1046 209.9L1047.8 213.1L1049.6 216.8L1051.4 220.6L1053.2 224.6L1055.2 228.5L1057.6 232.9L1060.1 237.2L1062.5 241.4L1064.9 245.5L1067.3 249.3L1070.1 253.7L1072.8 257.7L1075.2 261.3L1077.2 264.5L1079.2 268.7L1080.8 272.7L1082.4 277.1L1083.6 280.5L1084.7 284.2L1086.3 288.6L1088.7 293.7L1090.7 297.1L1092.9 300.5L1095.3 304.1L1097.9 307.8L1100.5 311.4L1103 315L1105.4 318.5L1107.7 321.9L1110 325.3L1112.2 328.7L1114.5 332.1L1116.9 335.6L1119.3 339.1L1121.9 342.8L1124.2 346.1L1126.6 349.5L1129.1 353L1131.6 356.5L1134.2 360.1L1136.9 363.6L1139.5 367.2L1142.2 370.6L1144.7 373.9L1147.2 377.1L1149.6 380.4L1152.1 383.7L1154.9 387L1157.9 390.4L1161.2 393.7L1165 397L1168.2 399.5L1171.8 402L1175.7 404.5L1179.8 407L1184 409.4L1188.1 411.8L1192 414.1L1195.7 416.3L1198.9 418.3L1201.6 420.2L1203 421.1L1206.5 426.1L1206.2 430.7L1208 436L1209.9 441.1L1211.5 446.1L1212.8 450.9L1214 455.8L1214.9 460.6L1215.7 465.3L1216.2 469.9L1216.4 475.1L1216.4 479.7L1216.2 484.8L1215.9 489.8L1215.4 494.4L1214.5 499.7L1213.3 504.5L1212 508.7L1210 514.5L1208.1 519.1L1206.7 522.1L1205.8 523.9L1205.4 524.9L1205.6 526L1206.4 526.9L1207.4 527.2L1208.5 527L1209.4 526.3L1210.8 524.5L1212.8 521.4L1215.1 516.6L1217.5 510.6L1218.9 506L1220.1 500.8L1221.1 495.2L1221.6 490.3L1222 485.1L1222.1 479.8L1222.1 475L1221.9 469.5L1221.4 464.6L1220.6 459.7L1219.6 454.6L1218.4 449.5L1217 444.4L1215.5 439.2L1213.8 434.1L1212.4 430L1213.2 424.3L1209.2 416.5L1206.1 413.9L1203.1 411.9L1199.7 409.7L1195.9 407.5L1192 405.2L1187.9 402.8L1183.8 400.3L1179.8 397.9L1176.1 395.5L1172.8 393.2L1170 391L1166.7 388L1163.7 384.9L1161 381.8L1158.6 378.7L1156.2 375.5L1153.9 372.2L1151.5 368.9L1149 365.4L1146.5 362L1144.1 358.5L1141.6 354.9L1139.2 351.3L1136.9 347.7L1134.6 344.1L1132.3 340.6L1130.1 337.2L1127.7 333.5L1125.5 329.9L1123.3 326.4L1121.1 323L1119 319.5L1116.8 316L1114.6 312.5L1112.3 308.8L1109.8 305.1L1107.3 301.3L1105 297.7L1102.8 294.2L1100.8 291L1099.3 288.3L1097.3 284L1096.1 280.4L1095 276.7L1093.6 272.9L1091.5 268.2L1089.4 263.8L1086.8 259.1L1084.3 255.2L1081.6 251.5L1078.9 247.8L1076.1 243.7L1073.9 240.1L1071.6 236.1L1069.2 231.9L1066.8 227.7L1064.4 223.5L1062.6 220L1060.7 216.2L1058.8 212.3L1056.8 208.3L1054.5 204.4L1051.8 200.7L1047.9 197L1043.6 193.7L1039.4 190.9L1035.9 188.8L1033.5 187.3" class="e" stroke="#1a1614" stroke-width="3.1"/>
<path d="M1208.4 422.9L1210.4 425.8L1213.2 429.9L1216.5 434.2L1220.2 438L1224 441.5L1227.3 445.2L1230 449.2L1232.3 453.5L1233.9 458.1L1234.7 462L1235 466.4L1235.1 470.8L1234.8 474.6L1234 478.9L1232.6 482.6L1230.8 486.1L1228.8 489.4L1226.3 492.5L1224 495.2L1221 498.6L1218.8 500.9L1218.1 502.2L1218.1 503.8L1218.9 505.1L1220.3 505.9L1221.8 505.8L1223.2 505L1225.4 502.7L1228.5 499.1L1231 496.3L1233.7 492.9L1236.1 489L1238.1 485L1239.7 480.5L1240.8 475.5L1241.1 471L1241 466.1L1240.6 461.2L1239.7 456.5L1237.8 451L1235.1 446.1L1232 441.5L1228.3 437.3L1224.4 433.7L1221.1 430.3L1218.1 426.4L1215.3 422.4L1213.4 419.5" class="e" stroke="#1a1614" stroke-width="3.1"/>
<path d="M1029.4 195.2L1031.9 196.3L1035.5 197.6L1039.6 199.2L1043.6 201L1047.2 202.9L1049.7 204.7L1051.8 207.2L1053.7 210.3L1055.4 214.1L1057.2 218.3L1059.4 222.6L1061.9 226.7L1064.3 230.7L1066.8 234.8L1069.2 238.8L1071.5 242.6L1073.5 246.3L1075.4 250L1077.4 253.7L1079.3 257.3L1081.3 260.8L1083.7 264.8L1086 268.6L1088.6 272.4L1091.7 276.4L1094.5 279.8L1097.5 283.4L1100.8 287.2L1104.5 290.9L1108.6 294.3L1112.5 297L1116.5 299.3L1120.6 301.5L1124.6 303.6L1128.6 305.6L1132.5 307.6L1136.4 309.7L1140.3 311.7L1144.1 313.6L1147.9 315.6L1151.5 317.8L1155.1 320.1L1158.2 322.3L1161.4 324.7L1164.5 327.2L1167.6 329.8L1170.7 332.5L1173.8 335.3L1176.8 338.2L1179.7 341.1L1182.6 344.2L1185.4 347.4L1188.2 350.7L1191 354L1193.9 357.4L1196.8 360.7L1199.6 364.1L1202.5 367.5L1205.4 370.9L1208.3 374.3L1211.2 377.8L1214.1 381.2L1216.9 384.6L1219.8 388L1222.7 391.4L1225.7 394.9L1228.6 398.3L1231.6 401.7L1234.5 404.8L1237.5 407.8L1241.6 411.3L1245.8 414.2L1249.8 416.8L1253.2 419.1L1256 421.3L1259.5 424.9L1262 428.2L1264.3 432L1266 435.3L1267.5 438.8L1268.8 442.5L1269.9 446.1L1271 450.8L1271.6 455.5L1271.8 460.1L1271.5 464.8L1270.8 469.5L1269.9 474.4L1268.8 479.2L1267.4 484.1L1266 489L1264.5 493.8L1262.9 498.6L1261.1 503.5L1259.4 507.1L1257.4 510.9L1255.2 515L1253 519.8L1251.4 523.2L1249.7 526.8L1248 530.7L1246.3 534.8L1244.6 539.2L1243 544L1241.9 547.9L1240.8 552.1L1239.7 556.4L1238.7 560.9L1237.7 565.4L1236.8 569.8L1235.9 574.1L1235 578.2L1234 582.5L1233 586.7L1232.1 590.8L1231.2 594.9L1230.3 598.9L1229.6 603.1L1228.9 607.3L1228.4 611.7L1227.9 616.2L1227.6 620.8L1227.3 625.3L1227 629.7L1226.8 633.7L1226.6 637.3L1226.5 642.8L1226.6 647.5L1226.7 651.6L1226.9 655.5L1227.4 660.7L1227.9 665.2L1228.4 668.3L1228.5 668.7L1228.8 668.9L1229.1 669L1229.5 669L1229.8 668.7L1229.9 668.3L1230.6 665.3L1231.4 660.8L1232.2 655.7L1232.6 651.9L1233.1 647.8L1233.6 643.2L1234.2 637.8L1234.4 634.1L1234.6 630.1L1234.8 625.8L1235 621.3L1235.3 616.8L1235.6 612.4L1236.1 608.2L1236.6 604.2L1237.3 600.2L1238 596.3L1238.8 592.3L1239.7 588.2L1240.6 584L1241.5 579.6L1242.4 575.5L1243.3 571.3L1244.3 566.8L1245.3 562.4L1246.3 558L1247.3 553.7L1248.4 549.7L1249.4 546L1250.9 541.5L1252.5 537.3L1254.2 533.4L1255.9 529.6L1257.5 526L1259.1 522.6L1261.2 518L1263.4 514L1265.4 510.1L1267.3 506.1L1269.3 500.8L1270.9 495.9L1272.4 490.9L1273.9 485.9L1275.3 480.8L1276.5 475.8L1277.5 470.7L1278.2 465.5L1278.6 460.2L1278.3 454.9L1277.6 449.6L1276.4 444.4L1275.2 440.4L1273.8 436.3L1272.1 432.4L1270.2 428.7L1267.6 424.5L1264.6 420.5L1260.6 416.4L1257.3 413.6L1253.7 411L1250 408.4L1246.2 405.5L1242.5 402.2L1240 399.6L1237.3 396.6L1234.5 393.3L1231.6 389.9L1228.8 386.4L1225.9 382.9L1223.1 379.4L1220.2 376L1217.4 372.6L1214.6 369.1L1211.8 365.6L1208.9 362.1L1206.1 358.7L1203.2 355.3L1200.4 351.9L1197.7 348.5L1194.9 345.1L1192 341.7L1189.2 338.3L1186.2 335L1183.2 331.8L1180.1 328.7L1177 325.7L1173.9 322.7L1170.7 319.9L1167.5 317.1L1164.2 314.4L1160.9 311.9L1156.9 309.2L1152.9 306.8L1149 304.6L1145.1 302.5L1141.3 300.5L1137.5 298.4L1133.6 296.2L1129.5 294.1L1125.6 292L1121.8 289.9L1118.4 287.8L1115.4 285.7L1112 282.8L1108.8 279.6L1105.8 276.2L1103 272.8L1100.3 269.6L1097.5 266L1095.2 262.6L1093.1 259L1090.7 255.2L1088.8 251.9L1086.8 248.5L1084.8 244.9L1082.8 241.2L1080.5 237.4L1078.2 233.4L1075.8 229.4L1073.3 225.3L1070.9 221.3L1068.6 217.4L1066.6 213.7L1064.7 209.7L1062.6 205.5L1059.9 201.2L1056.3 197.3L1052.2 194.5L1047.7 192.2L1043.1 190.4L1038.7 188.9L1035.1 187.7L1032.6 186.8" class="e" stroke="#1a1614" stroke-width="3.1"/>
<path d="M1147.9 317L1149.6 317.8L1153.2 318.9L1161.8 319.5L1164.7 319.5L1167.8 319.5L1171.3 319.5L1175.1 319.5L1179.2 319.5L1183.5 319.4L1188 319.4L1192.6 319.3L1197.3 319.2L1202.1 319.1L1206.8 319L1211.6 318.9L1216.2 318.8L1220.8 318.6L1225.2 318.5L1229.2 318.3L1233.4 318.1L1237.6 317.9L1241.9 317.7L1246.2 317.5L1250.6 317.2L1254.9 317L1259.2 316.7L1263.4 316.5L1267.6 316.2L1271.7 316L1275.7 315.7L1279.6 315.4L1283.3 315.2L1286.9 315L1290.3 314.7L1295.3 314.3L1300.1 313.8L1304.5 313.3L1308.6 312.8L1312.5 312.3L1316.2 311.8L1319.8 311.4L1323.3 311L1326.7 310.6L1330.1 310.2L1334.9 310L1339.4 309.7L1343.7 309.6L1347.8 309.4L1351.8 309.4L1355.8 309.3L1360 309.2L1364.4 309.2L1369.1 309.2L1373.9 309.3L1378.6 309.4L1382.8 309.5L1386.3 309.5L1388.9 309.5L1389.7 309.3L1390.3 308.8L1390.5 308.1L1390.3 307.3L1389.8 306.7L1389.1 306.5L1386.5 306.3L1382.9 306L1378.7 305.7L1374.1 305.4L1369.3 305.2L1364.5 304.9L1360 304.8L1355.9 304.6L1351.8 304.6L1347.7 304.5L1343.6 304.5L1339.3 304.5L1334.7 304.6L1329.9 304.8L1326.3 304.8L1322.8 304.9L1319.3 305L1315.6 305.2L1311.9 305.3L1308 305.5L1303.8 305.7L1299.5 305.9L1294.8 306.1L1289.7 306.3L1286.4 306.5L1282.8 306.7L1279.1 306.9L1275.2 307.1L1271.2 307.3L1267.1 307.5L1262.9 307.8L1258.7 308L1254.4 308.2L1250.1 308.4L1245.8 308.7L1241.5 308.9L1237.2 309L1233 309.2L1228.9 309.4L1224.8 309.5L1220.5 309.6L1216 309.8L1211.3 309.9L1206.6 310L1201.9 310.1L1197.1 310.2L1192.4 310.3L1187.8 310.4L1183.4 310.4L1179.1 310.5L1175.1 310.5L1171.3 310.5L1167.8 310.5L1164.7 310.5L1162.2 310.5L1154.3 310L1152.9 309.4L1152.1 309" class="e" stroke="#1a1614" stroke-width="3.1"/>
<path d="M1149.2 287.4L1152 288L1155.7 288.7L1160.1 289.5L1164.9 290.4L1169.9 291.4L1174.9 292.4L1179.5 293.6L1183.5 294.8L1187.7 296.3L1191.6 298L1195.4 299.7L1199.1 301.6L1202.7 303.6L1206.3 305.8L1209.8 308.1L1212.9 310.1L1215.9 312.3L1218.8 314.5L1221.7 316.9L1224.6 319.3L1227.5 322L1230.5 324.7L1233.5 327.7L1236.2 330.4L1239 333.4L1241.9 336.5L1244.8 339.7L1247.7 343.1L1250.5 346.4L1253.4 349.8L1256.1 353.1L1258.8 356.3L1261.8 359.9L1264.7 363.4L1267.5 367L1270.3 370.6L1273 374.1L1275.7 377.5L1278.2 380.9L1280.6 384.1L1283.6 388.1L1286.4 391.9L1289.1 395.6L1291.7 399.1L1294.2 402.6L1296.8 406.1L1300 409.9L1303 413.2L1305.7 416.2L1308.1 419.1L1310.1 422.1L1312.1 425.9L1314.1 430.5L1316 435.2L1317.6 439.4L1318.8 442.5M1150.8 278.6L1153.5 279L1157.2 279.6L1161.6 280.2L1166.6 281L1171.8 281.9L1177 282.9L1182 284L1186.5 285.2L1191.1 286.6L1195.6 288.2L1199.9 289.8L1204 291.6L1208.1 293.6L1212.2 295.7L1216.2 297.9L1219.6 300.1L1223 302.3L1226.3 304.7L1229.5 307.1L1232.8 309.7L1236 312.4L1239.2 315.3L1242.5 318.3L1245.5 321.2L1248.5 324.4L1251.6 327.6L1254.6 330.9L1257.7 334.3L1260.7 337.7L1263.6 341.1L1266.4 344.4L1269.2 347.7L1272.2 351.3L1275.2 355L1278.1 358.7L1281 362.3L1283.7 365.9L1286.4 369.3L1288.9 372.7L1291.4 375.9L1294.5 380.1L1297.3 384.1L1300 387.8L1302.5 391.4L1304.9 394.8L1307.2 397.9L1310 401.3L1312.8 404.5L1315.7 407.8L1318.6 411.4L1321.3 415.5L1323.8 420.4L1326 425.7L1327.9 430.8L1329.4 435.1L1330.4 438" class="e" stroke="#1a1614" stroke-width="3.1"/>
<use href="#p34" fill="#f7dc83"/>
<use href="#p35" fill="#f7dc83"/>
<use href="#p36" fill="#f7dc83"/>
<use href="#p37" fill="#f7dc83"/>
<use href="#p38" fill="#f7dc83"/>
<use href="#p39" fill="#f7dc83"/>
<use href="#p40" fill="#f7dc83"/>
<use href="#p41" fill="#f7dc83"/>
<use href="#p42" fill="#f7dc83"/>
<use href="#p43" fill="#f7dc83"/>
<path d="M1025 212C1023.9 214.4 1021.8 221.4 1018.3 226.6C1014.8 231.8 1009.4 238 1003.7 243.2C998 248.4 987.5 255.3 984.3 257.7" class="t" stroke="#1a1614" stroke-width="1.6"/>
<path d="M1029 224.7C1028.5 226.3 1028.4 230.2 1026 234.4C1023.6 238.6 1017.4 246.4 1014.4 250C1011.4 253.6 1009.1 255 1008 256" class="t" stroke="#1a1614" stroke-width="1.6"/>
<path d="M1035.8 230.5C1035.2 233.4 1033.3 243.1 1032 248C1030.7 252.9 1028.7 258 1028 260" class="t" stroke="#1a1614" stroke-width="1.6"/>
<path d="M1042.6 232.5C1043.4 235.1 1045.4 243.4 1047.5 248C1049.6 252.6 1053.9 258 1055.2 260" class="t" stroke="#1a1614" stroke-width="1.6"/>
<path d="M1041.6 205.3C1043.4 208.5 1048.4 217.6 1052.3 224.7C1056.2 231.8 1061.6 242.1 1065 248C1068.4 253.9 1071.4 258 1072.7 260" class="t" stroke="#1a1614" stroke-width="1.6"/>
<defs><path id="p66" d="M1071.4 752.9C1070.4 750.9 1067.6 745.4 1065.9 740.4C1064.1 735.5 1062.1 728 1060.8 723.1C1059.5 718.2 1058.6 715.5 1057.9 711.1C1057.3 706.8 1056.8 701.9 1057 697.1C1057.1 692.3 1057.7 687.1 1059 682.2C1060.3 677.2 1063.3 670.5 1064.9 667.3C1066.6 664.2 1067 665.5 1068.9 663.3C1070.7 661.2 1072.2 657.9 1075.8 654.4C1079.4 650.9 1085.6 645.8 1090.5 642.4C1095.5 638.9 1100.5 636.3 1105.4 633.6C1110.4 630.8 1114.2 628.5 1120.3 626C1126.4 623.5 1134.7 620.7 1142.1 618.7C1149.6 616.6 1160.1 615 1164.9 613.7C1169.7 612.4 1166.1 612.2 1171.1 610.6C1176.1 609.1 1189 606.1 1194.9 604.4C1200.7 602.6 1202.5 601.6 1206.1 600.1C1209.7 598.5 1213 597 1216.5 595.2C1220 593.5 1224.1 591.3 1227 589.6C1229.9 588 1230.9 586.7 1233.9 585.4C1237 584.1 1240.7 582.6 1245.5 581.8C1250.2 580.9 1257 580.5 1262.2 580.3C1267.4 580.2 1274.2 580.7 1276.6 580.8L1276.6 583.7C1274.6 585.5 1268.6 591.1 1264.6 594.3C1260.6 597.5 1256.6 600.5 1252.6 602.9C1248.7 605.4 1245.3 607.3 1241 609.2C1236.7 611.1 1231.7 612.7 1227 614.1C1222.4 615.5 1217.7 616.4 1213 617.6C1208.4 618.8 1203.7 619.8 1199.1 621.1C1194.4 622.4 1189.7 623.9 1185 625.3C1180.4 626.7 1175.3 628.7 1171.1 629.5C1166.9 630.4 1165.1 629.6 1160 630.6C1154.8 631.6 1146.8 633.6 1140.2 635.5C1133.6 637.5 1126.1 639.9 1120.3 642.4C1114.5 644.8 1110 647.4 1105.4 650.4C1100.8 653.4 1096.4 656.7 1092.6 660.3C1088.9 664 1085 667.7 1082.7 672.2C1080.4 676.6 1079.5 682.2 1078.8 687.1C1078.1 692 1078.3 697.1 1078.5 701.5C1078.8 705.9 1079.3 709.3 1080.5 713.5C1081.7 717.7 1083.6 722.3 1085.7 726.8C1087.9 731.3 1091.5 736.3 1093.6 740.4C1095.7 744.6 1097.4 750.1 1098.2 752Z"/><path id="p67" d="M1099.7 754.6L1097.9 750.7L1095.2 745.5L1092 740.1L1089.5 736L1074.5 746L1077.4 749.8L1080.8 754.5L1083.9 758.9L1086.3 762.4L1089.1 765.2L1093 766.2L1096.9 765.2L1099.7 762.4L1100.7 758.5Z"/></defs>
<path d="M1071.4 752.9C1070.4 750.9 1067.6 745.4 1065.9 740.4C1064.1 735.5 1062.1 728 1060.8 723.1C1059.5 718.2 1058.6 715.5 1057.9 711.1C1057.3 706.8 1056.8 701.9 1057 697.1C1057.1 692.3 1057.7 687.1 1059 682.2C1060.3 677.2 1063.3 670.5 1064.9 667.3C1066.6 664.2 1067 665.5 1068.9 663.3C1070.7 661.2 1072.2 657.9 1075.8 654.4C1079.4 650.9 1085.6 645.8 1090.5 642.4C1095.5 638.9 1100.5 636.3 1105.4 633.6C1110.4 630.8 1114.2 628.5 1120.3 626C1126.4 623.5 1134.7 620.7 1142.1 618.7C1149.6 616.6 1160.1 615 1164.9 613.7C1169.7 612.4 1166.1 612.2 1171.1 610.6C1176.1 609.1 1189 606.1 1194.9 604.4C1200.7 602.6 1202.5 601.6 1206.1 600.1C1209.7 598.5 1213 597 1216.5 595.2C1220 593.5 1224.1 591.3 1227 589.6C1229.9 588 1230.9 586.7 1233.9 585.4C1237 584.1 1240.7 582.6 1245.5 581.8C1250.2 580.9 1257 580.5 1262.2 580.3C1267.4 580.2 1274.2 580.7 1276.6 580.8M1098.2 752C1097.4 750.1 1095.7 744.6 1093.6 740.4C1091.5 736.3 1087.9 731.3 1085.7 726.8C1083.6 722.3 1081.7 717.7 1080.5 713.5C1079.3 709.3 1078.8 705.9 1078.5 701.5C1078.3 697.1 1078.1 692 1078.8 687.1C1079.5 682.2 1080.4 676.6 1082.7 672.2C1085 667.7 1088.9 664 1092.6 660.3C1096.4 656.7 1100.8 653.4 1105.4 650.4C1110 647.4 1114.5 644.8 1120.3 642.4C1126.1 639.9 1133.6 637.5 1140.2 635.5C1146.8 633.6 1154.8 631.6 1160 630.6C1165.1 629.6 1166.9 630.4 1171.1 629.5C1175.3 628.7 1180.4 626.7 1185 625.3C1189.7 623.9 1194.4 622.4 1199.1 621.1C1203.7 619.8 1208.4 618.8 1213 617.6C1217.7 616.4 1222.4 615.5 1227 614.1C1231.7 612.7 1236.7 611.1 1241 609.2C1245.3 607.3 1248.7 605.4 1252.6 602.9C1256.6 600.5 1260.6 597.5 1264.6 594.3C1268.6 591.1 1274.6 585.5 1276.6 583.7" class="e" stroke="#1a1614" stroke-width="3.1"/>
<path d="M1074.5 746L1077.4 749.8L1080.8 754.5L1083.9 758.9L1086.3 762.4L1089.1 765.2L1093 766.2L1096.9 765.2L1099.7 762.4L1100.7 758.5L1099.7 754.6L1097.9 750.7L1095.2 745.5L1092 740.1L1089.5 736" class="e" stroke="#1a1614" stroke-width="3.1"/>
<use href="#p66" fill="#d05535"/>
<use href="#p67" fill="#d05535"/>
<defs><path id="p68" d="M411 569.5C415.8 571.1 429.7 575.5 440 579C450.3 582.5 456.3 585.5 473 590.5C489.7 595.5 517.7 604.1 540 609C562.3 613.9 584.8 617.4 607 620C629.2 622.6 657.5 623.8 673 624.5C688.5 625.2 678.8 623.9 700 624C721.2 624.1 766.7 625.2 800 625C833.3 624.8 880.8 623.2 900 622.5C919.2 621.8 908 621.6 915 621C922 620.3 932.4 619.4 941.9 618.5C951.3 617.5 961.7 616.6 971.6 615.4C981.5 614.3 991.3 613.2 1001.2 611.5C1011.1 609.9 1021 607.9 1030.9 605.6C1040.8 603.3 1053.1 599.9 1060.7 597.7C1068.2 595.4 1068.6 594.8 1076.2 591.9C1083.7 589 1096 584.1 1105.9 580.1C1115.8 576 1125.7 571.3 1135.6 567.7C1145.5 564 1157 560.6 1165.2 558.2C1173.4 555.8 1177.6 554.8 1185 553.3C1192.4 551.7 1202 550.1 1209.5 548.8C1217 547.5 1223.2 546.3 1229.9 545.5C1236.6 544.8 1243.1 544.7 1249.7 544.5C1256.3 544.4 1262.8 544.4 1269.4 544.5C1276 544.6 1283.5 544.8 1289.3 545C1295.1 545.2 1297.5 545.5 1304.2 545.5C1310.8 545.5 1325.2 545.1 1329.4 545L1287.2 583.7C1286.2 583.3 1283.9 581.9 1281.4 581.3C1278.9 580.7 1276.7 580.3 1272.3 580.2C1267.9 580 1261.4 579.9 1255 580.2C1248.6 580.4 1241.5 580.6 1233.9 581.8C1226.4 582.9 1217.6 585.4 1209.5 587.1C1201.3 588.8 1192.4 590.3 1185 592C1177.6 593.6 1171.8 595.3 1165.2 596.9C1158.6 598.6 1152 599.9 1145.4 601.9C1138.8 603.9 1132.1 606.3 1125.6 608.9C1119 611.4 1114.3 614.3 1105.9 617.4C1097.5 620.4 1084.4 624.4 1075.2 627C1066 629.6 1059.1 631 1050.7 632.9C1042.4 634.8 1033.2 636.9 1025 638.4C1016.7 639.9 1010.1 640.7 1001.2 641.9C992.3 643 981.5 644.3 971.6 645.3C961.7 646.4 951.2 647.5 941.9 648.3C932.5 649.1 922.3 649.6 915.3 650C908.3 650.5 919.2 650.6 900 651C880.8 651.4 833.3 652.7 800 652.5C766.7 652.3 721.2 650.7 700 650C678.8 649.3 688.5 649.7 673 648.5C657.5 647.3 629.2 645.8 607 643C584.8 640.2 562.3 636.4 540 632C517.7 627.6 489.7 620.6 473 616.5C456.3 612.4 451.4 610.7 440 607.5C428.6 604.3 410.4 599.2 404.5 597.5Z"/><path id="p69" d="M430 575.7C428.3 575.2 422.8 573.3 420 572.4C417.2 571.5 414.9 570.6 413 570.2C411.1 569.9 409.7 569.8 408.5 570.3C407.3 570.8 406.4 571.5 405.6 573.5C404.9 575.5 404.4 579.1 404 582C403.6 584.9 403 588.7 403 591C403 593.3 403.3 594.8 404 596C404.7 597.2 405.5 597.8 407 598.4C408.5 599 410.7 599.3 413 599.9C415.3 600.5 418.2 601.3 421 602.1C423.8 602.9 428.5 604.3 430 604.7Z"/></defs>
<path d="M411 569.5C415.8 571.1 429.7 575.5 440 579C450.3 582.5 456.3 585.5 473 590.5C489.7 595.5 517.7 604.1 540 609C562.3 613.9 584.8 617.4 607 620C629.2 622.6 657.5 623.8 673 624.5C688.5 625.2 678.8 623.9 700 624C721.2 624.1 766.7 625.2 800 625C833.3 624.8 880.8 623.2 900 622.5C919.2 621.8 908 621.6 915 621C922 620.3 932.4 619.4 941.9 618.5C951.3 617.5 961.7 616.6 971.6 615.4C981.5 614.3 991.3 613.2 1001.2 611.5C1011.1 609.9 1021 607.9 1030.9 605.6C1040.8 603.3 1053.1 599.9 1060.7 597.7C1068.2 595.4 1068.6 594.8 1076.2 591.9C1083.7 589 1096 584.1 1105.9 580.1C1115.8 576 1125.7 571.3 1135.6 567.7C1145.5 564 1157 560.6 1165.2 558.2C1173.4 555.8 1177.6 554.8 1185 553.3C1192.4 551.7 1202 550.1 1209.5 548.8C1217 547.5 1223.2 546.3 1229.9 545.5C1236.6 544.8 1243.1 544.7 1249.7 544.5C1256.3 544.4 1262.8 544.4 1269.4 544.5C1276 544.6 1283.5 544.8 1289.3 545C1295.1 545.2 1297.5 545.5 1304.2 545.5C1310.8 545.5 1325.2 545.1 1329.4 545M404.5 597.5C410.4 599.2 428.6 604.3 440 607.5C451.4 610.7 456.3 612.4 473 616.5C489.7 620.6 517.7 627.6 540 632C562.3 636.4 584.8 640.2 607 643C629.2 645.8 657.5 647.3 673 648.5C688.5 649.7 678.8 649.3 700 650C721.2 650.7 766.7 652.3 800 652.5C833.3 652.7 880.8 651.4 900 651C919.2 650.6 908.3 650.5 915.3 650C922.3 649.6 932.5 649.1 941.9 648.3C951.2 647.5 961.7 646.4 971.6 645.3C981.5 644.3 992.3 643 1001.2 641.9C1010.1 640.7 1016.7 639.9 1025 638.4C1033.2 636.9 1042.4 634.8 1050.7 632.9C1059.1 631 1066 629.6 1075.2 627C1084.4 624.4 1097.5 620.4 1105.9 617.4C1114.3 614.3 1119 611.4 1125.6 608.9C1132.1 606.3 1138.8 603.9 1145.4 601.9C1152 599.9 1158.6 598.6 1165.2 596.9C1171.8 595.3 1177.6 593.6 1185 592C1192.4 590.3 1201.3 588.8 1209.5 587.1C1217.6 585.4 1226.4 582.9 1233.9 581.8C1241.5 580.6 1248.6 580.4 1255 580.2C1261.4 579.9 1267.9 580 1272.3 580.2C1276.7 580.3 1278.9 580.7 1281.4 581.3C1283.9 581.9 1286.2 583.3 1287.2 583.7" class="e" stroke="#1a1614" stroke-width="3.1"/>
<use href="#p69" class="b" stroke-width="3.1"/>
<use href="#p68" fill="#9cc5e1"/>
<use href="#p69" fill="#9cc5e1"/>
<defs><path id="p31" d="M1320.7 260.3L1318.9 262.8L1316.4 266.4L1313.3 270.6L1311.3 273.3L1308.9 276.4L1306.4 279.6L1303.8 283L1301.2 286.5L1298.5 290.1L1295.6 293.9L1292.8 297.7L1290.1 301.3L1287.7 304.7L1284.5 309.5L1282 313.5L1280.4 316.1L1299.6 327.9L1301.2 325.3L1303.4 321.7L1306.3 317.3L1308.4 314.3L1310.9 310.7L1313.6 306.9L1316.3 303.1L1318.8 299.5L1321.3 296.1L1323.8 292.8L1326.2 289.4L1328.5 286.3L1330.7 283.4L1333.8 279L1336.5 275.2L1338.3 272.7L1340.2 267.5L1339.3 262L1335.7 257.7L1330.5 255.8L1325 256.7Z"/><path id="p32" d="M784.1 258.1L788.4 259L794.2 260.2L798.5 261.1L801.5 243.9L797.2 243.3L791.2 242.4L786.9 241.9L782.6 242.3L779.2 244.7L777.4 248.6L777.8 252.9L780.2 256.3Z"/><path id="p33" d="M790 240.7C796.3 241.7 815.2 244.9 828 246.7C840.8 248.5 854 250 867 251.6C880 253.2 895.5 254.8 906 256C916.5 257.2 914.3 257.6 930 258.9C945.7 260.1 978.3 262.3 1000 263.5C1021.7 264.7 1043.3 265.3 1060 266C1076.7 266.7 1085.2 266.8 1100 267.5C1114.8 268.2 1131.7 268.7 1149 270C1166.3 271.3 1188.8 273.4 1204 275.5C1219.2 277.6 1229.4 280.3 1240 282.8C1250.6 285.3 1259.4 287.1 1267.7 290.5C1276 293.9 1283.3 299 1290 303C1296.7 307 1302.3 311 1307.7 314.6C1313.1 318.2 1316.9 320.5 1322.3 324.6C1327.7 328.7 1334 333.3 1340 339.2C1346 345.1 1352.7 352.4 1358 360C1363.3 367.6 1367.3 375.2 1372 385C1376.7 394.8 1383.2 409.6 1386.5 418.8C1389.7 428 1390.1 433.4 1391.5 440.2C1392.9 447.1 1394.2 453.6 1395 460.2C1395.7 466.8 1396 473.3 1396 479.9C1396 486.5 1395.6 492.9 1395 499.8C1394.3 506.7 1392.9 514.7 1392.2 521.2C1391.5 527.7 1390.9 536 1390.7 539L1349.5 537.1C1350.2 536.1 1352 534 1353.4 531.3C1354.8 528.7 1356.4 526.5 1357.8 521.2C1359.2 516 1360.9 506.7 1361.8 499.8C1362.6 492.9 1362.9 486.5 1362.8 479.9C1362.6 473.3 1361.8 466.8 1360.8 460.2C1359.8 453.6 1358.3 447.1 1356.8 440.2C1355.3 433.4 1354.7 427.4 1351.9 418.8C1349.1 410.2 1344.9 397.4 1340 388.4C1335.1 379.4 1329.8 372.9 1322.3 364.7C1314.8 356.5 1305.6 346.8 1295 339.2C1284.4 331.6 1270.8 324.7 1258.6 319.2C1246.4 313.7 1234.2 310 1222 306.4C1209.8 302.8 1200.9 299.7 1185.7 297.3C1170.5 294.9 1149.2 293.5 1131 291.9C1112.8 290.3 1091.6 288.9 1076.4 287.8C1061.2 286.7 1052.7 286.2 1040 285.5C1027.3 284.8 1018.3 284.5 1000 283.5C981.7 282.5 945.7 280.3 930 279.3C914.3 278.3 916.5 278.4 906 277.3C895.5 276.2 880 274.6 867 273C854 271.4 840.8 269.6 828 267.6C815.2 265.6 796.3 262.1 790 261Z"/></defs>
<path d="M1299.6 327.9L1301.2 325.3L1303.4 321.7L1306.3 317.3L1308.4 314.3L1310.9 310.7L1313.6 306.9L1316.3 303.1L1318.8 299.5L1321.3 296.1L1323.8 292.8L1326.2 289.4L1328.5 286.3L1330.7 283.4L1333.8 279L1336.5 275.2L1338.3 272.7L1340.2 267.5L1339.3 262L1335.7 257.7L1330.5 255.8L1325 256.7L1320.7 260.3L1318.9 262.8L1316.4 266.4L1313.3 270.6L1311.3 273.3L1308.9 276.4L1306.4 279.6L1303.8 283L1301.2 286.5L1298.5 290.1L1295.6 293.9L1292.8 297.7L1290.1 301.3L1287.7 304.7L1284.5 309.5L1282 313.5L1280.4 316.1" class="e" stroke="#1a1614" stroke-width="3.1"/>
<path d="M801.5 243.9L797.2 243.3L791.2 242.4L786.9 241.9L782.6 242.3L779.2 244.7L777.4 248.6L777.8 252.9L780.2 256.3L784.1 258.1L788.4 259L794.2 260.2L798.5 261.1" class="e" stroke="#1a1614" stroke-width="3.1"/>
<path d="M790 240.7C796.3 241.7 815.2 244.9 828 246.7C840.8 248.5 854 250 867 251.6C880 253.2 895.5 254.8 906 256C916.5 257.2 914.3 257.6 930 258.9C945.7 260.1 978.3 262.3 1000 263.5C1021.7 264.7 1043.3 265.3 1060 266C1076.7 266.7 1085.2 266.8 1100 267.5C1114.8 268.2 1131.7 268.7 1149 270C1166.3 271.3 1188.8 273.4 1204 275.5C1219.2 277.6 1229.4 280.3 1240 282.8C1250.6 285.3 1259.4 287.1 1267.7 290.5C1276 293.9 1283.3 299 1290 303C1296.7 307 1302.3 311 1307.7 314.6C1313.1 318.2 1316.9 320.5 1322.3 324.6C1327.7 328.7 1334 333.3 1340 339.2C1346 345.1 1352.7 352.4 1358 360C1363.3 367.6 1367.3 375.2 1372 385C1376.7 394.8 1383.2 409.6 1386.5 418.8C1389.7 428 1390.1 433.4 1391.5 440.2C1392.9 447.1 1394.2 453.6 1395 460.2C1395.7 466.8 1396 473.3 1396 479.9C1396 486.5 1395.6 492.9 1395 499.8C1394.3 506.7 1392.9 514.7 1392.2 521.2C1391.5 527.7 1390.9 536 1390.7 539M790 261C796.3 262.1 815.2 265.6 828 267.6C840.8 269.6 854 271.4 867 273C880 274.6 895.5 276.2 906 277.3C916.5 278.4 914.3 278.3 930 279.3C945.7 280.3 981.7 282.5 1000 283.5C1018.3 284.5 1027.3 284.8 1040 285.5C1052.7 286.2 1061.2 286.7 1076.4 287.8C1091.6 288.9 1112.8 290.3 1131 291.9C1149.2 293.5 1170.5 294.9 1185.7 297.3C1200.9 299.7 1209.8 302.8 1222 306.4C1234.2 310 1246.4 313.7 1258.6 319.2C1270.8 324.7 1284.4 331.6 1295 339.2C1305.6 346.8 1314.8 356.5 1322.3 364.7C1329.8 372.9 1335.1 379.4 1340 388.4C1344.9 397.4 1349.1 410.2 1351.9 418.8C1354.7 427.4 1355.3 433.4 1356.8 440.2C1358.3 447.1 1359.8 453.6 1360.8 460.2C1361.8 466.8 1362.6 473.3 1362.8 479.9C1362.9 486.5 1362.6 492.9 1361.8 499.8C1360.9 506.7 1359.2 516 1357.8 521.2C1356.4 526.5 1354.8 528.7 1353.4 531.3C1352 534 1350.2 536.1 1349.5 537.1" class="e" stroke="#1a1614" stroke-width="3.1"/>
<use href="#p31" fill="#9cc5e1"/>
<use href="#p32" fill="#9cc5e1"/>
<use href="#p33" fill="#9cc5e1"/>
</g>
<g id="figbr">
<defs><path id="p49" d="M1280.5 383.9L1282.3 386.4L1284.8 389.8L1287.7 393.9L1290.9 398.2L1294 402.3L1296.8 406.1L1300 409.9L1303 413.2L1305.7 416.2L1308.1 419.1L1310.2 422.1L1312 425.6L1313.8 429.6L1315.5 433.8L1317.1 438.1L1318.7 442.4L1320.3 446.4L1321.7 450.3L1323 454.1L1324.2 457.8L1325.2 461.5L1326.3 466.2L1327.1 470.8L1327.7 475.5L1328.1 480.1L1328.3 484.7L1328.2 489.4L1327.9 494.1L1327.3 499L1326.7 503.1L1325.9 507.3L1325 511.4L1324 515.6L1322.7 519.5L1321.3 523.4L1319.6 527.1L1317.8 531L1315.8 534.8L1313.7 538.7L1311.5 542.7L1309.2 546.7L1306.8 550.6L1304.3 554.5L1301.7 558.2L1299 561.9L1296.2 565.6L1293.2 569.2L1290.2 572.6L1287.1 575.8L1283.9 578.6L1280.4 581.4L1276.8 584L1273.1 586.8L1269.4 589.6L1265.7 592.5L1262 595.4L1258.3 598.4L1254.7 601.2L1251.1 604L1247.5 606.8L1244 609.5L1240.4 612.1L1236.9 614.8L1233.4 617.5L1229.8 620.2L1226.3 623L1222.9 625.7L1219.6 628.3L1216.4 630.8L1212.6 633.7L1209 636.4L1205.5 639L1201.9 641.5L1198.3 643.8L1194.7 646.1L1190.8 648.4L1186.9 650.9L1183.1 653.7L1179.3 656.6L1175.5 659.5L1171.8 662.6L1168 665.8L1164.1 669L1160.3 672.4L1156.7 675.7L1153.2 678.9L1149.8 682.3L1146.5 685.6L1143.5 689L1139.8 693.6L1136.6 698.2L1133.9 702.8L1131.9 707.4L1130.5 711.8L1129.5 716L1128.6 721.4L1128.4 726.8L1128.6 733.2L1128.9 738.7L1129.2 741.6L1129.4 743.3L1129.8 745.5L1131.3 747.1L1133.4 747.7L1135.6 747.3L1137.2 745.8L1137.8 743.7L1138.2 741.8L1138.5 738.4L1138.2 732.8L1138 726.8L1138.2 722.3L1138.9 717.8L1139.7 714.4L1140.8 710.8L1142.4 707.2L1144.7 703.4L1147.5 699.3L1150.8 695.2L1153.5 692.2L1156.6 689.1L1159.9 685.9L1163.2 682.7L1166.8 679.5L1170.4 676.3L1174.1 673.1L1177.9 670L1181.5 667.1L1185.2 664.2L1188.8 661.4L1192.4 658.8L1196 656.3L1199.6 654L1203.4 651.6L1207.1 649L1210.8 646.3L1214.4 643.5L1218 640.6L1221.8 637.6L1224.9 635L1228.2 632.3L1231.6 629.5L1235 626.7L1238.4 623.9L1241.8 621.3L1245.3 618.7L1248.9 616L1252.5 613.3L1256.1 610.5L1259.8 607.6L1263.4 604.7L1267.1 601.8L1270.7 598.9L1274.3 596.1L1278 593.4L1281.7 590.8L1285.5 588.1L1289.3 585.2L1293 582.1L1296.5 578.6L1299.9 575L1303.1 571.3L1306.1 567.5L1309.1 563.6L1311.9 559.7L1314.7 555.6L1317.3 551.5L1319.7 547.4L1322.1 543.4L1324.3 539.4L1326.5 535.4L1328.6 531.4L1330.5 527.2L1332.2 522.9L1333.7 518.5L1335 513.9L1336.1 509.4L1337 505L1337.8 500.6L1338.6 495.3L1339.2 490.1L1339.5 484.9L1339.6 479.6L1339.3 474.4L1338.8 469.2L1338 464L1336.9 458.8L1335.9 454.6L1334.7 450.4L1333.3 446.3L1331.9 442.2L1330.5 438.1L1329 433.8L1327.4 429.3L1325.6 424.7L1323.6 420L1321.3 415.5L1318.6 411.4L1315.7 407.8L1312.8 404.5L1310 401.3L1307.2 397.9L1304.6 394.4L1301.6 390.3L1298.6 386L1295.7 382L1293.2 378.5L1291.5 376.1Z"/></defs>
<path d="M1280.5 383.9L1282.3 386.4L1284.8 389.8L1287.7 393.9L1290.9 398.2L1294 402.3L1296.8 406.1L1300 409.9L1303 413.2L1305.7 416.2L1308.1 419.1L1310.2 422.1L1312 425.6L1313.8 429.6L1315.5 433.8L1317.1 438.1L1318.7 442.4L1320.3 446.4L1321.7 450.3L1323 454.1L1324.2 457.8L1325.2 461.5L1326.3 466.2L1327.1 470.8L1327.7 475.5L1328.1 480.1L1328.3 484.7L1328.2 489.4L1327.9 494.1L1327.3 499L1326.7 503.1L1325.9 507.3L1325 511.4L1324 515.6L1322.7 519.5L1321.3 523.4L1319.6 527.1L1317.8 531L1315.8 534.8L1313.7 538.7L1311.5 542.7L1309.2 546.7L1306.8 550.6L1304.3 554.5L1301.7 558.2L1299 561.9L1296.2 565.6L1293.2 569.2L1290.2 572.6L1287.1 575.8L1283.9 578.6L1280.4 581.4L1276.8 584L1273.1 586.8L1269.4 589.6L1265.7 592.5L1262 595.4L1258.3 598.4L1254.7 601.2L1251.1 604L1247.5 606.8L1244 609.5L1240.4 612.1L1236.9 614.8L1233.4 617.5L1229.8 620.2L1226.3 623L1222.9 625.7L1219.6 628.3L1216.4 630.8L1212.6 633.7L1209 636.4L1205.5 639L1201.9 641.5L1198.3 643.8L1194.7 646.1L1190.8 648.4L1186.9 650.9L1183.1 653.7L1179.3 656.6L1175.5 659.5L1171.8 662.6L1168 665.8L1164.1 669L1160.3 672.4L1156.7 675.7L1153.2 678.9L1149.8 682.3L1146.5 685.6L1143.5 689L1139.8 693.6L1136.6 698.2L1133.9 702.8L1131.9 707.4L1130.5 711.8L1129.5 716L1128.6 721.4L1128.4 726.8L1128.6 733.2L1128.9 738.7L1129.2 741.6L1129.4 743.3L1129.8 745.5L1131.3 747.1L1133.4 747.7L1135.6 747.3L1137.2 745.8L1137.8 743.7L1138.2 741.8L1138.5 738.4L1138.2 732.8L1138 726.8L1138.2 722.3L1138.9 717.8L1139.7 714.4L1140.8 710.8L1142.4 707.2L1144.7 703.4L1147.5 699.3L1150.8 695.2L1153.5 692.2L1156.6 689.1L1159.9 685.9L1163.2 682.7L1166.8 679.5L1170.4 676.3L1174.1 673.1L1177.9 670L1181.5 667.1L1185.2 664.2L1188.8 661.4L1192.4 658.8L1196 656.3L1199.6 654L1203.4 651.6L1207.1 649L1210.8 646.3L1214.4 643.5L1218 640.6L1221.8 637.6L1224.9 635L1228.2 632.3L1231.6 629.5L1235 626.7L1238.4 623.9L1241.8 621.3L1245.3 618.7L1248.9 616L1252.5 613.3L1256.1 610.5L1259.8 607.6L1263.4 604.7L1267.1 601.8L1270.7 598.9L1274.3 596.1L1278 593.4L1281.7 590.8L1285.5 588.1L1289.3 585.2L1293 582.1L1296.5 578.6L1299.9 575L1303.1 571.3L1306.1 567.5L1309.1 563.6L1311.9 559.7L1314.7 555.6L1317.3 551.5L1319.7 547.4L1322.1 543.4L1324.3 539.4L1326.5 535.4L1328.6 531.4L1330.5 527.2L1332.2 522.9L1333.7 518.5L1335 513.9L1336.1 509.4L1337 505L1337.8 500.6L1338.6 495.3L1339.2 490.1L1339.5 484.9L1339.6 479.6L1339.3 474.4L1338.8 469.2L1338 464L1336.9 458.8L1335.9 454.6L1334.7 450.4L1333.3 446.3L1331.9 442.2L1330.5 438.1L1329 433.8L1327.4 429.3L1325.6 424.7L1323.6 420L1321.3 415.5L1318.6 411.4L1315.7 407.8L1312.8 404.5L1310 401.3L1307.2 397.9L1304.6 394.4L1301.6 390.3L1298.6 386L1295.7 382L1293.2 378.5L1291.5 376.1" class="e" stroke="#1a1614" stroke-width="3.1"/>
<use href="#p49" fill="#f7dc83"/>
</g>
</defs>
<rect width="1647" height="1821" fill="#fff"/>
<use href="#fig"/><use href="#figbr"/>
<rect x="915" y="419" width="487" height="308" fill="none" stroke="#fff" stroke-width="5.6"/><rect x="915" y="419" width="487" height="308" fill="none" stroke="#000" stroke-width="1.9"/>
<g clip-path="url(#cb)">
<rect x="286" y="1047" width="1017" height="666" fill="#e9e4db"/>
<g transform="translate(-1621.8 175.9) scale(2.085 2.08)"><use href="#fig"/></g>
<path d="M345 1543C348.1 1543.1 357.8 1543.3 363.6 1543.6C369.4 1543.9 374.4 1544.4 379.7 1545C385 1545.6 390.4 1546.1 395.6 1547C400.8 1547.9 405.7 1549 410.7 1550.2C415.7 1551.4 420.6 1552.7 425.5 1554.3C430.4 1555.9 435.4 1557.8 440 1560C444.6 1562.2 448.7 1564.7 453 1567.7C457.3 1570.7 462.3 1574.4 465.8 1578C469.3 1581.6 471.1 1585.4 474 1589.4C476.9 1593.4 479.9 1597.9 483.3 1601.8C486.7 1605.7 490.4 1609.6 494.3 1613C498.2 1616.4 502.5 1619.5 507 1622C511.5 1624.5 516.5 1626.4 521.5 1628.2C526.5 1630 531.9 1631.5 537 1632.8C542.1 1634.1 546.9 1635.3 552 1636.3C557.1 1637.2 562.6 1637.9 567.6 1638.5C572.6 1639.1 579.6 1639.8 582 1640" fill="none" stroke="#fff" stroke-width="11.8" stroke-dasharray="11.8 3.7" stroke-dashoffset="1.9" stroke-opacity="0.95"/><path d="M461 1563C461.8 1561.7 464 1557.8 466 1555C468 1552.2 469.9 1549.4 473 1546C476.1 1542.6 480.3 1537.6 484.4 1534.7C488.5 1531.8 494.5 1530 497.8 1528.5C501.1 1527 503 1526.4 504 1526" fill="none" stroke="#fff" stroke-width="11.8" stroke-dasharray="11.8 3.7" stroke-dashoffset="1.9" stroke-opacity="0.95"/><path d="M629 1645C631.8 1644.5 640.8 1643.3 646 1642.3C651.2 1641.3 655.7 1640.4 660.5 1639.2C665.3 1638 670.2 1636.4 675 1635C679.8 1633.6 683.7 1632.8 689.4 1631C695.1 1629.2 705.7 1625.6 709 1624.5" fill="none" stroke="#fff" stroke-width="11.8" stroke-dasharray="11.8 3.7" stroke-dashoffset="1.9" stroke-opacity="0.95"/><path d="M884 1356C887.2 1355.2 895 1353.3 903.4 1351.5C911.8 1349.7 924 1347.2 934.3 1345.3C944.6 1343.4 955 1341.5 965.3 1340C975.6 1338.5 986 1337.1 996.3 1336C1006.6 1334.9 1016.8 1333.9 1027.2 1333.3C1037.6 1332.7 1050.2 1332.3 1058.8 1332.3C1067.4 1332.3 1075.6 1333.3 1079 1333.5" fill="none" stroke="#fff" stroke-width="11.8" stroke-dasharray="11.8 3.7" stroke-dashoffset="1.9" stroke-opacity="0.95"/><path d="M1114 1345C1115.1 1346.2 1118 1348.4 1120.5 1351.9C1123 1355.5 1126.5 1361.5 1128.8 1366.3C1131 1371.1 1132.5 1375.8 1134 1380.8C1135.5 1385.8 1137 1391.1 1138 1396.3C1139 1401.5 1139.5 1406.5 1140 1411.7C1140.5 1416.9 1141.2 1422 1141 1427.2C1140.8 1432.4 1140.2 1437.7 1139 1442.7C1137.8 1447.7 1135.9 1452.3 1134 1457C1132.1 1461.7 1130.2 1466.1 1127.7 1470.6C1125.2 1475.1 1122.5 1480 1119 1484C1115.5 1488 1110.9 1492 1106.6 1494.8C1102.3 1497.6 1097.8 1499 1093 1501C1088.2 1503 1082.8 1505.1 1078 1506.7C1073.2 1508.3 1069.1 1509.6 1064.3 1510.5C1059.5 1511.4 1054.1 1511.8 1048.9 1512.2C1043.7 1512.6 1038.6 1512.8 1033.2 1513C1027.8 1513.2 1022.7 1513.5 1016.5 1513.4C1010.3 1513.3 999.4 1512.7 996 1512.5" fill="none" stroke="#fff" stroke-width="11.8" stroke-dasharray="11.8 3.7" stroke-dashoffset="1.9" stroke-opacity="0.95"/><path d="M1247.5 1290C1247.5 1293.2 1247.6 1303.6 1247.5 1309.5C1247.4 1315.4 1247.3 1320.3 1247 1325.6C1246.7 1330.9 1246.6 1336.3 1245.8 1341.5C1245 1346.7 1243.8 1351.6 1242.3 1356.6C1240.8 1361.6 1239 1366.8 1237 1371.5C1235 1376.2 1232.7 1380.7 1230 1385C1227.3 1389.3 1223.9 1393.4 1220.6 1397.3C1217.3 1401.2 1213.7 1404.8 1210.3 1408.6C1206.9 1412.4 1203.8 1416.2 1200 1420C1196.2 1423.8 1191.5 1427.7 1187.6 1431.3C1183.6 1434.9 1180.2 1438.2 1176.3 1441.7C1172.3 1445.2 1168 1448.7 1163.9 1452C1159.8 1455.3 1155.5 1458.2 1151.5 1461.3C1147.5 1464.4 1143.8 1467.7 1140 1470.6C1136.2 1473.5 1130.7 1477.4 1128.8 1478.8" fill="none" stroke="#fff" stroke-width="11.8" stroke-dasharray="11.8 3.7" stroke-dashoffset="1.9" stroke-opacity="0.95"/><path d="M1297 1448.4C1293.7 1448.8 1283.4 1450.2 1277.4 1451C1271.4 1451.8 1266.2 1452.3 1260.9 1453C1255.6 1453.7 1250.6 1454.3 1245.4 1455C1240.2 1455.7 1235.2 1456.2 1230 1457C1224.8 1457.8 1219.6 1458.8 1214.4 1459.8C1209.2 1460.8 1204 1462.2 1199 1463.3C1194 1464.4 1189.5 1465.2 1184.5 1466.4C1179.5 1467.6 1174 1469 1169 1470.6C1164 1472.1 1158.9 1474 1154.6 1475.7C1150.3 1477.4 1144.9 1480.1 1143 1481" fill="none" stroke="#fff" stroke-width="11.8" stroke-dasharray="11.8 3.7" stroke-dashoffset="1.9" stroke-opacity="0.95"/><path d="M739.5 1617.5L711.5 1609.5L719.5 1636.5Z" fill="#fff" stroke="#fff" stroke-width="5" stroke-linejoin="round"/><path d="M964.5 1507.7L989.8 1498L988.6 1523.8Z" fill="#fff" stroke="#fff" stroke-width="5" stroke-linejoin="round"/><path d="M345 1543C348.1 1543.1 357.8 1543.3 363.6 1543.6C369.4 1543.9 374.4 1544.4 379.7 1545C385 1545.6 390.4 1546.1 395.6 1547C400.8 1547.9 405.7 1549 410.7 1550.2C415.7 1551.4 420.6 1552.7 425.5 1554.3C430.4 1555.9 435.4 1557.8 440 1560C444.6 1562.2 448.7 1564.7 453 1567.7C457.3 1570.7 462.3 1574.4 465.8 1578C469.3 1581.6 471.1 1585.4 474 1589.4C476.9 1593.4 479.9 1597.9 483.3 1601.8C486.7 1605.7 490.4 1609.6 494.3 1613C498.2 1616.4 502.5 1619.5 507 1622C511.5 1624.5 516.5 1626.4 521.5 1628.2C526.5 1630 531.9 1631.5 537 1632.8C542.1 1634.1 546.9 1635.3 552 1636.3C557.1 1637.2 562.6 1637.9 567.6 1638.5C572.6 1639.1 579.6 1639.8 582 1640" fill="none" stroke="#1a7fa8" stroke-width="8" stroke-dasharray="8 7.5"/><path d="M461 1563C461.8 1561.7 464 1557.8 466 1555C468 1552.2 469.9 1549.4 473 1546C476.1 1542.6 480.3 1537.6 484.4 1534.7C488.5 1531.8 494.5 1530 497.8 1528.5C501.1 1527 503 1526.4 504 1526" fill="none" stroke="#1a7fa8" stroke-width="8" stroke-dasharray="8 7.5"/><path d="M629 1645C631.8 1644.5 640.8 1643.3 646 1642.3C651.2 1641.3 655.7 1640.4 660.5 1639.2C665.3 1638 670.2 1636.4 675 1635C679.8 1633.6 683.7 1632.8 689.4 1631C695.1 1629.2 705.7 1625.6 709 1624.5" fill="none" stroke="#1a7fa8" stroke-width="8" stroke-dasharray="8 7.5"/><path d="M884 1356C887.2 1355.2 895 1353.3 903.4 1351.5C911.8 1349.7 924 1347.2 934.3 1345.3C944.6 1343.4 955 1341.5 965.3 1340C975.6 1338.5 986 1337.1 996.3 1336C1006.6 1334.9 1016.8 1333.9 1027.2 1333.3C1037.6 1332.7 1050.2 1332.3 1058.8 1332.3C1067.4 1332.3 1075.6 1333.3 1079 1333.5" fill="none" stroke="#1a7fa8" stroke-width="8" stroke-dasharray="8 7.5"/><path d="M1114 1345C1115.1 1346.2 1118 1348.4 1120.5 1351.9C1123 1355.5 1126.5 1361.5 1128.8 1366.3C1131 1371.1 1132.5 1375.8 1134 1380.8C1135.5 1385.8 1137 1391.1 1138 1396.3C1139 1401.5 1139.5 1406.5 1140 1411.7C1140.5 1416.9 1141.2 1422 1141 1427.2C1140.8 1432.4 1140.2 1437.7 1139 1442.7C1137.8 1447.7 1135.9 1452.3 1134 1457C1132.1 1461.7 1130.2 1466.1 1127.7 1470.6C1125.2 1475.1 1122.5 1480 1119 1484C1115.5 1488 1110.9 1492 1106.6 1494.8C1102.3 1497.6 1097.8 1499 1093 1501C1088.2 1503 1082.8 1505.1 1078 1506.7C1073.2 1508.3 1069.1 1509.6 1064.3 1510.5C1059.5 1511.4 1054.1 1511.8 1048.9 1512.2C1043.7 1512.6 1038.6 1512.8 1033.2 1513C1027.8 1513.2 1022.7 1513.5 1016.5 1513.4C1010.3 1513.3 999.4 1512.7 996 1512.5" fill="none" stroke="#1a7fa8" stroke-width="8" stroke-dasharray="8 7.5"/><path d="M1247.5 1290C1247.5 1293.2 1247.6 1303.6 1247.5 1309.5C1247.4 1315.4 1247.3 1320.3 1247 1325.6C1246.7 1330.9 1246.6 1336.3 1245.8 1341.5C1245 1346.7 1243.8 1351.6 1242.3 1356.6C1240.8 1361.6 1239 1366.8 1237 1371.5C1235 1376.2 1232.7 1380.7 1230 1385C1227.3 1389.3 1223.9 1393.4 1220.6 1397.3C1217.3 1401.2 1213.7 1404.8 1210.3 1408.6C1206.9 1412.4 1203.8 1416.2 1200 1420C1196.2 1423.8 1191.5 1427.7 1187.6 1431.3C1183.6 1434.9 1180.2 1438.2 1176.3 1441.7C1172.3 1445.2 1168 1448.7 1163.9 1452C1159.8 1455.3 1155.5 1458.2 1151.5 1461.3C1147.5 1464.4 1143.8 1467.7 1140 1470.6C1136.2 1473.5 1130.7 1477.4 1128.8 1478.8" fill="none" stroke="#1a7fa8" stroke-width="8" stroke-dasharray="8 7.5"/><path d="M1297 1448.4C1293.7 1448.8 1283.4 1450.2 1277.4 1451C1271.4 1451.8 1266.2 1452.3 1260.9 1453C1255.6 1453.7 1250.6 1454.3 1245.4 1455C1240.2 1455.7 1235.2 1456.2 1230 1457C1224.8 1457.8 1219.6 1458.8 1214.4 1459.8C1209.2 1460.8 1204 1462.2 1199 1463.3C1194 1464.4 1189.5 1465.2 1184.5 1466.4C1179.5 1467.6 1174 1469 1169 1470.6C1164 1472.1 1158.9 1474 1154.6 1475.7C1150.3 1477.4 1144.9 1480.1 1143 1481" fill="none" stroke="#1a7fa8" stroke-width="8" stroke-dasharray="8 7.5"/><path d="M739.5 1617.5L711.5 1609.5L719.5 1636.5Z" fill="#1a7fa8"/><path d="M964.5 1507.7L989.8 1498L988.6 1523.8Z" fill="#1a7fa8"/>
<g transform="translate(-1621.8 175.9) scale(2.085 2.08)"><use href="#figbr"/></g>
<clipPath id="ce"><path clip-rule="evenodd" d="M286 1047H1303V1713H286ZM1057 1444H1100V1556H1057Z"/></clipPath><g clip-path="url(#ce)"><ellipse cx="1055" cy="1511" rx="28.5" ry="92.5" fill="none" stroke="#fff" stroke-width="9.5"/><ellipse cx="1055" cy="1511" rx="28.5" ry="92.5" fill="none" stroke="#000" stroke-width="3.4"/></g>
</g>
<path d="M781.1 63.9L888.3 169.6" stroke="#fff" stroke-width="2.7"/><path d="M782.5 62.5L889 167.5" stroke="#000" stroke-width="1.4"/>
<path d="M973.2 69.8L1026.5 196.7" stroke="#fff" stroke-width="2.7"/><path d="M975 69L1028 195" stroke="#000" stroke-width="1.4"/>
<path d="M1240.4 63.9L1133.7 169.6" stroke="#fff" stroke-width="2.7"/><path d="M1239 62.5L1133 167.5" stroke="#000" stroke-width="1.4"/>
<path d="M533.5 194.4L790.5 254.7" stroke="#fff" stroke-width="2.7"/><path d="M534 192.5L790 252.5" stroke="#000" stroke-width="1.4"/>
<path d="M414.9 301L775.9 313" stroke="#fff" stroke-width="2.7"/><path d="M415 299L775 311" stroke="#000" stroke-width="1.4"/>
<path d="M251.7 522.8L420.2 593.2" stroke="#fff" stroke-width="2.7"/><path d="M252.5 521L420 591" stroke="#000" stroke-width="1.4"/>
<path d="M779.9 786.5L912.1 661.8" stroke="#fff" stroke-width="2.7"/><path d="M778.5 785L910 661" stroke="#000" stroke-width="1.4"/>
<path d="M1461.4 317L1385.4 314.5" stroke="#fff" stroke-width="2.7"/><path d="M1461.5 315L1386.5 312.5" stroke="#000" stroke-width="1.4"/>
<path d="M220.5 1133.4L476.4 1070.7" stroke="#fff" stroke-width="2.7"/><path d="M220 1131.5L475 1069" stroke="#000" stroke-width="1.4"/>
<path d="M219.8 1133.5L894.8 1199.6" stroke="#fff" stroke-width="2.7"/><path d="M220 1131.5L894 1197.5" stroke="#000" stroke-width="1.4"/>
<path d="M282.4 1232L725.9 1253" stroke="#fff" stroke-width="2.7"/><path d="M282.5 1230L725 1251" stroke="#000" stroke-width="1.4"/>
<path d="M217.7 1337L368.7 1320.9" stroke="#fff" stroke-width="2.7"/><path d="M217.5 1335L367.5 1319" stroke="#000" stroke-width="1.4"/>
<path d="M217 1336.9L452.9 1401.2" stroke="#fff" stroke-width="2.7"/><path d="M217.5 1335L452.5 1399" stroke="#000" stroke-width="1.4"/>
<path d="M252.4 1450.5L308.4 1452" stroke="#fff" stroke-width="2.7"/><path d="M252.5 1448.5L307.5 1450" stroke="#000" stroke-width="1.4"/>
<path d="M262.5 1502L319.5 1503" stroke="#fff" stroke-width="2.7"/><path d="M262.5 1500L318.5 1501" stroke="#000" stroke-width="1.4"/>
<path d="M235.6 1682.8L342.2 1550.5" stroke="#fff" stroke-width="2.7"/><path d="M234 1681.5L340 1550" stroke="#000" stroke-width="1.4"/>
<path d="M422.4 1748.9L524.6 1644.7" stroke="#fff" stroke-width="2.7"/><path d="M421 1747.5L522.5 1644" stroke="#000" stroke-width="1.4"/>
<path d="M622 1740.3L595.4 1531.8" stroke="#fff" stroke-width="2.7"/><path d="M624 1740L597.5 1532.5" stroke="#000" stroke-width="1.4"/>
<path d="M804.5 1740.3L758.9 1446.8" stroke="#fff" stroke-width="2.7"/><path d="M806.5 1740L761 1447.5" stroke="#000" stroke-width="1.4"/>
<path d="M954.7 1750.8L886.8 1594.9" stroke="#fff" stroke-width="2.7"/><path d="M956.5 1750L889 1595" stroke="#000" stroke-width="1.4"/>
<path d="M1358.4 1679.4L1082.4 1587.6" stroke="#fff" stroke-width="2.7"/><path d="M1359 1677.5L1084 1586" stroke="#000" stroke-width="1.4"/>
<path d="M1356.5 1476L1283 1476" stroke="#fff" stroke-width="2.7"/><path d="M1356.5 1474L1284 1474" stroke="#000" stroke-width="1.4"/>
<path d="M1356.2 1342L1290.7 1349.6" stroke="#fff" stroke-width="2.7"/><path d="M1356 1340L1291.5 1347.5" stroke="#000" stroke-width="1.4"/>
<path d="M1352.8 1255.5L1095.8 1288.1" stroke="#fff" stroke-width="2.7"/><path d="M1352.5 1253.5L1096.5 1286" stroke="#000" stroke-width="1.4"/>
<path d="M1351.4 1172L1162.9 1158.4" stroke="#fff" stroke-width="2.7"/><path d="M1351.5 1170L1164 1156.5" stroke="#000" stroke-width="1.4"/>
<path d="M1349.6 1093L1251.6 1070.7" stroke="#fff" stroke-width="2.7"/><path d="M1350 1091L1253 1069" stroke="#000" stroke-width="1.4"/>
<path d="M871.3 976L942.8 1101.9" stroke="#fff" stroke-width="2.7"/><path d="M873 975L944 1100" stroke="#000" stroke-width="1.4"/>
<path d="M1073.3 974.8L1022.9 1085.7" stroke="#fff" stroke-width="2.7"/><path d="M1071.5 974L1021.5 1084" stroke="#000" stroke-width="1.4"/>
<g style="filter:grayscale(1)" transform="translate(-0.3 -0.3)"><text x="605" y="62.5" textLength="175" lengthAdjust="spacingAndGlyphs">otic capsule</text>
<text x="949" y="62.5" textLength="21" lengthAdjust="spacingAndGlyphs">X</text>
<text x="1241.5" y="62.5" textLength="255" lengthAdjust="spacingAndGlyphs">somitic segments</text>
<text x="282.5" y="192.5" textLength="242.5" lengthAdjust="spacingAndGlyphs">lateral head vein</text>
<text x="228.5" y="305" textLength="175" lengthAdjust="spacingAndGlyphs">dorsal aorta</text>
<text x="33.5" y="444" textLength="196.5" lengthAdjust="spacingAndGlyphs">marginal vein</text>
<text x="33.5" y="486" textLength="123" lengthAdjust="spacingAndGlyphs">(anterior</text>
<text x="42.5" y="527" textLength="196.5" lengthAdjust="spacingAndGlyphs">cardinal vein)</text>
<text x="498.5" y="806" textLength="278" lengthAdjust="spacingAndGlyphs">ventral jugular vein</text>
<text x="1472.5" y="329" textLength="20.5" lengthAdjust="spacingAndGlyphs">X</text>
<text x="1472.5" y="371" textLength="150" lengthAdjust="spacingAndGlyphs">(intestinal)</text>
<text x="815" y="911" textLength="305" lengthAdjust="spacingAndGlyphs">X (cardiac branches)</text>
<text x="773" y="961.5" textLength="173" lengthAdjust="spacingAndGlyphs">arterial pole</text>
<text x="984" y="961.5" textLength="179" lengthAdjust="spacingAndGlyphs">venous pole</text>
<text x="1361.5" y="1101" textLength="242.5" lengthAdjust="spacingAndGlyphs">lateral head vein</text>
<text x="1363" y="1181" textLength="207.5" lengthAdjust="spacingAndGlyphs">brachial nerve</text>
<text x="1365.5" y="1262.5" textLength="249.5" lengthAdjust="spacingAndGlyphs">subclavian artery</text>
<text x="1366.5" y="1349" textLength="175" lengthAdjust="spacingAndGlyphs">hepatic vein</text>
<text x="1366.5" y="1461.5" textLength="127.5" lengthAdjust="spacingAndGlyphs">posterior</text>
<text x="1366.5" y="1502.5" textLength="185" lengthAdjust="spacingAndGlyphs">cardinal vein</text>
<text x="1366.5" y="1697.5" textLength="153.5" lengthAdjust="spacingAndGlyphs">midventral</text>
<text x="1366.5" y="1738.5" textLength="118.5" lengthAdjust="spacingAndGlyphs">fenestra</text>
<text x="956.5" y="1774" textLength="302.5" lengthAdjust="spacingAndGlyphs">extrabranchial artery</text>
<text x="770" y="1774" textLength="90" lengthAdjust="spacingAndGlyphs">atrium</text>
<text x="560" y="1773" textLength="121" lengthAdjust="spacingAndGlyphs">ventricle</text>
<text x="95" y="1773" textLength="321" lengthAdjust="spacingAndGlyphs">common cardinal vein</text>
<text x="60" y="1660" textLength="97.5" lengthAdjust="spacingAndGlyphs">ventral</text>
<text x="60" y="1701" textLength="168" lengthAdjust="spacingAndGlyphs">jugular vein</text>
<text x="56.5" y="1511" textLength="195.5" lengthAdjust="spacingAndGlyphs">marginal vein</text>
<text x="57.5" y="1552.5" textLength="121" lengthAdjust="spacingAndGlyphs">(anterior</text>
<text x="65" y="1594" textLength="196" lengthAdjust="spacingAndGlyphs">cardinal vein)</text>
<text x="56.5" y="1457.5" textLength="184" lengthAdjust="spacingAndGlyphs">ventral aorta</text>
<text x="67.5" y="1305" textLength="111" lengthAdjust="spacingAndGlyphs">afferent</text>
<text x="67.5" y="1346.5" textLength="134" lengthAdjust="spacingAndGlyphs">branchial</text>
<text x="67.5" y="1388.5" textLength="109" lengthAdjust="spacingAndGlyphs">arteries</text>
<text x="67.5" y="1098.5" textLength="111.5" lengthAdjust="spacingAndGlyphs">efferent</text>
<text x="67.5" y="1141" textLength="134" lengthAdjust="spacingAndGlyphs">branchial</text>
<text x="67.5" y="1182.5" textLength="110" lengthAdjust="spacingAndGlyphs">arteries</text>
<text x="67.5" y="1237.5" textLength="210" lengthAdjust="spacingAndGlyphs">sinus venosus</text></g>
</svg>
</body></html>
